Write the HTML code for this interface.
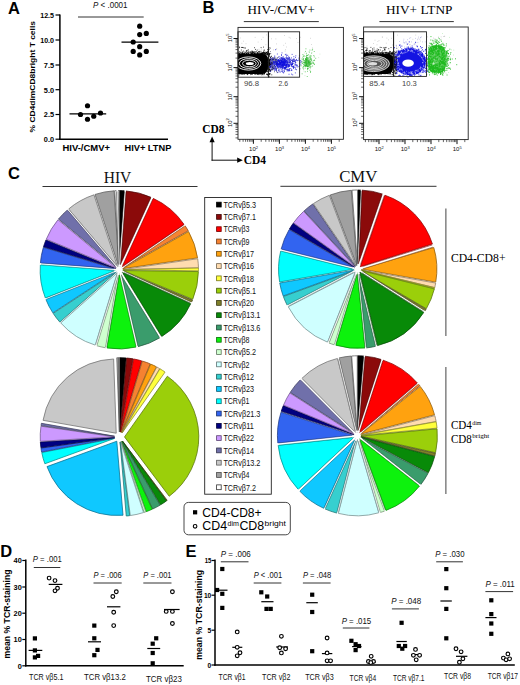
<!DOCTYPE html>
<html><head><meta charset="utf-8"><title>Figure</title>
<style>html,body{margin:0;padding:0;background:#fff}svg{display:block}</style></head>
<body>
<svg width="520" height="685" viewBox="0 0 520 685">
<rect width="520" height="685" fill="#fff"/>
<text x="8.1" y="13.5" font-family="'Liberation Sans', sans-serif" font-size="16.5" font-weight="bold" font-style="normal" text-anchor="start" fill="#000" >A</text>
<line x1="59.9" y1="14.4" x2="59.9" y2="139.9" stroke="#000" stroke-width="1.5" stroke-linecap="butt"/>
<line x1="59.2" y1="139.2" x2="168.0" y2="139.2" stroke="#000" stroke-width="1.5" stroke-linecap="butt"/>
<line x1="55.5" y1="15.0" x2="60.0" y2="15.0" stroke="#000" stroke-width="1.2" stroke-linecap="butt"/>
<text x="54.0" y="17.9" font-family="'Liberation Sans', sans-serif" font-size="8" font-weight="bold" font-style="normal" text-anchor="end" fill="#000" textLength="13.8" lengthAdjust="spacingAndGlyphs" >12.5</text>
<line x1="55.5" y1="40.0" x2="60.0" y2="40.0" stroke="#000" stroke-width="1.2" stroke-linecap="butt"/>
<text x="54.0" y="42.9" font-family="'Liberation Sans', sans-serif" font-size="8" font-weight="bold" font-style="normal" text-anchor="end" fill="#000" textLength="13.8" lengthAdjust="spacingAndGlyphs" >10.0</text>
<line x1="55.5" y1="65.0" x2="60.0" y2="65.0" stroke="#000" stroke-width="1.2" stroke-linecap="butt"/>
<text x="54.0" y="67.9" font-family="'Liberation Sans', sans-serif" font-size="8" font-weight="bold" font-style="normal" text-anchor="end" fill="#000" textLength="10.2" lengthAdjust="spacingAndGlyphs" >7.5</text>
<line x1="55.5" y1="89.7" x2="60.0" y2="89.7" stroke="#000" stroke-width="1.2" stroke-linecap="butt"/>
<text x="54.0" y="92.6" font-family="'Liberation Sans', sans-serif" font-size="8" font-weight="bold" font-style="normal" text-anchor="end" fill="#000" textLength="10.2" lengthAdjust="spacingAndGlyphs" >5.0</text>
<line x1="55.5" y1="114.5" x2="60.0" y2="114.5" stroke="#000" stroke-width="1.2" stroke-linecap="butt"/>
<text x="54.0" y="117.4" font-family="'Liberation Sans', sans-serif" font-size="8" font-weight="bold" font-style="normal" text-anchor="end" fill="#000" textLength="10.2" lengthAdjust="spacingAndGlyphs" >2.5</text>
<line x1="55.5" y1="139.2" x2="60.0" y2="139.2" stroke="#000" stroke-width="1.2" stroke-linecap="butt"/>
<text x="54.0" y="142.1" font-family="'Liberation Sans', sans-serif" font-size="8" font-weight="bold" font-style="normal" text-anchor="end" fill="#000" textLength="10.2" lengthAdjust="spacingAndGlyphs" >0.0</text>
<g transform="translate(35.3,132.5) rotate(-90)">
<text x="0.0" y="0.0" font-family="'Liberation Sans', sans-serif" font-size="8" font-weight="bold" font-style="normal" text-anchor="start" fill="#000" textLength="111.5" lengthAdjust="spacingAndGlyphs" >% CD4dimCD8bright T cells</text>
</g>
<text x="93.0" y="8.3" font-family="'Liberation Sans', sans-serif" font-size="8.4" font-weight="normal" font-style="normal" text-anchor="start" fill="#111" textLength="34.5" lengthAdjust="spacingAndGlyphs" ><tspan font-style="italic">P</tspan> &lt; .0001</text>
<line x1="78.0" y1="17.0" x2="143.7" y2="17.0" stroke="#333" stroke-width="1" stroke-linecap="butt"/>
<circle cx="87.5" cy="105.75" r="2.6" fill="#000"/>
<circle cx="80.5" cy="114.5" r="2.6" fill="#000"/>
<circle cx="100.5" cy="113" r="2.6" fill="#000"/>
<circle cx="87.5" cy="119.25" r="2.6" fill="#000"/>
<circle cx="93.75" cy="116.25" r="2.6" fill="#000"/>
<line x1="69.5" y1="113.8" x2="106.2" y2="113.8" stroke="#000" stroke-width="1.3" stroke-linecap="butt"/>
<circle cx="139.7" cy="26.2" r="2.6" fill="#000"/>
<circle cx="139.7" cy="34.6" r="2.6" fill="#000"/>
<circle cx="146.3" cy="33.4" r="2.6" fill="#000"/>
<circle cx="133.2" cy="42" r="2.6" fill="#000"/>
<circle cx="139.7" cy="46.7" r="2.6" fill="#000"/>
<circle cx="133.2" cy="51.4" r="2.6" fill="#000"/>
<circle cx="146.3" cy="51.4" r="2.6" fill="#000"/>
<circle cx="139.7" cy="54.9" r="2.6" fill="#000"/>
<line x1="121.5" y1="42.2" x2="158.4" y2="42.2" stroke="#000" stroke-width="1.3" stroke-linecap="butt"/>
<text x="62.5" y="151.4" font-family="'Liberation Sans', sans-serif" font-size="9" font-weight="bold" font-style="normal" text-anchor="start" fill="#000" textLength="47.5" lengthAdjust="spacingAndGlyphs" >HIV-/CMV+</text>
<text x="124.5" y="151.4" font-family="'Liberation Sans', sans-serif" font-size="9" font-weight="bold" font-style="normal" text-anchor="start" fill="#000" textLength="46.8" lengthAdjust="spacingAndGlyphs" >HIV+ LTNP</text>
<text x="202.5" y="13.3" font-family="'Liberation Sans', sans-serif" font-size="16.5" font-weight="bold" font-style="normal" text-anchor="start" fill="#000" >B</text>
<text x="247.6" y="14.4" font-family="'Liberation Serif', serif" font-size="13.5" font-weight="normal" font-style="normal" text-anchor="start" fill="#000" textLength="67.2" lengthAdjust="spacingAndGlyphs" >HIV-/CMV+</text>
<line x1="243.8" y1="21.6" x2="318.8" y2="21.6" stroke="#333" stroke-width="1" stroke-linecap="butt"/>
<text x="386.0" y="14.4" font-family="'Liberation Serif', serif" font-size="13.5" font-weight="normal" font-style="normal" text-anchor="start" fill="#000" textLength="66.4" lengthAdjust="spacingAndGlyphs" >HIV+ LTNP</text>
<line x1="379.4" y1="21.6" x2="453.8" y2="21.6" stroke="#333" stroke-width="1" stroke-linecap="butt"/>
<rect x="238" y="27.4" width="105.4" height="111.9" fill="#fff" stroke="#222" stroke-width="0.9"/>
<path d="M285.0 49.6h0.6M296.1 38.5h0.6M261.1 49.2h0.6M239.4 48.4h0.6M297.7 42.5h0.6M261.3 39.4h0.6M257.8 42.1h0.6M276.1 43.9h0.6M312.3 47.9h0.6M284.8 51.1h0.6M254.8 37.4h0.6M284.1 35.5h0.6M241.6 43.3h0.6M273.3 49.9h0.6M285.3 43.3h0.6M275.6 38.9h0.6M239.9 38.0h0.6M289.9 38.1h0.6M266.2 34.9h0.6M300.1 37.3h0.6M258.7 49.3h0.6M276.5 48.8h0.6M286.1 47.0h0.6M245.7 43.7h0.6M276.4 49.2h0.6M265.6 44.7h0.6M243.4 41.2h0.6M262.8 37.3h0.6M299.1 41.1h0.6M311.0 44.5h0.6M283.5 45.3h0.6M288.8 37.3h0.6M271.4 38.8h0.6M268.6 36.4h0.6M310.2 38.3h0.6" stroke="#999" stroke-width="0.6" fill="none" opacity="1"/>
<clipPath id="cp238"><rect x="238" y="27.4" width="105.39999999999998" height="111.9"/></clipPath>
<g clip-path="url(#cp238)">
<path d="M259.4 51.9h0.8M259.1 52.9h0.8M268.1 50.0h0.8M242.6 53.9h0.8M255.6 54.3h0.8M258.5 73.4h0.8M251.1 53.7h0.8M266.0 54.1h0.8M248.3 73.8h0.8M249.9 52.3h0.8M268.9 74.0h0.8M254.7 51.6h0.8M256.8 73.7h0.8M254.6 73.9h0.8M242.8 54.0h0.8M262.0 53.0h0.8M251.4 53.9h0.8M258.0 73.5h0.8M261.2 54.0h0.8M249.6 52.2h0.8M268.2 73.9h0.8M246.7 50.9h0.8M269.3 54.1h0.8M266.6 74.2h0.8M251.6 51.1h0.8M267.4 52.9h0.8M254.6 52.2h0.8M263.7 73.8h0.8M258.1 51.7h0.8M250.7 53.5h0.8M244.8 48.1h0.8M241.6 74.4h0.8M257.0 73.8h0.8M268.7 54.5h0.8M258.3 53.9h0.8M251.1 74.2h0.8M261.3 53.8h0.8M263.6 50.3h0.8M267.2 54.1h0.8M238.6 53.0h0.8M244.0 73.8h0.8M256.8 53.2h0.8M238.7 53.5h0.8M255.2 49.4h0.8M257.5 53.4h0.8M239.3 47.3h0.8M265.2 52.3h0.8M248.1 54.5h0.8M263.4 51.8h0.8M263.4 54.2h0.8M266.2 52.5h0.8M258.4 74.6h0.8M259.1 73.7h0.8M263.6 53.2h0.8M265.7 52.9h0.8M238.9 74.8h0.8M256.0 51.3h0.8M246.1 53.9h0.8M241.2 54.4h0.8M259.1 51.4h0.8M249.9 51.9h0.8M245.9 53.8h0.8M240.6 74.2h0.8M247.6 54.3h0.8M242.2 54.5h0.8M240.6 52.1h0.8M247.8 49.7h0.8M244.0 54.3h0.8M250.0 74.6h0.8M261.2 73.9h0.8M259.5 54.2h0.8M254.5 74.2h0.8M246.5 53.0h0.8M266.6 52.5h0.8M263.5 74.7h0.8M269.8 48.1h0.8M262.8 54.2h0.8M243.9 73.4h0.8M261.0 54.4h0.8M251.4 52.4h0.8M255.3 54.0h0.8M261.0 53.4h0.8M267.3 54.2h0.8M262.3 53.0h0.8M260.7 47.6h0.8M241.9 52.5h0.8M241.7 53.7h0.8M252.2 74.1h0.8M267.2 54.2h0.8M240.2 54.1h0.8M248.0 52.8h0.8M252.5 52.5h0.8M266.3 52.3h0.8M250.6 52.7h0.8M254.1 53.3h0.8M265.4 53.8h0.8M259.4 54.2h0.8M247.0 54.4h0.8M255.1 53.8h0.8M265.9 54.4h0.8M241.6 47.4h0.8M245.4 52.5h0.8M254.2 54.0h0.8M239.3 51.6h0.8M240.1 53.0h0.8M266.1 74.2h0.8M262.3 74.2h0.8M259.7 73.7h0.8M243.3 73.7h0.8M267.3 74.4h0.8M267.9 54.2h0.8M240.9 50.0h0.8M263.6 54.0h0.8M260.4 74.2h0.8M251.8 53.9h0.8M264.6 53.7h0.8M244.7 73.6h0.8M240.1 73.5h0.8M268.6 54.3h0.8M261.0 53.2h0.8M240.7 73.6h0.8M267.7 53.9h0.8M258.1 74.0h0.8M256.9 52.8h0.8M266.0 52.5h0.8M261.9 74.1h0.8M263.7 52.6h0.8M264.1 73.6h0.8M251.0 73.5h0.8M261.7 53.1h0.8M262.1 53.3h0.8M264.4 52.3h0.8M263.0 52.2h0.8M239.1 53.1h0.8M256.5 73.9h0.8M259.6 74.0h0.8M243.9 53.5h0.8M251.7 51.5h0.8M252.3 52.1h0.8M268.2 51.4h0.8M246.5 50.5h0.8M259.9 53.2h0.8M244.3 53.4h0.8M264.4 54.0h0.8M252.6 53.8h0.8M244.4 53.1h0.8M262.6 53.2h0.8M264.1 54.0h0.8M259.8 54.0h0.8M250.0 73.5h0.8M253.2 54.4h0.8M244.5 52.0h0.8M247.8 53.7h0.8M251.5 74.1h0.8M244.2 54.2h0.8M262.5 53.3h0.8M258.9 73.6h0.8M261.9 54.4h0.8M252.0 54.1h0.8M252.1 73.5h0.8M242.4 54.0h0.8M268.7 53.8h0.8M243.3 54.2h0.8M252.6 54.3h0.8M263.3 52.3h0.8M251.0 54.1h0.8M243.1 47.7h0.8M259.3 54.2h0.8M257.2 74.2h0.8M268.4 53.2h0.8M248.1 51.2h0.8M267.2 49.7h0.8M259.2 73.7h0.8M268.4 74.5h0.8M254.4 52.9h0.8M260.1 54.0h0.8M262.1 53.5h0.8M242.2 53.7h0.8M252.3 52.1h0.8M266.7 74.5h0.8M250.9 54.1h0.8M245.8 53.7h0.8M259.9 54.1h0.8M268.0 53.7h0.8M242.1 53.2h0.8M254.5 53.6h0.8M265.0 54.1h0.8M262.4 73.8h0.8M258.1 52.0h0.8M247.3 73.5h0.8M261.6 52.6h0.8M260.3 54.2h0.8M268.7 74.5h0.8M261.3 53.6h0.8M265.4 53.9h0.8M247.7 53.2h0.8M246.6 53.3h0.8M252.9 53.6h0.8M267.4 53.3h0.8M254.2 53.3h0.8M263.7 52.9h0.8M265.6 54.0h0.8M254.6 54.3h0.8M240.3 53.9h0.8M253.0 52.6h0.8M248.2 54.3h0.8M242.9 54.1h0.8M268.4 73.7h0.8M248.3 73.4h0.8M256.8 50.1h0.8M244.3 74.1h0.8M243.3 74.1h0.8M242.3 51.8h0.8M250.9 52.9h0.8M255.3 73.8h0.8M241.4 47.5h0.8M241.2 53.6h0.8M265.1 53.7h0.8M248.6 52.3h0.8M267.4 54.1h0.8M253.5 51.5h0.8M252.0 53.1h0.8M269.3 74.7h0.8M263.8 53.8h0.8M238.4 52.9h0.8M252.5 73.5h0.8M243.3 53.8h0.8M239.7 54.5h0.8M252.8 52.8h0.8M247.0 52.6h0.8M262.1 54.1h0.8M262.1 54.4h0.8M267.3 51.5h0.8M246.1 53.8h0.8M257.2 53.0h0.8M260.7 54.3h0.8M269.0 73.5h0.8M266.9 52.0h0.8M248.6 53.8h0.8M267.3 74.5h0.8M256.1 53.6h0.8M261.5 74.9h0.8M243.0 51.1h0.8M263.0 47.1h0.8M246.5 53.5h0.8M268.2 53.9h0.8M250.9 54.4h0.8M253.0 54.4h0.8M251.8 53.7h0.8M262.1 73.7h0.8M263.6 52.6h0.8M246.9 54.2h0.8M249.9 54.4h0.8M244.0 54.1h0.8M262.1 54.4h0.8M239.1 53.6h0.8M246.1 51.2h0.8M256.8 53.4h0.8M240.6 52.6h0.8M246.1 53.3h0.8M247.1 74.4h0.8M268.3 54.3h0.8M257.2 74.0h0.8M248.5 53.3h0.8M255.5 53.0h0.8M248.6 54.2h0.8M267.6 53.3h0.8M260.6 51.3h0.8M268.6 49.5h0.8M241.0 53.9h0.8M245.0 54.5h0.8M258.2 54.1h0.8M266.8 53.4h0.8M240.8 73.6h0.8M255.5 74.0h0.8M246.3 73.9h0.8M264.1 73.6h0.8M238.5 53.5h0.8M242.1 74.1h0.8M263.1 53.1h0.8M239.1 47.2h0.8M245.8 51.2h0.8M247.9 54.4h0.8M252.1 53.1h0.8M254.0 47.7h0.8M248.1 53.5h0.8M254.1 53.8h0.8M269.6 73.9h0.8M254.3 53.2h0.8M268.3 53.1h0.8M242.8 53.0h0.8M257.9 73.8h0.8M244.7 53.9h0.8M260.3 53.3h0.8M269.1 54.0h0.8M251.7 73.6h0.8M246.1 53.9h0.8M250.2 53.8h0.8M259.0 54.2h0.8M268.6 53.7h0.8M265.4 53.4h0.8M247.2 74.6h0.8M257.2 53.6h0.8M263.8 54.4h0.8M249.2 54.4h0.8M257.9 53.7h0.8M268.7 47.8h0.8M263.7 53.3h0.8M244.5 47.9h0.8M257.8 53.2h0.8M254.6 54.5h0.8M242.1 47.5h0.8M242.5 54.3h0.8M242.3 53.2h0.8M251.5 53.4h0.8M259.2 54.0h0.8M252.8 52.3h0.8M260.9 54.0h0.8M250.6 54.4h0.8M259.5 54.2h0.8M269.6 53.6h0.8M268.6 54.1h0.8M244.8 53.1h0.8M256.9 52.4h0.8M263.9 50.1h0.8M242.4 54.4h0.8M251.7 51.3h0.8M254.3 53.7h0.8M262.4 73.4h0.8M269.6 73.6h0.8" stroke="#000" stroke-width="0.8" fill="none" opacity="1"/>
<path d="M268.8 61.5h0.8M268.6 62.0h0.8M269.9 63.9h0.8M272.3 69.0h0.8M269.3 58.9h0.8M267.8 68.3h0.8M268.7 59.8h0.8M268.8 67.6h0.8M267.7 57.7h0.8M270.3 59.8h0.8M271.8 67.0h0.8M268.3 65.7h0.8M271.0 69.2h0.8M269.4 67.6h0.8M269.4 59.6h0.8M269.0 62.8h0.8M270.4 70.7h0.8M272.2 57.8h0.8M267.5 62.2h0.8M267.3 64.7h0.8M267.4 69.0h0.8M271.6 63.3h0.8M268.5 64.0h0.8M267.4 58.7h0.8M268.3 67.3h0.8M267.7 59.9h0.8M271.4 74.8h0.8M270.1 64.8h0.8M272.4 67.2h0.8M267.4 62.3h0.8M268.1 62.2h0.8M268.1 67.0h0.8M267.8 61.1h0.8M269.5 63.1h0.8M268.9 62.4h0.8M269.2 65.1h0.8M268.0 65.1h0.8M267.0 62.7h0.8M267.6 67.1h0.8M269.3 70.0h0.8M267.0 59.6h0.8M268.0 59.9h0.8M267.3 59.7h0.8M269.4 59.4h0.8M271.9 59.6h0.8M271.3 63.1h0.8M269.2 66.5h0.8M269.8 59.5h0.8M270.8 64.9h0.8M266.9 68.6h0.8M272.3 69.8h0.8M267.2 65.1h0.8M268.3 60.2h0.8M269.2 63.6h0.8M269.0 63.0h0.8M267.1 75.0h0.8M268.8 62.7h0.8M267.3 65.5h0.8M269.2 60.8h0.8M268.7 55.1h0.8M268.9 66.0h0.8M267.0 58.2h0.8M267.7 63.5h0.8M268.0 60.3h0.8M267.5 54.2h0.8M269.4 71.4h0.8M271.7 61.6h0.8M267.4 61.4h0.8M268.7 63.0h0.8M266.9 62.9h0.8M271.0 62.6h0.8M268.8 60.6h0.8M267.4 66.5h0.8M268.9 60.8h0.8M268.9 69.2h0.8M269.4 70.2h0.8M267.2 62.4h0.8M268.7 56.5h0.8M267.4 60.6h0.8M267.7 54.6h0.8M268.9 63.2h0.8M268.9 68.3h0.8M267.1 62.4h0.8M268.7 65.3h0.8M267.4 66.3h0.8M270.8 63.1h0.8M270.2 59.0h0.8M270.1 57.3h0.8M269.8 64.4h0.8M270.2 66.6h0.8M269.7 61.5h0.8M268.4 61.6h0.8M267.5 66.5h0.8M269.5 69.4h0.8M269.5 70.1h0.8M268.4 55.6h0.8M267.2 64.9h0.8M267.7 67.9h0.8M267.7 58.7h0.8M270.1 66.6h0.8M267.4 67.9h0.8M269.2 65.0h0.8M272.3 59.9h0.8M267.9 58.4h0.8M267.3 69.3h0.8M268.0 57.6h0.8M271.4 61.0h0.8M269.6 64.5h0.8M267.8 59.8h0.8M268.6 60.9h0.8M268.9 64.2h0.8M268.6 60.1h0.8M267.6 62.8h0.8M273.1 59.8h0.8M269.9 63.0h0.8M267.2 66.9h0.8M268.9 69.6h0.8M267.6 60.3h0.8M268.1 65.8h0.8M268.2 70.3h0.8M267.8 68.6h0.8M270.2 64.1h0.8M270.2 57.4h0.8M270.1 71.3h0.8M268.8 69.5h0.8M268.2 71.9h0.8M269.1 62.8h0.8M267.3 63.7h0.8M267.3 60.6h0.8M267.0 71.3h0.8M270.6 64.6h0.8M268.9 64.2h0.8M268.7 63.0h0.8M268.6 55.4h0.8M269.3 60.3h0.8M268.3 64.2h0.8M272.6 59.5h0.8M267.4 71.1h0.8M267.5 64.6h0.8M270.0 70.5h0.8M270.9 63.4h0.8M267.4 55.2h0.8M268.8 76.7h0.8M268.5 69.6h0.8M268.1 58.4h0.8M269.8 57.1h0.8M267.4 64.7h0.8M268.8 65.4h0.8M267.8 59.5h0.8M269.7 63.6h0.8M268.5 56.8h0.8M269.7 60.8h0.8M271.0 56.6h0.8M270.5 64.2h0.8M267.8 73.3h0.8M270.2 59.9h0.8M268.9 62.2h0.8M267.6 71.8h0.8M267.6 57.5h0.8M269.8 65.0h0.8" stroke="#000" stroke-width="0.8" fill="none" opacity="1"/>
<path d="M238 54.0H262.4Q267.9 54.0 267.9 59.3V67.3Q267.9 73.9 262.4 73.9H238Z" fill="#000"/>
<ellipse cx="248.5" cy="63.5" rx="12.3" ry="6.6" fill="none" stroke="#fff" stroke-width="0.9"/>
<ellipse cx="248.9" cy="63.5" rx="9.6" ry="4.9" fill="none" stroke="#fff" stroke-width="0.9"/>
<ellipse cx="249.3" cy="63.5" rx="6.8" ry="3.3" fill="none" stroke="#fff" stroke-width="0.9"/>
<ellipse cx="249.8" cy="63.5" rx="4" ry="1.5" fill="#fff"/>
</g>
<path d="M285.1 58.0h0.85M274.1 65.6h0.85M287.4 60.9h0.85M287.8 65.8h0.85M286.0 61.2h0.85M288.9 69.8h0.85M272.9 67.3h0.85M293.0 67.4h0.85M283.8 58.9h0.85M287.8 60.6h0.85M288.5 70.8h0.85M274.8 69.4h0.85M296.0 69.7h0.85M282.3 58.7h0.85M281.0 54.7h0.85M274.1 62.8h0.85M281.6 71.2h0.85M293.5 63.3h0.85M292.8 60.4h0.85M279.6 67.1h0.85M271.9 62.4h0.85M271.3 64.0h0.85M296.4 60.5h0.85M284.4 59.9h0.85M272.7 58.6h0.85M294.9 72.9h0.85M286.6 60.6h0.85M288.5 62.2h0.85M289.3 64.7h0.85M284.9 65.9h0.85M277.6 61.9h0.85M270.4 62.9h0.85M274.4 63.9h0.85M286.4 57.8h0.85M275.6 59.7h0.85M288.8 70.3h0.85M289.7 62.1h0.85M295.0 57.4h0.85M295.2 60.9h0.85M295.9 59.4h0.85M283.9 62.6h0.85M283.4 57.6h0.85M276.7 65.4h0.85M284.4 68.3h0.85M283.2 72.9h0.85M276.4 64.5h0.85M293.8 59.7h0.85M287.0 63.3h0.85M273.6 62.1h0.85M278.1 61.6h0.85M288.9 66.1h0.85M277.6 59.9h0.85M284.9 63.1h0.85M291.2 74.1h0.85M289.7 63.4h0.85M281.0 60.1h0.85M274.8 59.5h0.85M279.1 61.8h0.85M288.8 61.9h0.85M280.8 58.6h0.85M296.5 65.5h0.85M297.7 66.7h0.85M295.2 62.5h0.85M288.6 74.3h0.85M272.1 68.2h0.85M296.9 65.2h0.85M289.0 68.6h0.85M276.8 65.2h0.85M275.0 60.7h0.85M277.1 62.9h0.85M283.8 65.4h0.85M270.2 71.6h0.85M292.6 66.5h0.85M279.4 63.1h0.85M287.3 65.2h0.85M291.2 65.0h0.85M281.5 69.1h0.85M272.2 64.2h0.85M295.3 62.7h0.85M278.9 64.0h0.85M278.6 69.9h0.85M274.6 67.1h0.85M271.6 66.3h0.85M281.6 52.9h0.85M282.4 59.1h0.85M278.6 69.8h0.85M272.7 59.1h0.85M295.1 64.0h0.85M296.0 64.8h0.85M274.8 63.2h0.85M293.2 67.4h0.85M282.5 63.7h0.85M281.5 61.1h0.85M299.4 63.5h0.85M272.6 61.5h0.85M288.8 66.1h0.85M281.3 60.8h0.85M282.7 56.6h0.85M271.1 66.8h0.85M278.3 65.0h0.85M293.1 66.2h0.85M282.7 72.3h0.85M288.3 62.0h0.85M288.9 65.2h0.85M275.0 63.8h0.85M281.1 55.4h0.85M281.0 62.3h0.85M278.7 56.7h0.85M279.4 63.3h0.85M283.4 58.8h0.85M288.0 58.5h0.85M280.5 68.9h0.85M276.5 61.4h0.85M291.9 61.9h0.85M279.9 64.4h0.85M291.7 54.4h0.85M275.3 59.4h0.85M273.0 60.0h0.85M275.2 64.7h0.85M274.7 64.0h0.85M286.0 60.5h0.85M283.6 70.2h0.85M285.3 60.9h0.85M281.9 59.7h0.85M284.9 67.0h0.85M275.4 62.6h0.85M292.2 61.5h0.85M284.1 59.3h0.85M275.4 61.4h0.85M301.0 61.9h0.85M278.0 61.2h0.85M281.1 66.1h0.85M284.1 71.7h0.85M284.3 69.3h0.85M284.9 65.9h0.85M270.2 63.0h0.85M281.9 62.5h0.85M279.2 61.7h0.85M280.3 62.6h0.85M286.0 58.4h0.85M274.6 64.7h0.85M283.7 62.0h0.85M277.6 60.2h0.85M282.0 68.2h0.85M273.5 69.6h0.85M289.7 61.7h0.85M289.2 57.6h0.85M279.0 62.2h0.85M278.1 63.9h0.85M270.4 60.9h0.85M279.0 58.9h0.85M270.8 59.5h0.85M282.4 65.9h0.85M287.3 59.5h0.85M275.8 59.8h0.85M286.3 55.4h0.85M293.0 61.6h0.85M275.8 64.9h0.85M291.3 64.9h0.85M291.4 64.0h0.85M293.0 68.5h0.85M281.7 69.3h0.85M283.9 63.8h0.85M274.7 62.3h0.85M289.1 58.2h0.85M288.0 64.9h0.85M284.9 54.7h0.85M281.6 66.1h0.85M276.0 63.9h0.85M276.9 67.0h0.85M280.5 66.7h0.85M274.6 61.0h0.85M276.5 62.4h0.85M273.8 68.3h0.85M297.2 60.7h0.85M291.9 66.8h0.85M292.3 60.0h0.85M281.1 58.0h0.85M270.4 67.4h0.85M276.8 72.6h0.85M283.1 60.9h0.85M289.3 70.7h0.85M286.6 58.6h0.85M285.7 69.0h0.85M278.3 60.4h0.85M291.1 64.1h0.85M273.1 62.0h0.85M276.1 64.7h0.85M283.4 68.1h0.85M288.5 57.2h0.85M286.0 67.1h0.85M286.4 67.6h0.85M277.8 59.7h0.85M290.4 59.2h0.85M276.3 62.3h0.85M270.6 58.2h0.85M272.7 62.1h0.85M285.6 54.3h0.85M288.9 58.8h0.85M273.4 66.2h0.85M281.9 57.4h0.85M298.2 60.1h0.85M284.6 64.3h0.85M294.5 61.7h0.85M291.1 60.5h0.85M292.0 60.4h0.85M279.4 71.1h0.85M285.2 63.9h0.85M275.6 66.4h0.85M272.5 68.0h0.85M292.8 61.2h0.85M277.2 64.2h0.85M282.6 59.6h0.85M287.3 55.3h0.85M278.8 61.9h0.85M280.2 64.7h0.85M272.1 65.9h0.85M281.0 60.9h0.85M270.9 58.8h0.85M285.6 59.6h0.85M283.0 67.7h0.85M291.3 69.7h0.85M280.0 59.2h0.85M291.2 64.7h0.85M292.1 63.5h0.85M292.7 66.9h0.85M288.6 65.5h0.85M285.9 64.4h0.85M284.4 67.5h0.85M278.1 70.4h0.85M281.6 67.4h0.85M281.7 62.5h0.85M299.8 62.3h0.85M271.6 60.6h0.85M279.8 72.1h0.85M284.3 67.2h0.85M274.0 64.9h0.85M288.2 70.7h0.85M276.6 65.9h0.85M285.1 59.4h0.85M282.3 62.4h0.85M287.1 61.7h0.85M271.1 69.4h0.85M284.8 67.6h0.85M294.5 61.4h0.85M289.4 62.5h0.85M282.0 63.2h0.85M282.5 68.0h0.85M283.6 62.9h0.85M280.1 64.9h0.85M274.9 61.5h0.85M282.1 61.2h0.85M281.5 61.1h0.85M299.5 68.8h0.85M286.3 63.3h0.85M281.8 64.7h0.85M285.1 69.1h0.85M282.3 71.9h0.85M275.0 66.3h0.85M274.0 70.8h0.85M279.7 63.3h0.85M290.4 68.5h0.85M273.0 62.1h0.85M270.6 64.0h0.85M281.6 62.1h0.85M276.7 62.0h0.85M276.2 65.6h0.85M295.4 55.8h0.85M281.5 61.8h0.85M286.7 59.7h0.85M281.3 59.3h0.85M288.4 63.9h0.85M281.1 65.0h0.85M280.4 57.3h0.85M287.6 64.7h0.85M281.2 67.4h0.85M292.9 59.1h0.85M275.9 69.7h0.85M294.6 60.5h0.85M272.5 60.9h0.85M278.3 57.2h0.85M282.8 58.4h0.85M272.2 67.2h0.85M276.7 63.2h0.85M287.8 66.8h0.85M279.6 63.7h0.85M275.5 70.5h0.85M288.0 59.1h0.85M282.5 66.4h0.85M286.6 70.8h0.85M294.2 61.3h0.85M281.7 58.4h0.85M284.6 64.1h0.85M283.5 58.5h0.85M275.1 62.0h0.85M285.4 62.8h0.85M274.9 66.7h0.85M277.9 61.5h0.85M270.8 60.4h0.85M288.0 57.0h0.85M281.9 66.4h0.85M279.3 64.5h0.85M273.0 68.7h0.85M291.9 64.4h0.85M290.8 70.4h0.85M285.0 68.5h0.85M277.3 62.7h0.85M282.5 65.2h0.85M269.5 67.3h0.85M293.7 58.9h0.85M271.0 64.9h0.85M276.9 54.0h0.85M289.4 64.1h0.85M278.4 72.0h0.85M283.7 60.5h0.85M283.4 59.3h0.85M276.0 65.0h0.85M277.8 61.7h0.85M296.7 66.9h0.85M289.3 65.6h0.85M286.6 69.3h0.85M282.3 70.9h0.85M274.4 62.5h0.85M270.8 62.1h0.85M286.9 69.3h0.85M276.9 63.5h0.85M279.4 60.5h0.85M272.4 63.7h0.85M282.7 60.9h0.85M273.9 58.0h0.85M298.4 58.1h0.85M295.7 65.9h0.85M279.4 58.9h0.85M291.4 70.4h0.85M274.6 62.3h0.85M291.4 64.8h0.85M299.5 61.2h0.85M287.1 58.5h0.85M300.3 60.6h0.85M281.3 71.2h0.85M279.6 63.4h0.85M287.5 69.8h0.85M282.0 67.7h0.85M286.9 62.3h0.85M283.2 63.6h0.85M274.7 68.4h0.85M270.7 68.2h0.85M290.6 63.1h0.85M276.0 62.6h0.85M286.5 66.5h0.85M284.9 67.5h0.85M277.8 64.4h0.85M269.2 66.6h0.85M283.8 61.8h0.85M292.4 66.3h0.85M270.1 67.8h0.85M283.1 62.5h0.85M285.5 66.1h0.85M293.4 59.6h0.85M295.9 59.8h0.85M284.9 68.1h0.85M288.6 59.7h0.85M276.5 61.7h0.85M282.1 68.1h0.85M271.5 65.4h0.85M287.7 65.7h0.85M286.5 69.6h0.85M286.6 66.9h0.85M287.3 70.7h0.85M280.3 62.4h0.85M274.3 56.0h0.85M279.3 60.8h0.85M286.7 57.6h0.85M294.7 64.6h0.85M280.4 60.7h0.85M275.8 59.0h0.85M277.9 63.5h0.85M281.0 57.8h0.85M280.2 59.9h0.85M283.9 71.0h0.85M287.8 62.2h0.85M276.0 63.8h0.85M277.2 63.9h0.85M294.4 60.8h0.85M279.6 60.3h0.85M289.9 59.4h0.85M272.9 57.9h0.85M270.5 65.4h0.85M290.6 64.5h0.85M273.1 62.4h0.85M280.5 60.7h0.85M298.9 55.9h0.85M285.7 64.8h0.85M277.6 64.1h0.85M290.0 64.1h0.85M286.0 66.3h0.85M291.1 57.9h0.85M281.5 60.3h0.85M277.5 67.4h0.85M275.7 63.0h0.85M283.3 60.7h0.85M276.4 71.0h0.85M272.2 59.3h0.85M275.6 68.3h0.85M300.4 64.8h0.85M276.4 61.8h0.85M291.6 59.9h0.85M294.9 69.2h0.85M283.1 66.1h0.85M288.9 69.7h0.85M273.6 68.2h0.85M279.3 60.4h0.85M283.4 62.6h0.85M274.1 57.1h0.85M274.5 69.3h0.85M299.2 66.1h0.85M292.6 61.4h0.85M281.8 64.6h0.85M273.3 59.5h0.85M283.3 62.2h0.85M273.5 65.0h0.85M280.3 67.6h0.85M282.5 62.3h0.85M283.6 62.8h0.85M276.8 61.9h0.85M288.9 66.1h0.85M293.4 56.7h0.85M279.2 61.8h0.85M284.0 61.7h0.85M278.1 66.6h0.85M284.0 58.8h0.85M293.8 67.5h0.85M277.6 66.8h0.85M276.3 68.0h0.85M280.6 60.3h0.85M279.3 60.4h0.85M284.1 64.2h0.85M282.8 61.3h0.85M292.1 64.6h0.85M279.2 62.8h0.85M281.4 61.3h0.85M277.5 59.8h0.85M292.6 63.4h0.85M290.6 62.5h0.85M283.1 62.8h0.85M286.4 66.8h0.85M284.5 60.8h0.85M275.9 70.1h0.85M280.1 62.3h0.85M295.0 67.9h0.85M287.0 61.9h0.85M287.1 62.8h0.85M270.5 58.2h0.85M286.0 65.1h0.85M280.5 58.8h0.85M270.2 62.2h0.85M270.1 67.1h0.85M292.3 74.8h0.85M290.0 61.1h0.85M275.1 49.7h0.85M277.4 62.8h0.85M290.7 65.9h0.85M287.5 64.4h0.85M288.1 69.3h0.85M273.4 61.7h0.85M270.7 70.0h0.85M293.5 66.5h0.85M272.3 64.2h0.85M280.5 63.8h0.85M280.9 65.6h0.85M279.1 66.9h0.85M284.6 62.3h0.85M281.5 61.7h0.85M289.4 62.4h0.85M285.0 61.9h0.85M269.9 67.1h0.85M273.5 66.2h0.85M286.1 56.9h0.85M274.5 61.4h0.85M275.5 58.8h0.85M288.8 62.5h0.85M285.8 61.8h0.85" stroke="#2020d0" stroke-width="0.85" fill="none" opacity="1"/>
<path d="M283.2 61.8h0.9M281.9 64.8h0.9M282.2 62.5h0.9M277.7 63.9h0.9M283.4 62.9h0.9M278.9 64.7h0.9M291.9 62.8h0.9M283.3 64.3h0.9M271.7 63.8h0.9M279.2 66.5h0.9M281.0 61.8h0.9M281.1 63.9h0.9M279.8 63.4h0.9M276.6 63.0h0.9M285.1 67.8h0.9M284.8 64.1h0.9M286.7 65.7h0.9M288.7 65.9h0.9M281.5 64.1h0.9M282.7 64.2h0.9M282.8 61.8h0.9M273.6 62.0h0.9M273.9 63.6h0.9M282.0 59.8h0.9M284.8 65.4h0.9M282.4 67.2h0.9M289.5 60.8h0.9M286.1 64.5h0.9M283.7 65.6h0.9M279.1 62.2h0.9M278.7 61.8h0.9M281.6 60.3h0.9M277.8 64.8h0.9M281.7 64.3h0.9M274.4 61.8h0.9M279.8 63.6h0.9M279.7 65.6h0.9M281.8 63.5h0.9M282.1 65.1h0.9M280.1 66.0h0.9M283.8 63.8h0.9M282.2 64.6h0.9M286.1 65.6h0.9M283.5 65.4h0.9M282.5 66.3h0.9M281.9 58.9h0.9M287.4 63.7h0.9M277.3 63.1h0.9M278.5 68.1h0.9M284.0 60.0h0.9M284.2 62.6h0.9M289.7 61.2h0.9M273.0 63.6h0.9M280.6 62.6h0.9M273.4 64.4h0.9M288.7 59.3h0.9M286.7 62.2h0.9M291.4 64.5h0.9M281.2 65.9h0.9M284.1 62.2h0.9M284.8 62.4h0.9M274.8 68.0h0.9M280.6 62.2h0.9M283.4 60.1h0.9M276.6 62.4h0.9M279.9 63.7h0.9M286.5 62.5h0.9M284.0 64.8h0.9M277.7 64.0h0.9M278.2 65.8h0.9M283.8 63.5h0.9M276.6 63.8h0.9M278.9 65.1h0.9M281.5 61.7h0.9M285.7 65.1h0.9M279.6 66.1h0.9M280.8 62.8h0.9M282.5 61.8h0.9M280.2 63.1h0.9M288.1 66.8h0.9M281.0 67.0h0.9M281.8 64.3h0.9M285.5 64.1h0.9M291.7 64.0h0.9M277.2 66.4h0.9M280.4 62.8h0.9M270.0 65.7h0.9M285.3 65.3h0.9M285.9 67.2h0.9M281.8 65.6h0.9M279.0 62.7h0.9M286.2 64.4h0.9M276.7 64.3h0.9M281.3 61.7h0.9M283.7 62.6h0.9M275.7 61.1h0.9M289.1 60.2h0.9M282.9 64.8h0.9M284.6 60.8h0.9M280.7 63.8h0.9M285.2 62.1h0.9M277.3 65.7h0.9M286.4 64.3h0.9M279.6 64.4h0.9M282.4 65.3h0.9M277.0 63.8h0.9M281.4 61.1h0.9M282.9 63.6h0.9M280.4 64.4h0.9M276.3 63.4h0.9M283.7 64.1h0.9M286.3 60.9h0.9M276.0 64.0h0.9M283.8 68.2h0.9M284.5 61.6h0.9M285.2 61.6h0.9M276.1 69.2h0.9M283.3 65.1h0.9M284.3 67.5h0.9M283.1 66.2h0.9M277.9 60.4h0.9M287.7 66.7h0.9M284.0 64.0h0.9M282.7 62.0h0.9M288.2 64.9h0.9M284.0 64.3h0.9M286.2 64.6h0.9M285.0 60.9h0.9M284.0 68.3h0.9M279.9 63.2h0.9M285.6 65.6h0.9M284.5 59.9h0.9M284.0 60.9h0.9M278.7 64.7h0.9M280.8 65.3h0.9M294.6 65.2h0.9M284.9 61.5h0.9M279.4 61.2h0.9M279.9 61.1h0.9M279.4 63.0h0.9M278.0 60.4h0.9M276.6 64.5h0.9M282.2 65.8h0.9M286.2 62.8h0.9M284.7 60.3h0.9M291.1 66.1h0.9M281.1 60.9h0.9M283.5 59.4h0.9M278.9 65.1h0.9M282.3 62.4h0.9M285.8 61.2h0.9M283.1 62.4h0.9M278.6 64.5h0.9M278.0 67.7h0.9M279.7 67.9h0.9M277.6 64.8h0.9M277.2 60.5h0.9M282.6 65.0h0.9M276.9 66.1h0.9M278.8 63.8h0.9M283.5 64.8h0.9M274.8 67.1h0.9M284.2 62.6h0.9M277.9 59.8h0.9M276.6 64.7h0.9M280.6 61.0h0.9M279.9 66.9h0.9M280.7 62.2h0.9M287.4 64.5h0.9M282.2 62.2h0.9" stroke="#1010e0" stroke-width="0.9" fill="none" opacity="1"/>
<path d="M273.7 58.0h0.7M269.1 62.3h0.7M272.0 65.8h0.7M270.8 64.3h0.7M270.5 53.6h0.7M273.4 59.0h0.7M274.8 62.1h0.7M277.0 58.3h0.7M276.3 63.8h0.7M274.3 65.5h0.7M272.0 58.7h0.7M274.1 71.8h0.7M273.2 68.5h0.7M270.4 70.0h0.7M277.1 72.4h0.7M270.7 62.2h0.7M273.1 66.0h0.7M271.8 62.5h0.7M274.8 60.0h0.7M274.0 66.9h0.7M274.5 68.2h0.7M276.9 68.2h0.7M276.1 71.2h0.7M272.5 64.3h0.7M271.0 56.1h0.7M268.9 68.4h0.7M272.0 60.0h0.7M272.2 67.7h0.7M276.2 59.7h0.7M271.8 67.9h0.7M273.4 59.9h0.7M270.4 70.3h0.7M270.2 51.6h0.7M274.0 58.7h0.7M270.8 66.1h0.7M274.1 60.1h0.7M270.9 59.0h0.7M276.3 60.4h0.7M271.5 67.0h0.7M274.7 58.8h0.7M268.9 55.9h0.7M274.7 60.0h0.7M276.6 61.4h0.7M275.5 57.3h0.7M272.5 63.0h0.7M276.5 68.4h0.7M273.3 68.1h0.7M272.3 63.3h0.7M277.4 57.5h0.7M272.0 69.6h0.7" stroke="#223" stroke-width="0.7" fill="none" opacity="1"/>
<path d="M307.8 65.3h0.85M305.8 60.1h0.85M304.9 66.3h0.85M308.2 60.7h0.85M306.0 64.4h0.85M308.2 58.0h0.85M312.8 63.0h0.85M307.1 68.6h0.85M310.5 61.4h0.85M308.9 56.9h0.85M305.0 51.4h0.85M311.1 53.1h0.85M309.3 58.0h0.85M303.9 60.9h0.85M308.0 64.6h0.85M312.9 63.4h0.85M310.0 59.0h0.85M309.5 62.5h0.85M305.6 61.4h0.85M306.9 62.7h0.85M308.4 59.5h0.85M304.7 65.2h0.85M301.5 59.0h0.85M312.2 49.3h0.85M304.8 65.0h0.85M301.7 73.8h0.85M312.2 66.0h0.85M306.4 63.4h0.85M304.1 65.5h0.85M303.4 60.5h0.85M310.4 56.7h0.85M305.9 62.6h0.85M302.7 67.2h0.85M308.2 54.8h0.85M306.9 58.2h0.85M304.9 62.2h0.85M304.8 66.2h0.85M304.8 66.3h0.85M307.0 65.7h0.85M305.3 59.5h0.85M303.3 64.5h0.85M310.2 71.5h0.85M311.4 62.9h0.85M306.4 63.6h0.85M307.0 68.5h0.85M310.2 58.0h0.85M304.8 68.1h0.85M308.1 60.7h0.85M311.0 60.0h0.85M306.2 59.7h0.85M300.6 65.8h0.85M303.1 59.2h0.85M304.6 65.1h0.85M306.9 61.9h0.85M301.6 61.4h0.85M302.2 63.2h0.85M308.3 61.7h0.85M313.8 64.2h0.85M309.1 62.5h0.85M306.5 66.2h0.85M310.7 55.8h0.85M310.6 64.2h0.85M310.3 63.9h0.85M303.0 56.4h0.85M313.1 63.0h0.85M302.4 63.4h0.85M305.9 53.3h0.85M308.0 61.6h0.85M306.3 63.1h0.85M309.1 52.1h0.85M306.1 58.0h0.85M303.0 59.3h0.85M306.7 60.6h0.85M302.3 59.6h0.85M313.8 56.9h0.85M301.5 63.1h0.85M309.1 63.9h0.85M303.4 66.4h0.85M304.5 56.6h0.85M305.1 61.3h0.85M309.5 64.7h0.85M307.0 66.1h0.85M307.4 65.9h0.85M302.5 54.6h0.85M309.7 55.4h0.85M306.1 61.3h0.85M305.5 59.7h0.85M311.7 50.2h0.85M310.0 72.4h0.85M307.2 61.7h0.85M309.5 70.2h0.85M303.2 62.2h0.85M306.5 64.4h0.85M307.6 64.8h0.85M305.7 62.0h0.85M304.9 58.7h0.85M306.6 61.1h0.85M303.2 69.0h0.85M306.7 55.4h0.85M310.7 58.4h0.85M308.8 61.7h0.85M307.9 62.6h0.85M305.2 62.0h0.85M313.8 51.5h0.85M307.3 63.8h0.85M303.6 55.5h0.85M314.2 60.1h0.85M314.0 64.3h0.85M307.4 64.0h0.85M309.2 67.2h0.85M308.5 62.5h0.85M307.7 68.0h0.85M309.8 57.2h0.85M305.0 63.3h0.85M305.0 60.1h0.85M303.9 60.6h0.85M308.5 66.4h0.85M307.1 71.3h0.85M306.8 76.5h0.85M310.4 64.1h0.85M305.5 48.8h0.85M306.6 62.6h0.85M313.4 55.5h0.85M313.4 60.6h0.85M309.5 50.1h0.85M307.6 60.2h0.85M309.4 62.2h0.85M303.3 66.2h0.85M309.4 64.5h0.85M310.4 66.9h0.85M307.0 55.6h0.85M302.5 68.0h0.85M309.4 62.3h0.85M305.7 61.9h0.85M307.2 60.3h0.85M304.8 71.8h0.85M307.9 59.0h0.85M302.8 58.5h0.85M309.5 65.3h0.85M306.4 62.0h0.85M306.1 56.7h0.85M311.4 63.5h0.85M315.3 58.3h0.85M306.6 65.9h0.85M306.3 55.4h0.85M304.0 62.3h0.85M308.2 61.4h0.85M310.4 66.4h0.85M308.2 61.9h0.85M306.3 64.3h0.85M310.1 62.1h0.85M308.6 60.3h0.85M302.4 57.2h0.85M309.6 63.9h0.85M312.3 62.1h0.85M310.0 67.9h0.85M310.4 59.0h0.85M306.5 62.4h0.85M303.8 64.0h0.85M310.5 59.6h0.85M313.6 60.5h0.85M306.4 60.7h0.85M304.8 63.7h0.85M307.2 69.4h0.85M309.1 64.3h0.85M306.4 55.3h0.85M306.8 57.9h0.85M310.2 61.7h0.85" stroke="#48c048" stroke-width="0.85" fill="none" opacity="1"/>
<path d="M309.5 64.1h0.9M308.1 62.9h0.9M307.1 63.9h0.9M308.3 60.6h0.9M307.6 68.6h0.9M306.7 61.7h0.9M305.7 58.8h0.9M308.7 62.4h0.9M307.3 66.7h0.9M310.8 60.2h0.9M308.5 63.8h0.9M307.4 63.5h0.9M306.8 66.1h0.9M307.8 63.1h0.9M308.8 64.5h0.9M307.5 63.1h0.9M309.6 63.5h0.9M306.7 60.2h0.9M306.3 59.8h0.9M307.0 62.9h0.9M303.5 62.4h0.9M307.8 62.7h0.9M305.3 65.4h0.9M305.7 59.4h0.9M305.1 62.3h0.9M308.4 65.1h0.9M307.1 59.4h0.9M305.8 60.2h0.9M306.5 58.0h0.9M307.0 63.9h0.9M306.6 63.4h0.9M305.3 58.8h0.9M305.8 65.1h0.9M308.4 61.2h0.9M308.7 61.5h0.9M309.2 63.5h0.9M306.1 64.2h0.9M305.6 60.1h0.9M304.5 62.9h0.9M306.7 62.1h0.9M306.1 65.8h0.9M306.1 60.6h0.9M308.8 65.7h0.9M307.3 58.1h0.9M305.8 63.8h0.9M306.8 66.0h0.9M304.6 63.9h0.9M305.8 65.5h0.9M306.7 64.8h0.9M305.8 58.9h0.9M305.0 60.8h0.9M305.2 65.2h0.9M308.9 63.0h0.9M305.1 62.0h0.9M305.7 65.8h0.9M307.3 63.5h0.9M306.2 57.5h0.9M305.6 59.6h0.9M307.4 62.5h0.9M305.5 61.4h0.9M309.3 60.0h0.9M305.3 61.8h0.9M305.7 61.3h0.9M307.7 66.5h0.9M304.0 62.3h0.9M306.9 62.1h0.9M306.5 61.5h0.9M308.4 61.2h0.9M306.6 62.3h0.9M307.0 61.9h0.9" stroke="#2db52d" stroke-width="0.9" fill="none" opacity="1"/>
<path d="M312.6 60.2h0.7M308.5 59.9h0.7M302.6 54.5h0.7M302.3 61.6h0.7M304.0 52.9h0.7M308.8 64.0h0.7M298.8 72.1h0.7M307.8 59.6h0.7M312.9 60.8h0.7M304.6 75.7h0.7M302.2 59.6h0.7M311.8 52.8h0.7M307.1 63.0h0.7M319.6 54.1h0.7M307.4 64.9h0.7M308.0 51.9h0.7M309.6 61.1h0.7M309.8 68.2h0.7M312.7 63.2h0.7M309.2 52.6h0.7M306.9 61.8h0.7M305.6 61.0h0.7M303.5 71.0h0.7M318.4 57.6h0.7M309.6 58.7h0.7" stroke="#b5dcb5" stroke-width="0.7" fill="none" opacity="1"/>
<rect x="238" y="31.8" width="30.4" height="45.4" fill="none" stroke="#222" stroke-width="0.9"/>
<rect x="268.4" y="31.8" width="31.2" height="45.4" fill="none" stroke="#222" stroke-width="0.9"/>
<text x="251.5" y="86.0" font-family="'Liberation Sans', sans-serif" font-size="7.8" font-weight="normal" font-style="normal" text-anchor="middle" fill="#444" textLength="15.2" lengthAdjust="spacingAndGlyphs" >96.8</text>
<text x="283.3" y="86.0" font-family="'Liberation Sans', sans-serif" font-size="7.8" font-weight="normal" font-style="normal" text-anchor="middle" fill="#444" textLength="9.6" lengthAdjust="spacingAndGlyphs" >2.6</text>
<line x1="233.5" y1="38.5" x2="238.0" y2="38.5" stroke="#111" stroke-width="1.0" stroke-linecap="butt"/>
<line x1="235.5" y1="58.1" x2="238.0" y2="58.1" stroke="#222" stroke-width="0.7" stroke-linecap="butt"/>
<line x1="235.5" y1="53.1" x2="238.0" y2="53.1" stroke="#222" stroke-width="0.7" stroke-linecap="butt"/>
<line x1="235.5" y1="49.6" x2="238.0" y2="49.6" stroke="#222" stroke-width="0.7" stroke-linecap="butt"/>
<line x1="235.5" y1="46.9" x2="238.0" y2="46.9" stroke="#222" stroke-width="0.7" stroke-linecap="butt"/>
<line x1="235.5" y1="44.7" x2="238.0" y2="44.7" stroke="#222" stroke-width="0.7" stroke-linecap="butt"/>
<line x1="235.5" y1="42.8" x2="238.0" y2="42.8" stroke="#222" stroke-width="0.7" stroke-linecap="butt"/>
<line x1="235.5" y1="41.2" x2="238.0" y2="41.2" stroke="#222" stroke-width="0.7" stroke-linecap="butt"/>
<line x1="235.5" y1="39.8" x2="238.0" y2="39.8" stroke="#222" stroke-width="0.7" stroke-linecap="butt"/>
<g transform="translate(231.8,42.3) rotate(-90)">
<text x="0.0" y="0.0" font-family="'Liberation Sans', sans-serif" font-size="6" font-weight="normal" font-style="normal" text-anchor="start" fill="#111" >10</text>
<text x="6.6" y="-2.6" font-family="'Liberation Sans', sans-serif" font-size="4" font-weight="normal" font-style="normal" text-anchor="start" fill="#111" >5</text>
</g>
<line x1="233.5" y1="67.6" x2="238.0" y2="67.6" stroke="#111" stroke-width="1.0" stroke-linecap="butt"/>
<line x1="235.5" y1="87.2" x2="238.0" y2="87.2" stroke="#222" stroke-width="0.7" stroke-linecap="butt"/>
<line x1="235.5" y1="82.2" x2="238.0" y2="82.2" stroke="#222" stroke-width="0.7" stroke-linecap="butt"/>
<line x1="235.5" y1="78.7" x2="238.0" y2="78.7" stroke="#222" stroke-width="0.7" stroke-linecap="butt"/>
<line x1="235.5" y1="76.0" x2="238.0" y2="76.0" stroke="#222" stroke-width="0.7" stroke-linecap="butt"/>
<line x1="235.5" y1="73.8" x2="238.0" y2="73.8" stroke="#222" stroke-width="0.7" stroke-linecap="butt"/>
<line x1="235.5" y1="71.9" x2="238.0" y2="71.9" stroke="#222" stroke-width="0.7" stroke-linecap="butt"/>
<line x1="235.5" y1="70.3" x2="238.0" y2="70.3" stroke="#222" stroke-width="0.7" stroke-linecap="butt"/>
<line x1="235.5" y1="68.9" x2="238.0" y2="68.9" stroke="#222" stroke-width="0.7" stroke-linecap="butt"/>
<g transform="translate(231.8,71.4) rotate(-90)">
<text x="0.0" y="0.0" font-family="'Liberation Sans', sans-serif" font-size="6" font-weight="normal" font-style="normal" text-anchor="start" fill="#111" >10</text>
<text x="6.6" y="-2.6" font-family="'Liberation Sans', sans-serif" font-size="4" font-weight="normal" font-style="normal" text-anchor="start" fill="#111" >4</text>
</g>
<line x1="233.5" y1="96.7" x2="238.0" y2="96.7" stroke="#111" stroke-width="1.0" stroke-linecap="butt"/>
<line x1="235.5" y1="116.3" x2="238.0" y2="116.3" stroke="#222" stroke-width="0.7" stroke-linecap="butt"/>
<line x1="235.5" y1="111.3" x2="238.0" y2="111.3" stroke="#222" stroke-width="0.7" stroke-linecap="butt"/>
<line x1="235.5" y1="107.8" x2="238.0" y2="107.8" stroke="#222" stroke-width="0.7" stroke-linecap="butt"/>
<line x1="235.5" y1="105.1" x2="238.0" y2="105.1" stroke="#222" stroke-width="0.7" stroke-linecap="butt"/>
<line x1="235.5" y1="102.9" x2="238.0" y2="102.9" stroke="#222" stroke-width="0.7" stroke-linecap="butt"/>
<line x1="235.5" y1="101.0" x2="238.0" y2="101.0" stroke="#222" stroke-width="0.7" stroke-linecap="butt"/>
<line x1="235.5" y1="99.4" x2="238.0" y2="99.4" stroke="#222" stroke-width="0.7" stroke-linecap="butt"/>
<line x1="235.5" y1="98.0" x2="238.0" y2="98.0" stroke="#222" stroke-width="0.7" stroke-linecap="butt"/>
<g transform="translate(231.8,100.5) rotate(-90)">
<text x="0.0" y="0.0" font-family="'Liberation Sans', sans-serif" font-size="6" font-weight="normal" font-style="normal" text-anchor="start" fill="#111" >10</text>
<text x="6.6" y="-2.6" font-family="'Liberation Sans', sans-serif" font-size="4" font-weight="normal" font-style="normal" text-anchor="start" fill="#111" >3</text>
</g>
<line x1="233.5" y1="123.3" x2="238.0" y2="123.3" stroke="#111" stroke-width="1.0" stroke-linecap="butt"/>
<line x1="235.5" y1="137.9" x2="238.0" y2="137.9" stroke="#222" stroke-width="0.7" stroke-linecap="butt"/>
<line x1="235.5" y1="134.4" x2="238.0" y2="134.4" stroke="#222" stroke-width="0.7" stroke-linecap="butt"/>
<line x1="235.5" y1="131.7" x2="238.0" y2="131.7" stroke="#222" stroke-width="0.7" stroke-linecap="butt"/>
<line x1="235.5" y1="129.5" x2="238.0" y2="129.5" stroke="#222" stroke-width="0.7" stroke-linecap="butt"/>
<line x1="235.5" y1="127.6" x2="238.0" y2="127.6" stroke="#222" stroke-width="0.7" stroke-linecap="butt"/>
<line x1="235.5" y1="126.0" x2="238.0" y2="126.0" stroke="#222" stroke-width="0.7" stroke-linecap="butt"/>
<line x1="235.5" y1="124.6" x2="238.0" y2="124.6" stroke="#222" stroke-width="0.7" stroke-linecap="butt"/>
<g transform="translate(231.8,127.1) rotate(-90)">
<text x="0.0" y="0.0" font-family="'Liberation Sans', sans-serif" font-size="6" font-weight="normal" font-style="normal" text-anchor="start" fill="#111" >10</text>
<text x="6.6" y="-2.6" font-family="'Liberation Sans', sans-serif" font-size="4" font-weight="normal" font-style="normal" text-anchor="start" fill="#111" >2</text>
</g>
<line x1="253.4" y1="139.3" x2="253.4" y2="143.8" stroke="#111" stroke-width="1.0" stroke-linecap="butt"/>
<line x1="239.8" y1="139.3" x2="239.8" y2="141.8" stroke="#222" stroke-width="0.7" stroke-linecap="butt"/>
<line x1="243.1" y1="139.3" x2="243.1" y2="141.8" stroke="#222" stroke-width="0.7" stroke-linecap="butt"/>
<line x1="245.6" y1="139.3" x2="245.6" y2="141.8" stroke="#222" stroke-width="0.7" stroke-linecap="butt"/>
<line x1="247.6" y1="139.3" x2="247.6" y2="141.8" stroke="#222" stroke-width="0.7" stroke-linecap="butt"/>
<line x1="249.4" y1="139.3" x2="249.4" y2="141.8" stroke="#222" stroke-width="0.7" stroke-linecap="butt"/>
<line x1="250.9" y1="139.3" x2="250.9" y2="141.8" stroke="#222" stroke-width="0.7" stroke-linecap="butt"/>
<line x1="252.2" y1="139.3" x2="252.2" y2="141.8" stroke="#222" stroke-width="0.7" stroke-linecap="butt"/>
<text x="249.1" y="151.1" font-family="'Liberation Sans', sans-serif" font-size="6" font-weight="normal" font-style="normal" text-anchor="start" fill="#111" >10</text>
<text x="255.8" y="148.5" font-family="'Liberation Sans', sans-serif" font-size="4" font-weight="normal" font-style="normal" text-anchor="start" fill="#111" >2</text>
<line x1="279.4" y1="139.3" x2="279.4" y2="143.8" stroke="#111" stroke-width="1.0" stroke-linecap="butt"/>
<line x1="261.2" y1="139.3" x2="261.2" y2="141.8" stroke="#222" stroke-width="0.7" stroke-linecap="butt"/>
<line x1="265.8" y1="139.3" x2="265.8" y2="141.8" stroke="#222" stroke-width="0.7" stroke-linecap="butt"/>
<line x1="269.1" y1="139.3" x2="269.1" y2="141.8" stroke="#222" stroke-width="0.7" stroke-linecap="butt"/>
<line x1="271.6" y1="139.3" x2="271.6" y2="141.8" stroke="#222" stroke-width="0.7" stroke-linecap="butt"/>
<line x1="273.6" y1="139.3" x2="273.6" y2="141.8" stroke="#222" stroke-width="0.7" stroke-linecap="butt"/>
<line x1="275.4" y1="139.3" x2="275.4" y2="141.8" stroke="#222" stroke-width="0.7" stroke-linecap="butt"/>
<line x1="276.9" y1="139.3" x2="276.9" y2="141.8" stroke="#222" stroke-width="0.7" stroke-linecap="butt"/>
<line x1="278.2" y1="139.3" x2="278.2" y2="141.8" stroke="#222" stroke-width="0.7" stroke-linecap="butt"/>
<text x="275.1" y="151.1" font-family="'Liberation Sans', sans-serif" font-size="6" font-weight="normal" font-style="normal" text-anchor="start" fill="#111" >10</text>
<text x="281.8" y="148.5" font-family="'Liberation Sans', sans-serif" font-size="4" font-weight="normal" font-style="normal" text-anchor="start" fill="#111" >3</text>
<line x1="305.4" y1="139.3" x2="305.4" y2="143.8" stroke="#111" stroke-width="1.0" stroke-linecap="butt"/>
<line x1="287.2" y1="139.3" x2="287.2" y2="141.8" stroke="#222" stroke-width="0.7" stroke-linecap="butt"/>
<line x1="291.8" y1="139.3" x2="291.8" y2="141.8" stroke="#222" stroke-width="0.7" stroke-linecap="butt"/>
<line x1="295.1" y1="139.3" x2="295.1" y2="141.8" stroke="#222" stroke-width="0.7" stroke-linecap="butt"/>
<line x1="297.6" y1="139.3" x2="297.6" y2="141.8" stroke="#222" stroke-width="0.7" stroke-linecap="butt"/>
<line x1="299.6" y1="139.3" x2="299.6" y2="141.8" stroke="#222" stroke-width="0.7" stroke-linecap="butt"/>
<line x1="301.4" y1="139.3" x2="301.4" y2="141.8" stroke="#222" stroke-width="0.7" stroke-linecap="butt"/>
<line x1="302.9" y1="139.3" x2="302.9" y2="141.8" stroke="#222" stroke-width="0.7" stroke-linecap="butt"/>
<line x1="304.2" y1="139.3" x2="304.2" y2="141.8" stroke="#222" stroke-width="0.7" stroke-linecap="butt"/>
<text x="301.1" y="151.1" font-family="'Liberation Sans', sans-serif" font-size="6" font-weight="normal" font-style="normal" text-anchor="start" fill="#111" >10</text>
<text x="307.8" y="148.5" font-family="'Liberation Sans', sans-serif" font-size="4" font-weight="normal" font-style="normal" text-anchor="start" fill="#111" >4</text>
<line x1="331.4" y1="139.3" x2="331.4" y2="143.8" stroke="#111" stroke-width="1.0" stroke-linecap="butt"/>
<line x1="313.2" y1="139.3" x2="313.2" y2="141.8" stroke="#222" stroke-width="0.7" stroke-linecap="butt"/>
<line x1="317.8" y1="139.3" x2="317.8" y2="141.8" stroke="#222" stroke-width="0.7" stroke-linecap="butt"/>
<line x1="321.1" y1="139.3" x2="321.1" y2="141.8" stroke="#222" stroke-width="0.7" stroke-linecap="butt"/>
<line x1="323.6" y1="139.3" x2="323.6" y2="141.8" stroke="#222" stroke-width="0.7" stroke-linecap="butt"/>
<line x1="325.6" y1="139.3" x2="325.6" y2="141.8" stroke="#222" stroke-width="0.7" stroke-linecap="butt"/>
<line x1="327.4" y1="139.3" x2="327.4" y2="141.8" stroke="#222" stroke-width="0.7" stroke-linecap="butt"/>
<line x1="328.9" y1="139.3" x2="328.9" y2="141.8" stroke="#222" stroke-width="0.7" stroke-linecap="butt"/>
<line x1="330.2" y1="139.3" x2="330.2" y2="141.8" stroke="#222" stroke-width="0.7" stroke-linecap="butt"/>
<text x="327.1" y="151.1" font-family="'Liberation Sans', sans-serif" font-size="6" font-weight="normal" font-style="normal" text-anchor="start" fill="#111" >10</text>
<text x="333.8" y="148.5" font-family="'Liberation Sans', sans-serif" font-size="4" font-weight="normal" font-style="normal" text-anchor="start" fill="#111" >5</text>
<line x1="339.2" y1="139.3" x2="339.2" y2="141.8" stroke="#222" stroke-width="0.7" stroke-linecap="butt"/>
<rect x="363.6" y="27.0" width="104.6" height="112.6" fill="#fff" stroke="#222" stroke-width="0.9"/>
<path d="M440.9 39.3h0.6M415.5 35.1h0.6M396.4 46.4h0.6M393.8 48.1h0.6M438.4 37.1h0.6M420.3 41.0h0.6M378.7 40.6h0.6M403.6 49.6h0.6M426.5 34.9h0.6M369.2 51.2h0.6M409.6 44.9h0.6M393.1 48.5h0.6M409.7 44.6h0.6M384.8 47.6h0.6M381.9 37.1h0.6M412.9 48.5h0.6M388.3 39.8h0.6M376.7 44.8h0.6M427.0 36.9h0.6M407.9 43.7h0.6M373.2 43.5h0.6M386.6 38.1h0.6M444.3 36.3h0.6M392.4 45.0h0.6M397.4 35.1h0.6M434.7 38.7h0.6M397.9 49.8h0.6M443.0 49.9h0.6M397.9 47.1h0.6M433.2 38.1h0.6M443.0 36.5h0.6M417.8 38.7h0.6M382.0 37.1h0.6M440.8 36.9h0.6M438.4 37.5h0.6M391.2 38.3h0.6M444.5 36.3h0.6M434.3 39.8h0.6M441.6 47.2h0.6M385.9 43.2h0.6M377.6 41.5h0.6M366.7 46.0h0.6M412.6 39.3h0.6M365.7 50.3h0.6M374.7 40.2h0.6" stroke="#999" stroke-width="0.6" fill="none" opacity="1"/>
<clipPath id="cp363"><rect x="363.6" y="27.0" width="104.59999999999997" height="112.6"/></clipPath>
<g clip-path="url(#cp363)">
<path d="M364.4 53.8h0.8M380.4 53.8h0.8M374.1 54.4h0.8M366.2 53.8h0.8M371.7 51.5h0.8M376.9 53.5h0.8M370.5 47.4h0.8M372.0 53.5h0.8M373.5 53.3h0.8M382.9 47.8h0.8M382.1 53.7h0.8M384.4 49.2h0.8M385.5 73.4h0.8M371.6 53.3h0.8M394.9 73.6h0.8M367.5 54.3h0.8M369.8 54.1h0.8M388.6 54.0h0.8M373.1 52.5h0.8M376.5 51.3h0.8M373.2 74.2h0.8M391.2 53.2h0.8M378.2 49.7h0.8M383.2 52.4h0.8M369.4 73.9h0.8M389.1 51.3h0.8M372.1 50.1h0.8M372.5 53.1h0.8M390.3 73.5h0.8M384.4 50.0h0.8M388.4 48.7h0.8M378.9 54.3h0.8M389.8 52.9h0.8M367.2 74.4h0.8M366.0 73.6h0.8M395.1 52.6h0.8M388.3 53.6h0.8M367.7 54.2h0.8M371.7 73.7h0.8M384.6 50.0h0.8M364.5 52.6h0.8M374.5 51.4h0.8M374.4 54.5h0.8M378.0 53.7h0.8M375.7 50.4h0.8M379.7 53.9h0.8M389.2 73.9h0.8M393.1 53.8h0.8M376.9 52.6h0.8M384.2 47.9h0.8M367.3 54.3h0.8M366.2 53.4h0.8M371.1 54.1h0.8M374.4 53.4h0.8M389.9 53.4h0.8M367.0 53.0h0.8M374.5 51.7h0.8M383.7 73.6h0.8M365.8 54.5h0.8M372.9 53.8h0.8M378.0 53.0h0.8M378.9 73.8h0.8M395.0 54.1h0.8M363.8 52.7h0.8M392.4 52.7h0.8M385.5 52.6h0.8M374.0 54.4h0.8M366.2 50.7h0.8M375.1 73.6h0.8M386.0 52.4h0.8M369.6 51.8h0.8M381.8 54.2h0.8M392.3 53.4h0.8M364.0 73.5h0.8M371.5 53.5h0.8M377.4 74.3h0.8M368.9 52.6h0.8M376.5 54.4h0.8M385.6 47.4h0.8M389.4 54.4h0.8M386.0 53.0h0.8M371.4 74.2h0.8M392.2 74.6h0.8M365.5 53.3h0.8M381.7 52.5h0.8M370.0 73.6h0.8M387.6 54.5h0.8M387.5 53.2h0.8M370.3 52.7h0.8M375.0 53.4h0.8M367.1 50.1h0.8M366.6 54.4h0.8M368.5 54.1h0.8M368.4 73.8h0.8M384.8 54.5h0.8M377.0 52.5h0.8M389.6 51.9h0.8M374.4 73.7h0.8M381.4 54.0h0.8M389.6 54.2h0.8M386.0 54.2h0.8M382.7 53.1h0.8M380.8 53.0h0.8M365.9 53.0h0.8M365.1 73.7h0.8M381.0 54.3h0.8M375.0 73.4h0.8M366.0 54.2h0.8M368.8 53.9h0.8M377.4 50.5h0.8M380.6 74.6h0.8M382.0 54.0h0.8M364.6 74.1h0.8M380.6 52.8h0.8M366.6 74.4h0.8M372.3 74.5h0.8M371.8 54.4h0.8M384.8 52.4h0.8M366.3 50.3h0.8M378.3 73.6h0.8M383.3 53.8h0.8M379.9 50.0h0.8M378.6 53.6h0.8M365.6 73.6h0.8M365.2 54.3h0.8M381.8 53.4h0.8M384.5 52.3h0.8M371.6 74.9h0.8M374.4 54.4h0.8M377.1 53.7h0.8M368.7 53.2h0.8M394.6 52.3h0.8M383.0 54.2h0.8M391.4 52.9h0.8M384.3 73.7h0.8M379.4 52.6h0.8M370.0 73.8h0.8M366.3 53.2h0.8M366.1 74.3h0.8M372.3 73.6h0.8M372.1 48.8h0.8M383.9 53.9h0.8M366.8 48.3h0.8M366.3 53.6h0.8M387.7 74.0h0.8M386.5 52.4h0.8M381.8 51.4h0.8M369.5 52.4h0.8M368.5 51.2h0.8M379.7 47.3h0.8M368.6 74.1h0.8M368.4 53.6h0.8M375.1 53.2h0.8M371.0 53.0h0.8M374.0 51.7h0.8M373.9 74.4h0.8M386.4 54.2h0.8M386.8 53.0h0.8M371.0 52.8h0.8M375.0 51.8h0.8M387.8 53.6h0.8M389.9 73.4h0.8M394.4 54.5h0.8M381.0 54.5h0.8M373.9 54.0h0.8M381.2 54.4h0.8M382.4 54.2h0.8M378.4 49.9h0.8M378.1 74.2h0.8M383.2 53.9h0.8M364.0 54.0h0.8M371.7 74.5h0.8M367.2 52.7h0.8M372.8 53.6h0.8M373.7 73.6h0.8M380.8 47.5h0.8M381.6 52.4h0.8M373.0 54.3h0.8M389.4 53.8h0.8M385.6 54.4h0.8M370.3 54.3h0.8M373.1 73.5h0.8M365.1 74.1h0.8M367.0 53.2h0.8M364.1 53.7h0.8M391.2 54.2h0.8M386.7 54.5h0.8M371.4 53.4h0.8M392.1 54.3h0.8M386.4 54.1h0.8M372.9 53.3h0.8M367.5 54.5h0.8M373.0 52.8h0.8M380.2 54.5h0.8M388.0 54.2h0.8M388.5 53.8h0.8M377.5 54.0h0.8M383.3 73.6h0.8M384.3 49.3h0.8M372.1 53.0h0.8M372.0 53.3h0.8M385.3 73.5h0.8M378.2 54.0h0.8M364.1 54.1h0.8M369.3 50.6h0.8M375.3 54.1h0.8M382.2 53.2h0.8M381.9 53.3h0.8M385.4 73.6h0.8M389.1 53.7h0.8M371.8 52.5h0.8M367.1 53.7h0.8M384.8 53.0h0.8M376.9 53.5h0.8M370.6 73.7h0.8M378.8 51.9h0.8M380.2 53.6h0.8M364.3 51.6h0.8M385.2 53.7h0.8M369.7 54.0h0.8M388.6 52.5h0.8M378.6 73.5h0.8M380.7 74.0h0.8M370.7 53.2h0.8M375.8 52.2h0.8M364.0 53.8h0.8M366.1 54.1h0.8M390.6 47.5h0.8M375.9 54.5h0.8M391.9 52.1h0.8M363.7 74.2h0.8M392.2 53.7h0.8M379.3 54.0h0.8M365.7 54.0h0.8M363.7 54.1h0.8M365.5 50.6h0.8M370.2 50.7h0.8M377.4 54.4h0.8M367.7 53.9h0.8M365.6 50.6h0.8M382.6 50.5h0.8M372.3 54.5h0.8M373.0 53.3h0.8M386.8 53.1h0.8M371.0 52.6h0.8M375.9 53.6h0.8M391.8 53.1h0.8M373.3 54.4h0.8M391.7 53.3h0.8M364.4 73.7h0.8M377.8 74.2h0.8M380.2 52.9h0.8M378.3 54.0h0.8M379.0 54.3h0.8M390.6 74.6h0.8M378.9 74.1h0.8M385.1 54.3h0.8M391.0 54.0h0.8M391.5 54.0h0.8M370.8 54.3h0.8M388.7 53.0h0.8M376.1 53.2h0.8M372.5 52.1h0.8M378.4 74.7h0.8M386.7 53.4h0.8M373.6 48.0h0.8M391.1 53.4h0.8M366.3 53.3h0.8M371.7 53.4h0.8M366.3 53.8h0.8M363.7 47.7h0.8M394.7 73.4h0.8M367.3 53.4h0.8M365.5 47.6h0.8M387.8 52.9h0.8M389.4 54.5h0.8M367.9 54.2h0.8M366.0 52.2h0.8M391.7 53.9h0.8M373.8 74.1h0.8M389.6 52.0h0.8M372.3 54.4h0.8M367.4 73.8h0.8M369.6 73.6h0.8M394.3 53.9h0.8M389.1 54.1h0.8M364.2 54.1h0.8M385.1 73.7h0.8M382.4 54.3h0.8M374.6 53.1h0.8M376.5 53.6h0.8M393.3 52.3h0.8M371.1 54.2h0.8M366.1 54.5h0.8M384.1 54.4h0.8M388.9 52.7h0.8M393.6 53.2h0.8M378.3 53.8h0.8M366.3 73.6h0.8M376.9 51.6h0.8M373.6 49.9h0.8M381.6 54.2h0.8M375.5 54.4h0.8M366.2 49.2h0.8M393.8 54.1h0.8M367.9 53.0h0.8M369.4 53.3h0.8M390.6 53.3h0.8M365.2 53.4h0.8M365.2 54.3h0.8M372.7 53.5h0.8M382.8 53.8h0.8M377.9 53.5h0.8M370.9 73.5h0.8M390.2 51.7h0.8M388.0 53.6h0.8M370.3 53.6h0.8M378.0 53.4h0.8M383.5 73.4h0.8M376.8 49.0h0.8M377.2 54.2h0.8M373.5 53.9h0.8M392.7 54.0h0.8M365.7 73.5h0.8M366.1 52.9h0.8M371.9 74.0h0.8M391.2 53.2h0.8M385.4 47.8h0.8M372.7 54.0h0.8M384.9 52.7h0.8" stroke="#000" stroke-width="0.8" fill="none" opacity="1"/>
<path d="M392.4 58.1h0.8M396.5 60.2h0.8M394.6 72.6h0.8M394.3 64.5h0.8M393.0 65.6h0.8M392.7 72.7h0.8M393.3 63.0h0.8M394.4 61.6h0.8M393.0 74.2h0.8M394.0 60.6h0.8M392.1 57.7h0.8M396.9 68.3h0.8M394.0 60.3h0.8M393.0 58.1h0.8M394.6 63.8h0.8M397.2 66.7h0.8M393.6 55.5h0.8M392.3 57.1h0.8M393.7 61.9h0.8M392.1 62.6h0.8M393.5 55.4h0.8M393.2 56.1h0.8M394.8 61.5h0.8M393.8 64.3h0.8M394.2 64.2h0.8M392.4 63.1h0.8M393.9 53.8h0.8M392.8 58.3h0.8M394.9 63.0h0.8M393.1 65.9h0.8M394.4 51.4h0.8M392.4 72.8h0.8M393.9 70.2h0.8M392.2 55.8h0.8M394.7 66.6h0.8M394.1 59.3h0.8M392.8 64.3h0.8M396.1 61.3h0.8M395.5 73.9h0.8M392.5 72.2h0.8M393.4 59.0h0.8M397.2 67.8h0.8M393.1 74.7h0.8M392.7 63.9h0.8M396.2 70.5h0.8M393.0 62.2h0.8M397.1 67.6h0.8M394.1 60.0h0.8M392.2 65.0h0.8M394.1 63.5h0.8M395.8 61.8h0.8M393.6 60.7h0.8M397.8 59.0h0.8M394.2 64.3h0.8M394.0 64.8h0.8M396.7 61.6h0.8M393.1 66.5h0.8M393.9 67.6h0.8M396.1 60.9h0.8M393.6 55.2h0.8M396.5 66.1h0.8M392.1 64.0h0.8M393.5 61.6h0.8M393.8 71.6h0.8M392.7 54.8h0.8M394.8 66.1h0.8M393.5 64.0h0.8M397.1 63.4h0.8M393.1 53.8h0.8M393.5 59.6h0.8M392.3 64.8h0.8M393.9 71.7h0.8M394.6 60.8h0.8M392.5 56.8h0.8M393.2 66.2h0.8M392.9 72.6h0.8M392.2 64.5h0.8M394.3 54.7h0.8M393.6 61.4h0.8M393.2 66.9h0.8M397.5 57.4h0.8M396.2 69.8h0.8M393.5 60.5h0.8M394.6 67.5h0.8M393.1 64.2h0.8M396.7 68.9h0.8M392.9 65.8h0.8M394.7 62.1h0.8M392.6 66.6h0.8M392.9 61.8h0.8M392.1 60.5h0.8M393.6 67.7h0.8M392.2 72.5h0.8M395.6 61.9h0.8M395.8 60.9h0.8M395.7 70.0h0.8M393.2 57.1h0.8M393.7 57.9h0.8M395.2 62.3h0.8M393.3 57.6h0.8M393.0 58.0h0.8M392.1 62.9h0.8M393.6 60.8h0.8M395.1 56.4h0.8M392.7 70.8h0.8M393.9 59.8h0.8M394.1 57.2h0.8M394.2 61.1h0.8M393.7 66.2h0.8M392.8 64.7h0.8M394.6 62.7h0.8M394.4 75.9h0.8M393.5 63.5h0.8M394.4 68.4h0.8M395.9 59.0h0.8M392.8 57.0h0.8M395.4 68.5h0.8M393.5 60.3h0.8M395.1 56.0h0.8M393.0 66.2h0.8M392.8 64.4h0.8M393.4 64.9h0.8M395.5 63.1h0.8M395.3 69.7h0.8M393.2 61.4h0.8M395.0 72.0h0.8M395.5 60.9h0.8M392.5 69.2h0.8M394.1 66.3h0.8M392.9 75.0h0.8M392.9 62.4h0.8M392.9 68.4h0.8M393.5 57.6h0.8M392.5 56.4h0.8M393.9 56.6h0.8M395.1 59.6h0.8M394.4 65.7h0.8M393.8 61.9h0.8M394.7 67.1h0.8M396.7 53.4h0.8M393.6 66.4h0.8M394.2 62.0h0.8M395.0 60.5h0.8M393.3 59.2h0.8M393.7 56.1h0.8M394.8 67.3h0.8M393.0 57.2h0.8M394.6 60.3h0.8M393.2 57.2h0.8M392.6 52.3h0.8M395.0 65.2h0.8M394.0 57.3h0.8M393.9 67.1h0.8M393.1 60.4h0.8M393.1 64.1h0.8M394.5 67.1h0.8M393.5 62.5h0.8M392.3 56.3h0.8M394.3 68.0h0.8M395.7 68.1h0.8" stroke="#000" stroke-width="0.8" fill="none" opacity="1"/>
<path d="M363.6 54.0H387.6Q393.1 54.0 393.1 59.3V67.3Q393.1 73.9 387.6 73.9H363.6Z" fill="#000"/>
<ellipse cx="374.1" cy="63.699999999999996" rx="15.8" ry="7.9" fill="#555"/>
<ellipse cx="373.6" cy="63.699999999999996" rx="15.8" ry="7.9" fill="none" stroke="#e8e8e8" stroke-width="0.8"/>
<ellipse cx="373.90000000000003" cy="63.699999999999996" rx="13" ry="6.3" fill="none" stroke="#e8e8e8" stroke-width="0.8"/>
<ellipse cx="374.20000000000005" cy="63.699999999999996" rx="10.2" ry="4.8" fill="none" stroke="#e8e8e8" stroke-width="0.8"/>
<ellipse cx="374.5" cy="63.699999999999996" rx="7.4" ry="3.4" fill="none" stroke="#e8e8e8" stroke-width="0.8"/>
<ellipse cx="372.6" cy="63.699999999999996" rx="4.6" ry="1.7" fill="#ddd"/>
</g>
<path d="M411.4 60.9h0.9M413.3 64.6h0.9M418.3 59.3h0.9M407.5 60.3h0.9M423.4 67.4h0.9M402.3 59.7h0.9M403.9 61.8h0.9M410.8 75.6h0.9M395.5 67.9h0.9M412.5 57.5h0.9M408.1 58.8h0.9M409.6 67.8h0.9M397.8 69.7h0.9M406.4 70.8h0.9M412.4 69.2h0.9M413.5 68.3h0.9M409.7 56.8h0.9M414.3 66.1h0.9M425.1 49.7h0.9M407.8 68.2h0.9M399.9 60.4h0.9M425.2 70.3h0.9M402.7 70.4h0.9M418.2 66.5h0.9M412.2 63.2h0.9M402.8 58.7h0.9M414.8 62.7h0.9M423.2 59.8h0.9M411.4 64.1h0.9M409.8 56.9h0.9M420.6 57.8h0.9M414.7 60.1h0.9M400.3 70.3h0.9M412.6 59.7h0.9M415.0 61.2h0.9M406.0 74.8h0.9M407.7 60.9h0.9M401.2 57.4h0.9M414.3 65.2h0.9M409.4 57.7h0.9M414.5 51.6h0.9M406.8 60.4h0.9M403.1 62.8h0.9M404.4 57.1h0.9M422.9 66.3h0.9M418.4 62.2h0.9M416.7 66.6h0.9M418.5 76.1h0.9M407.8 63.5h0.9M399.0 62.1h0.9M414.2 58.5h0.9M418.0 69.7h0.9M406.4 70.5h0.9M422.6 64.8h0.9M402.2 70.8h0.9M408.3 59.7h0.9M410.4 58.8h0.9M417.6 66.7h0.9M418.7 65.5h0.9M403.6 61.0h0.9M416.1 59.6h0.9M405.2 68.9h0.9M415.2 61.8h0.9M407.8 64.6h0.9M415.8 66.6h0.9M407.3 64.6h0.9M415.9 66.6h0.9M403.7 60.6h0.9M410.9 67.5h0.9M414.2 61.2h0.9M409.7 72.6h0.9M405.0 63.8h0.9M421.3 64.1h0.9M394.2 64.2h0.9M406.6 61.3h0.9M417.4 64.8h0.9M407.6 67.4h0.9M412.8 62.6h0.9M411.8 63.5h0.9M407.0 59.2h0.9M409.7 56.3h0.9M400.1 69.8h0.9M407.8 61.9h0.9M408.5 62.1h0.9M409.7 62.4h0.9M403.5 67.6h0.9M404.4 68.2h0.9M395.2 55.6h0.9M417.0 61.1h0.9M404.5 64.3h0.9M401.7 62.5h0.9M404.7 65.2h0.9M416.1 56.9h0.9M421.6 58.4h0.9M394.1 47.7h0.9M421.1 61.5h0.9M404.7 57.5h0.9M401.4 70.1h0.9M408.9 72.7h0.9M408.1 47.9h0.9M415.9 59.8h0.9M407.8 71.4h0.9M407.6 69.0h0.9M409.5 57.5h0.9M413.4 58.4h0.9M418.8 67.8h0.9M410.0 65.7h0.9M413.8 60.3h0.9M416.3 60.6h0.9M414.2 56.3h0.9M410.3 64.5h0.9M403.6 59.5h0.9M405.6 66.4h0.9M404.2 64.7h0.9M421.0 64.2h0.9M397.5 62.8h0.9M417.4 60.3h0.9M417.9 65.7h0.9M412.8 60.5h0.9M405.8 60.5h0.9M410.1 65.2h0.9M412.8 60.3h0.9M410.1 64.4h0.9M397.4 57.5h0.9M403.6 60.8h0.9M407.6 60.5h0.9M403.1 66.1h0.9M411.7 52.2h0.9M409.8 55.3h0.9M422.4 59.4h0.9M406.7 62.6h0.9M408.2 61.7h0.9M421.3 63.5h0.9M415.9 68.9h0.9M402.4 72.2h0.9M414.8 67.8h0.9M403.2 67.0h0.9M412.8 58.9h0.9M426.8 65.5h0.9M407.9 63.3h0.9M416.5 68.9h0.9M414.1 69.4h0.9M420.7 54.7h0.9M406.1 56.5h0.9M410.4 70.8h0.9M414.6 55.8h0.9M407.5 68.3h0.9M405.7 61.5h0.9M412.0 51.2h0.9M415.5 64.2h0.9M414.0 56.2h0.9M403.9 58.5h0.9M411.6 62.5h0.9M410.7 72.9h0.9M419.5 57.8h0.9M404.8 72.4h0.9M407.3 70.4h0.9M421.7 58.9h0.9M407.7 62.6h0.9M403.2 56.3h0.9M406.7 67.2h0.9M406.3 60.9h0.9M406.2 53.9h0.9M420.8 48.1h0.9M404.8 65.5h0.9M399.2 65.7h0.9M419.1 57.0h0.9M411.3 55.5h0.9M413.5 62.6h0.9M411.3 70.3h0.9M413.2 70.2h0.9M414.5 54.9h0.9M411.7 65.1h0.9M398.9 70.1h0.9M410.2 64.3h0.9M403.0 62.6h0.9M411.9 60.2h0.9M410.3 49.4h0.9M419.9 55.4h0.9M403.4 65.4h0.9M402.8 63.8h0.9M402.5 75.4h0.9M413.8 73.8h0.9M402.1 66.1h0.9M402.5 65.6h0.9M414.8 52.5h0.9M401.2 55.1h0.9M398.4 57.7h0.9M402.5 53.4h0.9M410.4 65.4h0.9M399.8 58.7h0.9M409.7 60.7h0.9M404.4 66.9h0.9M416.0 66.2h0.9M408.1 74.0h0.9M422.7 59.7h0.9M408.7 69.2h0.9M403.6 64.5h0.9M410.0 57.8h0.9M407.9 52.6h0.9M405.6 50.1h0.9M426.7 71.1h0.9M418.8 63.9h0.9M417.1 69.7h0.9M417.2 67.6h0.9M402.8 64.6h0.9M405.6 55.0h0.9M401.0 64.6h0.9M417.5 53.8h0.9M422.7 70.8h0.9M406.7 59.2h0.9M409.0 67.9h0.9M406.7 55.4h0.9M412.1 49.6h0.9M410.6 69.0h0.9M411.9 66.7h0.9M413.3 66.4h0.9M410.6 57.0h0.9M407.9 61.6h0.9M419.0 71.8h0.9M412.7 57.5h0.9M404.1 60.9h0.9M420.0 64.0h0.9M409.1 57.4h0.9M416.2 63.7h0.9M409.2 62.6h0.9M422.2 61.0h0.9M422.2 69.5h0.9M409.9 67.3h0.9M408.6 57.0h0.9M407.5 56.6h0.9M413.4 62.1h0.9M413.8 67.0h0.9M396.0 63.0h0.9M403.0 62.6h0.9M419.8 51.8h0.9M411.0 61.5h0.9M395.4 65.9h0.9M409.8 58.9h0.9M406.6 51.2h0.9M402.6 59.8h0.9M406.7 61.5h0.9M401.7 65.2h0.9M405.9 53.8h0.9M403.4 59.7h0.9M415.9 64.9h0.9M407.0 62.1h0.9M411.2 74.2h0.9M404.9 64.8h0.9M415.0 56.3h0.9M411.0 63.0h0.9M406.0 65.4h0.9M417.3 68.8h0.9M408.1 63.1h0.9M427.2 55.4h0.9M411.2 67.3h0.9M410.7 65.9h0.9M410.8 66.5h0.9M419.2 60.7h0.9M411.0 61.7h0.9M406.5 61.9h0.9M401.1 66.5h0.9M422.3 72.2h0.9M419.1 56.2h0.9M420.9 57.7h0.9M409.2 73.1h0.9M401.5 67.0h0.9M411.7 61.1h0.9M403.0 64.5h0.9M406.1 68.3h0.9M418.7 53.7h0.9M405.8 60.1h0.9M400.7 55.3h0.9M410.2 60.8h0.9M397.2 58.8h0.9M413.4 54.8h0.9M402.6 71.5h0.9M419.4 52.3h0.9M399.4 64.3h0.9M400.6 60.5h0.9M406.2 65.4h0.9M400.4 68.1h0.9M408.4 51.8h0.9M413.2 66.2h0.9M407.7 60.0h0.9M412.8 69.3h0.9M410.7 65.2h0.9M409.2 59.7h0.9M402.7 63.5h0.9M407.3 60.5h0.9M416.5 64.9h0.9M416.1 52.5h0.9M413.7 58.5h0.9M403.5 56.9h0.9M418.6 67.0h0.9M404.2 55.2h0.9M409.7 59.2h0.9M422.0 53.2h0.9M395.8 60.5h0.9M409.6 62.8h0.9M415.2 74.4h0.9M407.0 58.7h0.9M396.4 63.5h0.9M416.0 60.4h0.9M418.4 62.2h0.9M420.9 64.0h0.9M401.6 58.2h0.9M398.0 51.6h0.9M411.6 67.2h0.9M424.2 61.7h0.9M407.8 55.3h0.9M417.0 64.3h0.9M405.1 66.1h0.9M413.8 50.8h0.9M415.1 62.8h0.9M406.6 59.5h0.9M422.7 71.2h0.9M423.2 55.1h0.9M404.6 67.4h0.9M400.5 57.7h0.9M396.0 73.1h0.9M417.5 64.8h0.9M411.2 59.5h0.9M406.6 65.7h0.9M404.2 69.4h0.9M405.9 56.8h0.9M419.3 61.1h0.9M413.7 59.5h0.9M399.4 68.5h0.9M397.9 50.8h0.9M411.9 64.6h0.9M410.4 54.7h0.9M416.2 53.2h0.9M406.1 57.3h0.9M406.7 67.1h0.9M404.8 65.4h0.9M414.8 51.7h0.9M400.8 59.7h0.9M405.1 63.8h0.9M395.1 66.3h0.9M415.1 61.0h0.9M399.2 62.0h0.9M405.5 65.4h0.9M408.9 66.4h0.9M406.3 70.7h0.9M413.2 52.9h0.9M415.1 54.7h0.9M410.2 56.5h0.9M406.2 63.0h0.9M408.8 59.7h0.9M425.7 62.1h0.9M402.3 67.6h0.9M415.7 69.3h0.9M423.0 56.4h0.9M417.5 68.8h0.9M409.6 63.5h0.9M423.0 51.3h0.9M405.5 63.7h0.9M413.9 71.8h0.9M396.3 62.3h0.9M416.0 54.1h0.9M409.3 73.3h0.9M419.4 65.2h0.9M412.4 60.1h0.9M407.9 56.2h0.9M411.4 60.1h0.9M407.2 61.5h0.9M415.4 63.4h0.9M400.5 61.2h0.9M413.1 59.2h0.9M418.2 66.7h0.9M402.1 63.9h0.9M424.4 71.4h0.9M409.1 67.4h0.9M404.5 53.3h0.9M413.7 63.5h0.9M413.4 61.9h0.9M412.0 58.9h0.9M413.1 67.0h0.9M409.1 66.9h0.9M396.3 57.3h0.9M420.4 72.6h0.9M411.4 61.4h0.9M400.0 64.2h0.9M415.4 53.1h0.9M413.7 64.9h0.9M412.9 55.2h0.9M413.6 53.0h0.9M420.7 62.8h0.9M400.8 70.1h0.9M418.2 58.1h0.9M426.1 56.0h0.9M411.9 69.1h0.9M409.1 61.9h0.9M401.5 64.0h0.9M401.2 56.2h0.9M406.2 54.6h0.9M421.3 54.0h0.9M403.9 60.1h0.9M409.6 66.8h0.9M415.7 60.2h0.9M406.7 62.2h0.9M415.7 66.2h0.9M405.7 49.6h0.9M425.6 67.7h0.9M411.5 64.0h0.9M405.6 56.0h0.9M407.1 60.7h0.9M404.9 53.3h0.9M407.2 65.5h0.9M405.8 62.1h0.9M394.0 60.8h0.9M408.6 54.6h0.9M396.6 64.5h0.9M403.5 64.9h0.9M406.4 65.7h0.9M407.0 53.0h0.9M408.9 60.0h0.9M414.5 59.3h0.9M406.6 67.2h0.9M418.3 66.6h0.9M417.3 64.7h0.9M415.3 67.3h0.9M412.6 62.4h0.9M410.6 76.4h0.9M409.7 60.6h0.9M406.8 61.8h0.9M411.4 55.2h0.9M394.7 63.8h0.9M397.5 63.6h0.9M410.6 68.9h0.9M422.1 64.2h0.9M405.4 55.0h0.9M403.6 62.2h0.9M394.0 62.5h0.9M409.5 65.9h0.9M407.0 62.6h0.9M404.0 59.2h0.9M396.3 62.7h0.9M421.2 63.0h0.9M412.3 56.1h0.9M420.3 57.4h0.9M415.6 62.6h0.9M402.4 68.2h0.9M409.7 63.1h0.9M412.9 61.9h0.9M406.7 64.8h0.9M406.5 62.4h0.9M404.5 53.1h0.9M404.5 59.0h0.9M409.7 69.1h0.9M396.9 62.8h0.9M405.7 48.5h0.9M395.6 62.9h0.9M410.1 61.3h0.9M403.5 74.9h0.9M408.3 56.8h0.9M422.1 65.7h0.9M406.8 69.2h0.9M410.7 65.9h0.9M411.3 55.8h0.9M416.8 63.0h0.9M402.0 57.4h0.9M416.7 59.8h0.9M409.9 65.9h0.9M410.5 52.8h0.9M414.3 67.6h0.9M416.0 71.7h0.9M412.3 66.7h0.9M421.5 60.3h0.9M422.6 72.4h0.9M415.4 73.0h0.9M415.9 56.7h0.9M418.1 64.0h0.9M412.7 62.9h0.9M419.7 65.3h0.9M404.3 64.9h0.9M415.0 57.6h0.9M406.3 59.7h0.9M405.0 64.1h0.9M417.2 73.4h0.9M418.5 68.1h0.9M418.1 70.0h0.9M406.7 66.2h0.9M412.0 61.2h0.9M406.1 59.0h0.9M407.5 54.6h0.9M413.5 61.9h0.9M410.3 64.0h0.9M415.0 58.4h0.9M408.8 52.3h0.9M421.1 51.0h0.9M413.1 70.9h0.9M406.1 71.8h0.9M423.4 67.7h0.9M427.3 65.7h0.9M404.1 65.1h0.9M406.2 54.2h0.9M400.0 75.9h0.9M405.5 61.9h0.9M404.6 62.9h0.9M407.8 59.6h0.9M400.5 53.6h0.9M404.1 63.8h0.9M425.2 68.4h0.9M423.3 65.0h0.9M409.0 54.1h0.9M409.7 49.2h0.9M407.4 71.9h0.9M412.2 68.9h0.9M406.8 53.9h0.9M406.1 59.7h0.9M418.7 74.0h0.9M404.2 60.0h0.9M408.6 60.0h0.9M400.4 62.7h0.9M412.4 64.5h0.9M400.7 61.5h0.9M396.7 67.6h0.9M402.1 60.5h0.9M406.4 58.7h0.9M401.8 51.6h0.9M422.8 63.7h0.9M411.8 74.8h0.9M409.0 65.5h0.9M409.9 69.3h0.9M413.5 64.1h0.9M407.9 63.9h0.9M418.5 49.7h0.9M408.8 59.7h0.9M407.5 50.3h0.9M415.3 57.1h0.9M408.1 59.2h0.9M397.3 59.5h0.9M396.0 56.5h0.9M407.4 62.2h0.9M410.2 61.4h0.9M425.8 64.8h0.9M400.6 58.5h0.9M404.9 61.1h0.9M405.3 57.1h0.9M422.2 62.5h0.9M407.3 60.7h0.9M408.2 70.6h0.9M413.4 68.9h0.9M417.8 74.0h0.9M410.0 51.9h0.9M414.2 58.6h0.9M396.4 58.5h0.9M417.7 69.4h0.9M415.2 55.9h0.9M409.2 53.5h0.9M419.7 64.9h0.9M416.5 62.8h0.9M409.3 63.3h0.9M395.7 68.2h0.9M416.7 59.9h0.9M409.8 64.0h0.9M421.6 64.8h0.9M410.2 59.2h0.9M398.6 58.7h0.9M410.4 60.7h0.9M410.4 66.7h0.9M413.1 63.9h0.9M414.8 63.4h0.9M409.7 65.1h0.9M396.9 69.8h0.9M400.2 67.3h0.9M410.0 68.9h0.9M410.2 56.6h0.9M418.0 63.4h0.9M410.8 62.8h0.9M417.4 67.2h0.9M411.7 53.0h0.9M406.9 62.9h0.9M423.4 64.6h0.9M409.3 69.5h0.9M409.1 62.2h0.9M411.1 53.3h0.9M417.1 64.9h0.9M407.8 55.5h0.9M411.6 70.7h0.9M405.2 56.0h0.9M413.1 52.8h0.9M404.8 60.7h0.9M405.8 64.3h0.9M408.3 58.7h0.9M406.5 66.1h0.9M417.2 67.8h0.9M415.2 42.6h0.9M402.5 60.5h0.9M411.5 52.6h0.9M420.7 64.2h0.9M405.3 63.3h0.9M407.4 57.8h0.9M413.8 59.6h0.9M399.4 58.6h0.9M409.1 55.9h0.9M419.5 55.8h0.9M423.2 67.7h0.9M403.0 63.2h0.9M418.9 61.2h0.9M401.1 63.1h0.9M425.0 53.4h0.9M414.2 62.4h0.9M409.2 60.1h0.9M407.6 68.6h0.9M414.5 56.4h0.9M421.7 54.6h0.9M415.0 63.5h0.9M419.1 64.6h0.9M418.0 62.3h0.9M417.4 64.5h0.9M426.2 58.3h0.9M419.0 65.2h0.9M411.4 59.0h0.9M413.4 53.6h0.9M399.8 66.7h0.9M398.4 71.1h0.9M408.0 63.9h0.9M410.7 65.0h0.9M408.0 60.2h0.9M409.2 68.7h0.9M418.6 70.1h0.9M412.9 61.2h0.9M397.5 66.3h0.9M416.4 60.0h0.9M416.2 70.2h0.9M410.8 68.8h0.9M412.4 52.0h0.9M406.6 60.0h0.9M414.1 57.3h0.9M406.8 56.7h0.9M409.8 62.9h0.9M417.4 67.2h0.9M411.4 63.9h0.9M410.9 63.1h0.9M421.7 47.5h0.9M408.8 64.3h0.9M418.6 55.9h0.9M412.7 67.6h0.9M406.8 51.0h0.9M407.4 55.3h0.9M415.0 57.4h0.9M423.5 63.3h0.9M404.1 59.4h0.9M401.9 64.8h0.9M421.3 61.2h0.9M417.1 56.8h0.9M412.4 76.3h0.9M399.6 69.9h0.9M418.9 51.2h0.9M399.4 56.6h0.9M417.4 59.9h0.9M408.9 66.7h0.9M411.0 63.8h0.9M407.7 69.2h0.9M404.3 72.5h0.9M407.6 57.7h0.9M415.0 65.2h0.9M395.3 63.8h0.9M400.0 57.5h0.9M416.0 57.3h0.9M412.8 60.2h0.9M424.6 61.9h0.9M401.3 55.8h0.9M403.3 63.2h0.9M410.1 68.2h0.9M411.3 63.2h0.9M412.5 61.6h0.9M412.2 67.1h0.9M415.9 59.1h0.9M396.8 57.5h0.9M412.2 47.5h0.9M406.5 65.1h0.9M405.8 55.7h0.9M423.2 70.7h0.9M408.1 70.3h0.9M419.7 55.6h0.9M408.0 55.8h0.9M410.6 54.5h0.9M409.9 68.8h0.9M411.6 60.7h0.9M421.6 57.0h0.9M417.2 60.5h0.9M411.6 62.5h0.9M410.9 62.0h0.9M404.1 58.9h0.9M413.2 61.6h0.9M401.2 58.1h0.9M404.7 61.9h0.9M411.2 62.8h0.9M405.0 62.4h0.9M399.6 45.0h0.9M409.4 52.3h0.9M402.7 55.0h0.9M414.5 55.0h0.9M411.9 59.3h0.9M400.5 52.7h0.9M413.2 64.5h0.9M415.6 73.1h0.9M411.8 63.8h0.9M408.8 62.8h0.9M407.1 56.8h0.9M424.7 50.9h0.9M411.6 64.8h0.9M410.8 56.3h0.9M408.2 59.3h0.9M401.6 61.8h0.9M406.6 58.7h0.9M414.7 55.7h0.9M412.9 58.4h0.9M412.8 62.4h0.9M411.4 56.1h0.9M403.7 56.9h0.9M410.8 66.5h0.9M417.6 59.0h0.9M410.2 52.3h0.9M404.5 52.7h0.9M396.2 65.1h0.9M403.5 51.9h0.9M426.8 63.0h0.9M407.1 66.0h0.9M403.7 71.4h0.9M397.9 54.1h0.9M408.4 57.3h0.9M419.9 52.3h0.9M403.9 63.3h0.9M413.6 67.8h0.9M411.9 75.0h0.9M405.8 62.9h0.9M415.7 59.9h0.9M407.1 59.0h0.9M404.5 55.0h0.9M405.1 52.5h0.9M412.1 52.3h0.9M424.7 71.9h0.9M417.5 60.5h0.9M404.9 69.1h0.9M410.6 65.1h0.9M403.8 68.1h0.9M403.2 62.4h0.9M396.3 57.8h0.9M412.9 59.0h0.9M405.9 66.4h0.9M408.6 69.1h0.9M413.0 52.5h0.9M399.5 66.9h0.9M401.2 57.9h0.9M413.6 59.7h0.9M412.7 56.5h0.9M411.4 68.2h0.9M411.6 48.6h0.9M414.0 62.0h0.9M402.4 70.0h0.9M396.1 72.9h0.9M404.4 71.1h0.9M408.8 53.7h0.9M409.9 63.7h0.9M413.2 68.0h0.9M402.4 64.6h0.9M414.6 60.1h0.9M402.2 56.0h0.9M414.7 66.4h0.9M402.9 53.7h0.9M418.4 52.4h0.9M410.3 56.9h0.9M396.0 62.4h0.9M407.7 70.3h0.9M426.1 60.5h0.9M416.8 67.9h0.9M405.2 56.5h0.9M421.2 59.5h0.9M408.9 59.9h0.9M408.1 58.1h0.9M414.7 69.2h0.9M406.3 53.4h0.9M409.5 52.8h0.9M404.4 69.0h0.9M426.5 63.9h0.9M401.2 66.3h0.9M420.5 66.1h0.9M398.8 51.7h0.9M415.5 61.4h0.9M404.7 64.1h0.9M404.8 50.2h0.9M415.2 57.8h0.9M401.6 53.7h0.9M411.0 56.9h0.9M413.8 60.1h0.9M417.2 59.4h0.9M404.3 49.9h0.9M400.9 66.0h0.9M401.4 63.7h0.9M412.7 57.6h0.9M409.7 52.1h0.9M406.9 67.0h0.9M421.3 60.7h0.9M407.2 64.4h0.9M417.4 64.6h0.9M403.5 63.8h0.9M416.4 57.4h0.9M399.2 64.7h0.9M411.9 67.4h0.9M409.8 57.8h0.9M405.9 55.5h0.9M402.1 58.3h0.9M405.5 68.3h0.9M400.0 61.4h0.9M404.8 70.6h0.9M411.1 59.5h0.9M415.2 62.1h0.9M405.6 70.9h0.9M414.5 72.0h0.9M417.8 66.3h0.9M410.2 55.2h0.9M414.5 62.2h0.9M414.2 61.7h0.9M404.1 55.7h0.9M414.4 69.4h0.9M407.1 64.4h0.9M419.5 56.8h0.9M406.7 55.1h0.9M418.0 63.3h0.9M405.8 51.9h0.9M407.9 67.7h0.9M407.0 59.2h0.9M414.0 54.4h0.9M409.6 65.3h0.9M403.4 56.8h0.9M411.1 61.2h0.9M407.5 63.0h0.9M410.9 56.3h0.9M404.3 64.4h0.9M417.6 69.8h0.9M403.0 68.3h0.9M414.9 61.6h0.9M412.9 66.7h0.9M422.6 55.5h0.9M413.8 61.0h0.9M407.8 68.6h0.9M415.4 55.8h0.9M407.2 63.2h0.9M398.8 66.9h0.9M408.7 62.8h0.9M411.8 72.6h0.9M409.6 59.7h0.9M422.2 58.8h0.9M405.4 53.6h0.9M417.3 63.4h0.9M412.8 62.8h0.9M408.3 57.2h0.9M403.5 64.4h0.9M410.2 71.5h0.9M403.7 58.9h0.9M401.8 70.0h0.9M400.2 66.4h0.9M420.0 61.0h0.9M414.7 49.2h0.9M406.5 52.0h0.9M410.6 61.9h0.9M403.6 67.4h0.9M412.0 58.7h0.9M405.5 53.1h0.9M408.0 74.4h0.9M404.1 64.3h0.9M405.3 66.6h0.9M412.6 60.5h0.9M396.1 58.8h0.9M418.3 60.4h0.9M414.0 59.0h0.9M395.5 64.4h0.9M411.7 58.4h0.9M406.6 63.6h0.9M405.0 63.9h0.9M407.9 47.9h0.9M408.3 58.3h0.9M403.2 64.2h0.9M405.8 65.1h0.9M417.5 62.7h0.9M397.9 57.5h0.9M416.1 60.3h0.9M403.4 61.3h0.9M413.1 63.4h0.9M414.2 57.0h0.9M407.4 60.4h0.9M409.2 49.4h0.9M407.6 53.9h0.9M419.7 71.1h0.9M421.9 66.7h0.9M405.8 67.6h0.9M407.9 65.5h0.9M402.7 58.4h0.9M412.9 72.4h0.9M409.2 75.3h0.9M409.2 56.2h0.9M408.4 58.7h0.9M408.9 67.6h0.9M416.4 63.4h0.9M409.4 62.6h0.9M410.4 65.3h0.9M409.5 64.9h0.9M399.7 66.6h0.9M422.4 63.0h0.9M399.0 69.9h0.9M407.0 44.2h0.9M407.8 65.5h0.9M412.3 69.3h0.9M414.1 62.7h0.9M394.8 55.3h0.9M410.8 65.9h0.9M401.8 58.3h0.9M412.9 50.6h0.9M395.0 60.6h0.9M411.3 59.1h0.9M399.6 65.8h0.9M408.7 63.5h0.9M414.2 58.8h0.9M415.6 69.3h0.9M412.4 69.8h0.9M404.8 67.4h0.9M411.5 56.1h0.9M408.9 58.8h0.9M405.4 62.4h0.9M417.3 60.0h0.9M410.4 53.2h0.9M410.3 68.8h0.9M415.5 64.8h0.9M405.6 56.1h0.9M408.8 54.0h0.9M400.3 67.5h0.9M402.7 72.6h0.9M398.9 64.5h0.9M400.8 63.0h0.9M401.7 62.2h0.9M408.3 59.2h0.9M413.3 70.9h0.9M405.1 67.2h0.9M410.1 61.8h0.9M425.8 49.0h0.9M404.4 51.2h0.9M407.1 60.6h0.9M422.8 69.6h0.9M406.2 64.8h0.9M421.9 63.0h0.9M411.0 64.9h0.9M398.3 57.1h0.9M412.0 65.2h0.9M402.6 60.0h0.9M408.5 61.0h0.9M414.6 62.6h0.9M410.7 53.5h0.9M401.6 63.8h0.9M397.6 63.5h0.9M404.5 57.1h0.9M414.3 57.9h0.9M403.1 57.9h0.9M407.6 67.6h0.9M406.7 47.2h0.9M419.3 55.4h0.9M409.0 53.7h0.9M401.2 58.9h0.9M415.8 66.9h0.9M404.9 64.9h0.9M406.6 62.5h0.9M410.5 65.6h0.9M404.8 61.1h0.9M411.0 62.4h0.9M403.4 72.1h0.9M405.9 66.4h0.9M410.9 69.1h0.9M407.8 54.5h0.9M410.3 75.3h0.9M413.1 54.5h0.9M405.9 69.8h0.9M398.9 60.7h0.9M407.1 74.7h0.9M407.2 69.7h0.9M404.3 57.0h0.9M416.8 65.5h0.9M396.4 65.6h0.9M414.1 58.2h0.9M411.0 63.4h0.9M405.7 58.3h0.9M404.3 60.2h0.9M399.4 61.6h0.9M398.2 62.3h0.9M408.7 55.6h0.9M415.7 73.3h0.9M419.2 53.7h0.9M418.8 63.1h0.9M408.9 58.3h0.9M409.2 70.1h0.9M413.4 59.3h0.9M404.3 59.3h0.9M413.7 72.9h0.9M401.4 61.8h0.9M406.4 57.3h0.9M412.3 65.1h0.9M398.7 55.6h0.9M418.2 63.7h0.9M413.2 58.8h0.9M406.5 64.5h0.9M405.6 55.2h0.9M409.3 67.2h0.9M401.6 68.1h0.9M414.5 56.7h0.9M409.3 61.5h0.9M414.0 65.8h0.9M399.6 53.8h0.9M416.9 62.5h0.9M412.4 63.8h0.9M420.7 54.6h0.9M417.4 56.9h0.9M414.7 69.8h0.9M399.0 64.2h0.9M407.2 60.1h0.9M409.6 55.6h0.9M402.1 65.7h0.9M415.6 58.4h0.9M398.5 75.5h0.9M417.4 63.9h0.9M401.7 58.3h0.9M411.1 56.1h0.9M421.2 62.6h0.9M412.2 55.7h0.9M402.6 57.1h0.9M411.3 60.2h0.9M407.2 63.7h0.9M411.0 70.6h0.9M407.8 55.8h0.9M409.2 70.5h0.9M405.2 62.1h0.9M406.7 64.2h0.9M411.2 57.0h0.9M407.6 67.4h0.9M417.4 67.2h0.9M415.7 59.8h0.9M406.6 67.3h0.9M400.7 61.5h0.9M395.6 59.6h0.9M404.1 54.7h0.9M413.6 57.5h0.9M406.6 60.3h0.9M403.9 70.2h0.9M405.7 63.0h0.9M399.7 59.0h0.9M406.9 60.0h0.9M405.0 62.6h0.9M420.8 61.0h0.9M408.3 59.5h0.9M413.4 66.0h0.9M404.1 60.9h0.9M410.9 62.5h0.9M403.0 57.2h0.9M413.1 63.7h0.9M418.7 58.0h0.9M411.1 53.3h0.9M415.4 55.3h0.9M400.1 59.9h0.9M426.8 58.2h0.9M400.0 64.5h0.9M411.0 71.6h0.9M400.0 52.4h0.9M407.0 64.0h0.9M411.9 68.2h0.9M398.3 57.0h0.9M408.4 66.8h0.9M412.8 59.3h0.9M401.8 67.0h0.9M408.0 71.4h0.9M400.4 58.6h0.9M404.3 59.1h0.9M402.9 58.6h0.9M408.9 59.2h0.9M414.2 61.3h0.9M409.3 70.5h0.9M411.6 62.7h0.9M409.2 62.2h0.9M413.5 57.1h0.9M417.7 71.1h0.9M417.8 58.9h0.9M397.6 59.3h0.9M410.5 66.7h0.9M408.0 60.0h0.9M420.5 57.9h0.9M417.2 67.1h0.9M399.6 63.5h0.9M405.2 56.3h0.9M395.7 52.6h0.9M412.4 59.5h0.9M411.3 55.6h0.9M407.0 60.2h0.9M398.0 52.1h0.9M412.6 62.7h0.9M402.5 61.2h0.9M414.2 72.6h0.9M402.8 65.5h0.9M424.9 62.2h0.9M420.1 46.6h0.9M420.0 61.8h0.9M395.5 66.4h0.9M417.0 68.9h0.9M418.1 61.6h0.9M403.8 59.1h0.9M409.1 64.2h0.9M405.8 62.1h0.9M415.8 63.7h0.9M426.2 74.5h0.9M400.9 58.5h0.9M399.7 55.0h0.9M413.3 56.0h0.9M401.6 60.2h0.9M415.2 59.7h0.9M406.7 67.2h0.9M412.8 64.5h0.9M416.3 55.9h0.9M410.9 58.1h0.9M416.9 66.6h0.9M401.6 69.7h0.9M400.7 68.7h0.9M410.8 56.7h0.9M401.1 60.0h0.9M409.2 57.6h0.9M413.5 53.6h0.9M409.3 61.8h0.9M395.5 63.6h0.9M400.0 47.1h0.9M404.8 60.5h0.9M416.0 59.0h0.9M420.2 70.3h0.9M417.4 69.6h0.9M411.9 58.5h0.9M414.1 67.5h0.9M411.1 60.4h0.9M397.7 65.8h0.9M411.9 54.1h0.9M410.1 66.1h0.9M408.5 66.5h0.9M414.9 53.1h0.9M407.1 64.7h0.9M416.1 70.2h0.9M395.1 61.4h0.9M414.6 69.1h0.9M421.8 56.3h0.9M406.6 55.6h0.9M415.4 54.0h0.9M418.1 67.4h0.9M412.9 49.0h0.9M404.3 66.3h0.9M398.8 60.4h0.9M408.5 67.1h0.9M411.4 63.4h0.9M406.1 61.8h0.9M408.3 66.1h0.9M408.0 67.9h0.9M396.7 68.9h0.9M408.1 68.5h0.9M409.9 66.9h0.9M420.4 58.5h0.9M409.9 60.8h0.9M410.9 52.2h0.9M408.0 60.3h0.9M403.5 60.7h0.9M397.9 70.1h0.9M412.6 73.0h0.9M402.8 54.9h0.9M411.4 51.9h0.9M411.0 57.6h0.9M406.8 63.3h0.9M409.6 72.8h0.9M414.0 54.1h0.9M416.6 53.9h0.9M409.9 54.4h0.9M403.2 69.6h0.9M405.2 58.0h0.9M405.1 59.9h0.9M420.0 54.8h0.9M400.1 65.2h0.9M397.5 59.6h0.9M417.7 61.8h0.9M405.7 57.6h0.9M402.5 58.3h0.9M410.3 69.1h0.9M416.4 58.4h0.9M403.8 65.9h0.9M395.8 59.1h0.9M406.8 55.1h0.9M401.8 63.8h0.9M396.9 56.3h0.9M404.4 62.2h0.9M399.0 68.1h0.9M406.9 60.1h0.9M406.5 57.7h0.9M401.9 68.5h0.9M410.6 61.0h0.9M416.5 57.4h0.9M413.7 61.8h0.9M402.5 66.1h0.9M398.0 65.5h0.9M402.5 64.0h0.9M419.3 64.9h0.9M404.6 61.4h0.9M406.3 54.6h0.9M400.8 61.8h0.9M413.0 51.1h0.9M408.4 64.5h0.9M409.8 55.6h0.9M416.6 54.3h0.9M413.7 71.0h0.9M411.2 62.8h0.9M403.2 59.6h0.9M398.6 62.3h0.9M412.9 57.5h0.9M402.1 58.7h0.9M408.8 61.8h0.9M408.1 61.9h0.9M399.2 45.4h0.9M413.4 69.8h0.9M398.4 57.5h0.9M411.1 67.0h0.9M413.6 69.0h0.9M408.4 63.9h0.9M411.9 58.9h0.9M417.7 65.1h0.9M416.0 59.1h0.9M416.4 55.2h0.9M411.7 46.0h0.9M401.4 65.7h0.9M405.5 62.4h0.9M396.9 70.5h0.9M413.2 61.3h0.9M411.9 63.3h0.9M419.2 62.7h0.9M398.0 59.9h0.9M418.2 64.7h0.9M405.7 65.0h0.9M409.7 65.0h0.9M397.2 56.1h0.9M413.7 60.1h0.9M411.4 72.9h0.9M406.5 62.8h0.9M404.7 57.7h0.9M408.3 52.9h0.9M408.0 68.0h0.9M409.7 62.3h0.9M413.7 65.6h0.9M400.0 68.5h0.9M401.7 62.6h0.9M421.0 59.4h0.9M413.3 61.7h0.9M411.9 56.4h0.9M402.1 63.4h0.9M397.4 56.5h0.9M413.5 57.8h0.9M402.3 54.9h0.9M409.9 59.3h0.9M409.9 60.3h0.9M422.4 58.9h0.9M394.5 62.1h0.9M408.8 62.3h0.9M397.1 68.0h0.9M408.6 61.2h0.9M397.2 64.2h0.9M408.3 69.3h0.9M405.8 54.2h0.9M409.8 56.1h0.9M411.9 55.1h0.9M407.9 60.1h0.9M408.6 58.4h0.9M402.9 61.1h0.9M404.6 62.3h0.9M406.8 48.3h0.9M408.4 69.5h0.9M411.0 64.9h0.9M412.1 58.7h0.9M399.1 66.1h0.9M416.5 64.7h0.9M411.9 63.7h0.9M408.6 63.0h0.9M408.9 63.3h0.9M402.0 57.8h0.9M412.9 59.4h0.9M414.0 65.3h0.9M404.0 54.9h0.9M407.3 61.5h0.9M403.3 62.3h0.9M413.8 64.9h0.9M401.3 48.9h0.9M408.9 57.6h0.9M412.1 70.9h0.9M420.7 63.1h0.9M416.9 70.9h0.9M409.2 63.0h0.9M415.0 61.3h0.9M405.3 57.2h0.9M408.9 57.9h0.9M414.6 59.6h0.9M419.4 68.4h0.9M400.0 67.7h0.9M406.0 69.4h0.9M412.6 61.3h0.9M413.8 58.3h0.9M411.3 63.7h0.9M407.9 63.8h0.9M401.8 64.7h0.9M400.3 65.1h0.9M412.4 65.6h0.9M407.4 62.5h0.9M403.7 69.8h0.9M405.7 67.3h0.9M402.3 63.4h0.9M406.4 66.9h0.9M407.0 56.7h0.9M412.3 54.9h0.9M402.3 66.0h0.9M395.8 66.0h0.9M406.3 56.5h0.9M410.9 65.3h0.9M405.0 60.7h0.9M414.9 66.0h0.9M408.8 57.3h0.9M402.5 58.3h0.9M414.0 65.0h0.9M411.4 69.7h0.9M407.1 59.6h0.9M406.5 72.6h0.9M394.7 63.4h0.9M412.4 62.1h0.9M425.8 68.4h0.9M414.8 56.7h0.9M412.8 59.7h0.9M409.6 63.0h0.9M405.9 65.4h0.9M420.9 67.7h0.9M410.9 50.9h0.9M417.1 68.0h0.9M408.0 59.2h0.9M414.1 57.3h0.9M415.0 55.8h0.9M402.9 62.0h0.9M399.2 61.9h0.9M413.2 54.5h0.9M416.0 58.8h0.9M413.3 63.1h0.9M406.2 59.0h0.9M397.4 58.0h0.9M404.0 71.2h0.9M416.7 54.2h0.9M415.1 63.2h0.9M406.8 64.6h0.9M415.1 58.8h0.9M407.6 62.9h0.9M402.6 63.0h0.9M408.9 58.1h0.9M403.6 63.7h0.9M415.7 63.8h0.9M403.5 66.2h0.9M410.7 65.3h0.9M417.7 56.9h0.9M408.5 58.6h0.9M403.4 73.2h0.9M416.1 52.1h0.9M412.5 58.9h0.9M417.6 62.5h0.9M408.3 62.8h0.9M412.2 62.2h0.9M408.0 61.2h0.9M413.1 55.7h0.9M409.5 61.3h0.9M406.1 66.1h0.9M400.5 59.9h0.9M403.6 65.0h0.9M406.3 62.3h0.9M412.2 53.0h0.9M412.7 57.8h0.9M407.8 61.4h0.9M415.2 66.1h0.9M421.9 63.0h0.9M406.2 59.2h0.9M414.1 71.0h0.9M411.9 58.8h0.9M411.5 63.4h0.9M409.8 57.8h0.9M416.9 63.2h0.9M394.1 62.0h0.9M396.6 73.1h0.9M410.9 55.3h0.9M415.1 57.6h0.9M413.5 62.1h0.9M401.3 65.7h0.9M400.2 69.5h0.9M410.0 56.2h0.9M396.9 71.1h0.9M419.7 55.0h0.9M421.1 62.9h0.9M408.0 61.5h0.9M407.7 70.0h0.9M410.6 51.7h0.9M424.2 66.9h0.9M401.9 60.0h0.9M403.2 62.3h0.9M412.3 63.3h0.9M405.4 57.5h0.9M415.5 61.4h0.9M425.3 57.5h0.9M415.1 62.3h0.9M404.2 69.6h0.9M410.4 57.0h0.9M407.3 67.7h0.9M401.0 69.7h0.9M414.3 60.4h0.9M419.1 71.8h0.9M413.7 63.0h0.9M422.5 70.4h0.9M403.0 60.8h0.9M408.0 59.7h0.9M399.0 67.1h0.9M410.1 62.6h0.9M419.4 58.8h0.9M409.1 63.5h0.9M406.5 61.4h0.9M414.9 62.0h0.9M418.9 57.8h0.9M411.0 54.0h0.9M408.7 58.0h0.9M419.1 66.2h0.9M413.1 72.4h0.9M419.7 66.1h0.9M404.7 53.8h0.9M409.3 60.0h0.9M405.0 60.4h0.9M397.9 70.4h0.9M401.5 58.2h0.9M413.6 52.8h0.9M416.1 67.3h0.9M407.3 55.9h0.9M406.2 51.5h0.9M419.4 62.3h0.9M404.3 56.9h0.9M413.6 70.5h0.9M400.5 58.7h0.9M397.1 65.8h0.9M410.7 74.8h0.9M408.7 59.5h0.9M404.5 66.8h0.9M398.0 66.3h0.9M411.3 59.1h0.9M403.1 68.0h0.9M422.8 59.5h0.9M413.3 71.9h0.9M405.1 60.6h0.9M400.9 61.2h0.9M409.0 59.6h0.9M404.3 53.0h0.9M400.0 56.4h0.9M414.1 59.1h0.9M403.5 65.7h0.9M413.6 57.7h0.9M405.1 65.8h0.9M412.2 57.2h0.9M411.3 61.8h0.9M417.5 57.0h0.9M415.9 64.5h0.9M402.3 68.0h0.9M416.0 54.5h0.9M423.7 55.4h0.9M403.0 60.2h0.9M415.1 65.3h0.9M408.9 69.8h0.9M412.4 70.0h0.9M401.8 62.5h0.9M410.3 54.9h0.9M401.3 60.5h0.9M408.1 47.0h0.9M416.6 62.2h0.9M409.5 63.7h0.9M402.2 61.7h0.9M417.1 68.2h0.9M412.9 60.4h0.9M403.6 69.7h0.9M413.4 59.5h0.9M395.5 69.3h0.9M410.9 57.7h0.9M407.5 77.2h0.9M418.4 54.1h0.9M408.6 54.8h0.9M396.9 63.0h0.9M427.2 71.2h0.9M409.9 59.8h0.9M411.0 68.1h0.9M398.8 51.0h0.9M423.4 63.6h0.9M421.4 63.4h0.9M420.4 58.4h0.9M413.2 71.2h0.9M417.1 59.3h0.9M416.2 58.1h0.9M399.0 65.1h0.9M419.9 67.0h0.9M400.2 67.2h0.9M414.6 59.3h0.9M416.1 65.0h0.9M396.7 53.1h0.9M417.1 66.8h0.9M413.2 60.5h0.9M412.5 58.8h0.9M407.2 56.8h0.9M411.5 59.5h0.9M416.6 66.3h0.9M403.5 73.0h0.9M401.2 64.7h0.9M417.6 69.7h0.9M418.7 70.6h0.9M408.8 59.3h0.9M419.6 57.9h0.9M418.7 65.4h0.9M398.7 56.1h0.9M406.0 62.6h0.9M417.0 60.9h0.9M416.4 52.6h0.9M413.0 59.8h0.9M402.0 64.5h0.9M424.0 61.4h0.9M404.1 56.9h0.9M424.3 61.8h0.9M414.1 69.3h0.9M417.6 56.5h0.9M416.7 67.1h0.9M413.2 68.1h0.9M405.3 61.6h0.9M405.6 66.5h0.9M404.7 64.4h0.9M401.3 61.3h0.9M406.8 61.3h0.9M410.5 60.9h0.9M407.9 49.6h0.9M417.8 58.3h0.9M407.7 57.0h0.9M417.0 56.6h0.9M413.3 69.1h0.9M421.9 69.1h0.9M414.2 54.8h0.9M419.2 69.1h0.9M415.8 66.8h0.9M410.1 58.9h0.9M417.7 69.7h0.9M401.8 67.5h0.9M411.4 67.4h0.9M411.7 68.7h0.9M417.3 67.4h0.9M399.3 67.0h0.9M410.0 55.3h0.9M414.9 53.9h0.9M416.3 72.2h0.9M405.9 67.6h0.9M413.0 66.0h0.9M399.6 65.7h0.9M410.7 66.5h0.9M409.8 68.7h0.9M411.8 66.2h0.9M419.9 63.2h0.9M417.1 63.5h0.9M413.6 59.0h0.9M415.5 69.4h0.9M409.2 66.9h0.9M412.9 55.6h0.9M412.4 70.0h0.9M406.2 51.6h0.9M411.3 58.4h0.9M423.8 62.0h0.9M409.8 58.5h0.9M411.6 58.9h0.9M403.1 61.8h0.9M403.8 70.0h0.9M401.2 61.8h0.9M404.7 54.1h0.9M422.1 49.8h0.9M420.5 53.9h0.9M410.5 75.5h0.9M394.1 54.1h0.9M419.5 63.2h0.9M405.8 62.0h0.9M402.7 62.9h0.9M420.8 60.0h0.9M410.8 69.3h0.9M424.4 58.8h0.9M412.0 58.9h0.9M405.1 59.9h0.9M405.2 52.0h0.9M395.2 57.9h0.9M410.8 69.4h0.9M405.9 61.2h0.9M414.7 66.6h0.9M409.0 61.9h0.9M423.6 60.2h0.9M406.2 52.7h0.9M413.0 60.7h0.9M423.8 60.2h0.9M415.8 67.7h0.9M421.9 54.5h0.9M421.3 62.3h0.9M409.0 60.4h0.9M406.9 60.2h0.9M410.3 56.6h0.9M409.3 75.7h0.9M412.6 59.9h0.9M422.4 57.5h0.9M408.7 59.0h0.9M408.1 66.5h0.9M414.1 57.9h0.9M408.9 62.7h0.9M406.8 62.0h0.9M404.5 57.9h0.9M410.1 56.2h0.9M412.9 61.1h0.9M403.1 58.6h0.9M406.3 61.3h0.9M410.6 61.0h0.9M403.4 70.6h0.9M416.4 62.8h0.9M416.7 64.1h0.9M407.9 62.7h0.9M417.4 59.9h0.9M414.2 75.3h0.9M412.9 68.4h0.9M418.9 65.9h0.9M421.2 63.5h0.9M413.4 58.5h0.9M410.6 70.3h0.9M406.2 62.1h0.9M404.1 62.3h0.9M406.9 65.3h0.9M408.8 58.7h0.9M407.6 61.5h0.9M406.0 67.6h0.9M414.6 63.0h0.9M401.1 65.2h0.9M400.5 63.2h0.9M410.1 58.7h0.9M403.7 58.1h0.9M424.6 60.6h0.9M408.3 67.7h0.9M412.8 68.3h0.9M400.9 55.9h0.9M407.7 63.1h0.9M416.9 55.3h0.9M411.8 62.0h0.9M414.6 63.2h0.9M405.9 57.1h0.9M399.1 59.8h0.9M421.8 59.7h0.9M414.2 60.9h0.9M414.8 62.3h0.9M406.1 70.0h0.9M407.8 54.4h0.9M407.4 65.3h0.9M401.7 66.7h0.9M415.3 74.4h0.9M405.1 66.0h0.9M397.7 59.7h0.9M410.5 64.5h0.9M409.3 61.6h0.9M405.3 59.6h0.9M411.9 65.4h0.9M414.4 67.9h0.9M418.3 51.8h0.9M406.0 61.2h0.9M405.1 68.2h0.9M415.1 61.5h0.9M410.6 69.4h0.9M407.2 60.3h0.9M416.3 64.9h0.9M420.0 64.3h0.9M415.1 59.0h0.9M403.0 62.1h0.9M416.7 62.6h0.9M408.2 68.4h0.9M409.4 67.8h0.9M425.5 66.3h0.9M416.5 65.0h0.9M411.6 63.7h0.9M410.2 68.4h0.9M398.2 60.6h0.9M414.5 57.3h0.9M409.0 58.2h0.9M412.9 67.1h0.9M420.2 65.0h0.9M404.6 63.6h0.9M413.8 70.3h0.9M394.4 64.3h0.9M396.6 66.3h0.9M412.9 65.0h0.9M416.1 64.4h0.9M405.1 64.2h0.9M418.4 61.5h0.9M409.9 55.2h0.9M418.1 59.3h0.9M404.4 59.6h0.9M403.6 60.7h0.9M418.9 66.7h0.9M420.0 70.7h0.9M403.3 64.9h0.9M420.5 75.3h0.9M399.6 54.0h0.9M413.1 60.2h0.9M402.6 64.3h0.9M404.1 49.2h0.9M409.6 62.9h0.9M414.3 67.5h0.9M411.0 60.8h0.9M405.0 52.7h0.9M406.6 67.9h0.9M414.4 73.9h0.9M408.6 51.9h0.9M415.6 68.1h0.9M401.4 52.9h0.9M410.8 66.2h0.9M401.7 60.2h0.9M404.1 55.4h0.9M400.3 62.9h0.9M407.0 58.3h0.9M402.9 61.3h0.9M401.5 64.3h0.9M398.9 62.6h0.9M408.3 67.4h0.9M401.8 58.4h0.9M408.0 74.1h0.9M399.1 63.8h0.9M405.0 63.9h0.9M414.3 62.9h0.9M411.5 63.7h0.9M405.4 60.8h0.9M397.8 60.0h0.9M404.1 60.6h0.9M414.9 64.2h0.9M413.0 68.4h0.9M409.4 61.5h0.9M400.3 65.2h0.9M417.8 67.9h0.9M409.0 65.7h0.9M416.2 72.5h0.9M418.4 62.9h0.9M410.3 63.0h0.9M411.2 59.2h0.9M415.1 58.1h0.9M403.9 64.1h0.9M405.5 60.6h0.9M394.7 66.6h0.9M409.5 61.3h0.9M412.9 63.2h0.9M404.6 73.5h0.9M406.4 67.6h0.9M422.7 58.5h0.9M410.2 57.3h0.9M417.1 60.1h0.9M401.7 69.6h0.9M416.1 56.9h0.9M418.0 63.1h0.9M405.6 60.5h0.9M403.3 62.8h0.9M409.9 66.2h0.9M410.2 53.6h0.9M403.8 70.1h0.9M417.8 61.1h0.9M408.6 61.0h0.9M409.7 52.4h0.9M416.0 58.2h0.9M410.6 47.5h0.9M411.2 69.7h0.9M412.9 57.8h0.9M398.2 68.7h0.9M411.4 65.4h0.9M407.6 57.4h0.9M415.8 56.5h0.9M416.0 52.4h0.9M402.9 53.7h0.9M418.9 52.0h0.9M401.4 65.8h0.9M411.2 74.6h0.9M422.7 65.5h0.9M414.5 51.5h0.9M403.2 60.1h0.9M408.3 54.1h0.9M402.9 57.1h0.9M417.2 64.4h0.9M407.2 60.4h0.9M411.6 58.0h0.9M407.7 52.1h0.9M414.4 67.5h0.9M412.1 64.7h0.9M412.2 73.7h0.9M411.0 54.4h0.9M402.0 66.1h0.9M417.2 66.4h0.9M415.6 63.1h0.9M398.9 57.9h0.9M396.5 59.8h0.9M399.7 62.5h0.9M408.3 50.8h0.9M414.8 66.4h0.9M399.5 62.8h0.9M414.7 60.3h0.9M415.7 63.1h0.9M417.2 63.0h0.9M408.3 64.9h0.9M415.1 63.4h0.9M406.3 57.4h0.9M406.8 58.6h0.9M411.0 62.9h0.9M408.9 61.9h0.9M410.7 71.0h0.9M418.1 58.6h0.9M412.5 60.0h0.9M408.7 60.5h0.9M404.9 54.1h0.9M418.0 56.7h0.9M413.1 59.7h0.9M411.4 57.2h0.9M407.8 61.3h0.9M408.4 47.5h0.9M414.1 61.7h0.9M410.9 64.0h0.9M406.4 55.6h0.9M406.2 59.4h0.9M425.5 72.6h0.9M405.8 59.5h0.9M411.7 65.1h0.9M404.4 56.0h0.9M423.4 68.0h0.9M398.1 51.6h0.9M403.4 63.1h0.9M413.3 59.9h0.9M397.6 63.1h0.9M413.7 61.8h0.9M405.7 65.2h0.9M408.9 55.3h0.9M410.0 54.3h0.9M416.3 64.6h0.9M402.1 63.1h0.9M418.4 49.3h0.9M408.3 71.4h0.9M398.0 60.8h0.9M398.9 61.4h0.9M405.4 62.6h0.9M412.1 64.3h0.9M417.7 65.9h0.9M414.7 56.1h0.9M425.9 66.7h0.9M414.7 67.6h0.9M406.4 73.3h0.9M406.6 61.3h0.9M425.3 49.6h0.9M412.0 51.7h0.9M404.5 61.3h0.9M406.7 62.8h0.9M403.7 61.2h0.9M400.6 59.5h0.9M399.1 65.7h0.9M399.8 65.9h0.9M406.3 60.0h0.9M418.0 62.5h0.9M395.3 64.8h0.9M406.4 53.5h0.9M409.9 60.0h0.9M424.2 59.2h0.9M423.7 70.0h0.9M404.8 57.0h0.9M419.1 61.0h0.9M410.5 60.3h0.9M400.3 59.6h0.9M402.2 52.7h0.9M407.1 72.4h0.9M421.3 61.5h0.9M410.3 64.9h0.9M419.4 63.7h0.9M405.8 59.5h0.9M404.7 49.6h0.9M415.4 61.4h0.9M410.4 69.2h0.9M409.8 53.9h0.9M394.7 61.5h0.9M400.7 63.6h0.9M399.8 59.7h0.9M398.3 59.7h0.9M406.0 65.4h0.9M419.4 60.7h0.9M402.9 73.5h0.9M412.1 65.5h0.9M413.9 70.5h0.9M416.9 65.9h0.9M415.1 56.7h0.9M404.8 61.2h0.9M410.0 62.0h0.9M411.7 62.0h0.9M406.2 52.1h0.9M415.6 65.4h0.9M402.8 64.8h0.9M412.3 62.3h0.9M395.6 54.6h0.9M404.9 71.5h0.9M402.9 59.8h0.9M401.0 58.9h0.9M411.9 49.4h0.9M409.6 58.2h0.9M416.6 67.7h0.9M417.7 57.8h0.9M407.0 67.6h0.9M407.3 54.7h0.9M404.2 53.9h0.9M413.5 51.5h0.9M416.9 52.0h0.9M409.7 53.1h0.9M407.0 68.0h0.9M417.8 69.7h0.9M408.7 62.5h0.9M411.1 65.5h0.9M406.4 68.4h0.9M411.8 68.7h0.9M412.9 65.9h0.9M403.9 59.3h0.9M399.7 60.1h0.9M408.0 66.9h0.9M408.4 69.4h0.9M417.1 46.7h0.9M407.4 70.7h0.9M402.5 59.0h0.9M411.0 50.6h0.9M410.8 58.0h0.9M403.7 66.0h0.9M413.5 61.5h0.9M403.9 63.4h0.9M420.7 63.0h0.9M416.0 60.5h0.9M413.7 65.1h0.9M411.3 55.1h0.9M400.8 60.4h0.9M410.1 54.5h0.9M401.3 65.2h0.9M417.0 58.4h0.9M404.1 57.4h0.9M408.8 67.8h0.9M426.5 68.8h0.9M398.6 61.3h0.9M406.2 59.7h0.9M400.1 59.4h0.9M401.1 63.8h0.9M409.6 53.3h0.9M396.4 58.9h0.9M414.2 64.7h0.9M408.8 41.9h0.9M405.5 57.3h0.9M406.7 54.4h0.9M406.0 57.8h0.9M407.8 61.5h0.9M408.4 62.9h0.9M406.2 61.7h0.9M417.0 66.8h0.9M411.6 69.8h0.9M410.9 55.9h0.9M396.1 57.6h0.9M408.8 64.2h0.9M417.4 58.3h0.9M403.2 66.4h0.9M418.1 58.9h0.9M411.8 70.0h0.9M411.7 61.4h0.9M414.1 62.5h0.9M405.8 54.3h0.9M408.5 61.1h0.9M417.5 54.5h0.9M420.1 62.0h0.9M418.2 55.9h0.9M411.9 69.1h0.9M410.1 52.9h0.9M406.8 65.0h0.9M398.7 53.1h0.9M411.0 56.0h0.9M414.4 54.7h0.9M395.4 57.1h0.9M420.5 56.6h0.9M409.2 63.2h0.9M402.1 68.3h0.9M410.6 64.4h0.9M396.6 51.2h0.9M407.5 66.1h0.9M420.4 60.2h0.9M407.2 64.5h0.9M420.8 56.8h0.9M414.0 60.3h0.9M406.8 66.7h0.9M403.3 55.4h0.9M414.3 61.6h0.9M407.3 61.0h0.9M413.0 59.6h0.9M415.0 64.3h0.9M420.4 69.4h0.9M415.7 60.6h0.9M410.2 58.2h0.9M413.5 70.0h0.9M399.1 56.8h0.9M406.3 55.8h0.9M399.8 58.7h0.9M419.0 66.1h0.9M409.6 62.0h0.9M396.8 66.0h0.9M412.5 55.3h0.9M410.9 60.7h0.9M405.4 55.9h0.9M404.2 56.2h0.9M412.8 64.0h0.9M411.7 60.7h0.9M406.3 74.1h0.9M395.4 69.0h0.9M412.0 62.2h0.9M405.5 60.5h0.9M400.4 53.5h0.9M408.5 51.9h0.9M415.6 68.5h0.9M411.4 63.1h0.9M410.2 64.4h0.9M414.9 67.0h0.9M422.8 62.0h0.9M415.8 52.1h0.9M408.4 54.5h0.9M419.8 75.8h0.9M413.4 54.0h0.9M408.5 62.0h0.9M410.8 68.4h0.9M416.5 46.0h0.9M419.6 58.9h0.9M405.2 70.4h0.9M407.4 53.6h0.9M399.4 62.2h0.9M416.2 70.9h0.9M408.1 59.0h0.9M421.5 59.1h0.9M420.3 63.3h0.9M411.2 60.4h0.9M411.6 59.1h0.9M404.3 61.1h0.9M404.5 63.7h0.9M410.0 60.3h0.9M407.9 60.5h0.9M422.4 61.8h0.9M404.9 60.1h0.9M414.3 60.7h0.9M408.2 60.3h0.9M410.6 64.2h0.9M412.7 52.0h0.9M401.4 46.1h0.9M415.4 68.5h0.9M419.1 62.7h0.9M418.0 61.6h0.9M408.5 52.6h0.9M403.5 58.3h0.9M416.3 71.8h0.9M405.9 64.1h0.9M411.4 57.2h0.9M396.5 57.3h0.9M398.6 60.0h0.9M408.3 60.8h0.9M408.1 64.7h0.9M402.4 67.2h0.9M396.8 62.2h0.9M412.3 57.1h0.9M397.4 65.7h0.9M404.3 66.5h0.9M415.1 61.8h0.9M409.3 67.8h0.9M412.2 56.2h0.9M410.6 65.2h0.9M410.9 63.0h0.9M408.2 61.1h0.9M402.4 53.3h0.9M417.8 58.0h0.9M411.0 52.9h0.9M410.5 56.9h0.9M402.1 67.5h0.9M417.8 49.3h0.9M411.2 67.1h0.9M400.2 65.9h0.9M405.4 55.9h0.9M406.7 59.1h0.9M399.0 75.2h0.9M405.9 57.4h0.9M415.7 61.4h0.9M419.3 60.2h0.9M412.0 62.4h0.9M410.6 60.6h0.9M408.6 71.8h0.9M404.3 58.6h0.9M406.8 65.2h0.9M412.3 67.4h0.9M399.4 63.4h0.9M408.0 60.1h0.9M410.6 50.1h0.9M411.4 62.7h0.9M398.7 61.3h0.9M420.9 59.5h0.9M413.7 60.5h0.9M403.3 56.4h0.9M406.4 69.6h0.9M415.4 57.6h0.9M416.8 61.1h0.9M404.2 64.4h0.9M402.6 52.5h0.9M418.9 51.0h0.9M413.4 52.8h0.9M409.1 60.7h0.9M406.1 48.9h0.9M408.5 61.6h0.9M402.7 61.4h0.9M416.7 57.6h0.9M411.3 55.0h0.9M412.2 65.6h0.9M412.6 70.2h0.9M402.0 68.2h0.9M405.3 58.2h0.9M417.5 63.2h0.9M419.2 53.3h0.9" stroke="#1010e0" stroke-width="0.9" fill="none" opacity="1"/>
<clipPath id="cg363"><rect x="394.8" y="31.8" width="31.1" height="43.6"/></clipPath>
<ellipse cx="409.8" cy="61.699999999999996" rx="16.3" ry="13.6" fill="#1414e2" clip-path="url(#cg363)"/>
<ellipse cx="408.1" cy="63.099999999999994" rx="5.8" ry="3.7" fill="#fff"/>
<path d="M411.7 47.7h0.6M407.3 39.7h0.6M404.4 42.9h0.6M426.0 45.2h0.6M417.6 42.4h0.6M407.3 48.0h0.6M409.0 38.3h0.6M419.5 39.2h0.6M407.0 44.1h0.6M421.1 36.9h0.6M415.4 38.4h0.6M414.7 44.1h0.6M411.1 41.9h0.6M411.9 48.3h0.6M405.8 42.5h0.6M399.3 41.5h0.6M396.3 47.7h0.6M405.6 48.1h0.6M398.9 44.7h0.6M413.8 44.7h0.6M420.0 37.7h0.6M418.2 37.1h0.6M404.2 47.0h0.6M412.8 48.0h0.6M422.1 41.9h0.6M403.6 39.2h0.6M395.9 45.4h0.6M420.3 37.4h0.6M410.3 46.8h0.6M415.0 41.8h0.6M424.9 41.9h0.6M404.6 42.8h0.6M405.7 41.5h0.6M410.5 37.7h0.6M413.9 43.8h0.6M417.3 39.7h0.6M395.9 45.3h0.6M406.4 44.0h0.6M403.2 41.0h0.6M403.0 42.7h0.6" stroke="#77c" stroke-width="0.6" fill="none" opacity="1"/>
<path d="M401.9 53.0h0.6M404.0 72.7h0.6M405.2 50.8h0.6M423.3 66.4h0.6M399.2 56.9h0.6M402.2 53.7h0.6M401.4 68.9h0.6M399.5 55.4h0.6M421.8 58.0h0.6M395.5 60.3h0.6M397.5 70.3h0.6M415.0 72.3h0.6M423.0 66.0h0.6M415.9 74.9h0.6M397.4 65.0h0.6M407.9 72.2h0.6M420.0 67.0h0.6M407.2 51.6h0.6M419.1 49.6h0.6M420.7 56.3h0.6M413.8 49.5h0.6M422.4 58.0h0.6M397.7 53.9h0.6M415.4 73.5h0.6M407.2 48.2h0.6M417.1 53.9h0.6M410.5 50.4h0.6M411.0 51.2h0.6M399.7 69.9h0.6M404.6 49.7h0.6M414.3 52.7h0.6M406.3 74.7h0.6M404.0 73.7h0.6M420.5 69.3h0.6M399.4 68.9h0.6M395.4 58.9h0.6M414.5 47.8h0.6M414.7 49.1h0.6M413.9 71.9h0.6M422.0 62.5h0.6M412.2 51.9h0.6M408.1 73.2h0.6M417.3 71.2h0.6M409.6 73.4h0.6M414.9 70.6h0.6M423.2 54.5h0.6M411.4 50.8h0.6M425.1 56.6h0.6M398.5 67.8h0.6M412.9 52.2h0.6M394.8 55.6h0.6M424.2 54.3h0.6M399.1 66.0h0.6M402.0 70.7h0.6M395.8 55.4h0.6M423.2 60.3h0.6M401.8 69.4h0.6M417.0 51.2h0.6M411.3 73.8h0.6M411.6 73.8h0.6M398.2 65.2h0.6M418.2 70.0h0.6M396.1 66.7h0.6M409.2 47.6h0.6M424.3 69.5h0.6M395.9 68.7h0.6M401.9 73.2h0.6M405.1 52.6h0.6M418.0 54.5h0.6M396.8 62.2h0.6M399.0 55.9h0.6M397.3 53.2h0.6M396.0 54.1h0.6M398.3 70.5h0.6M423.6 69.5h0.6M423.3 68.4h0.6M422.8 69.7h0.6M411.8 71.7h0.6M420.0 52.6h0.6M419.1 50.6h0.6M419.9 67.4h0.6M406.1 48.2h0.6M416.9 74.4h0.6M425.7 63.9h0.6M400.1 53.3h0.6M399.8 69.3h0.6M395.3 63.6h0.6M415.8 70.2h0.6M397.1 59.9h0.6M420.5 68.1h0.6M420.0 72.7h0.6M405.9 74.2h0.6M425.2 62.5h0.6M425.1 57.9h0.6M411.0 50.0h0.6M411.0 73.9h0.6M408.0 50.4h0.6M398.0 63.4h0.6M404.5 52.1h0.6M409.0 72.5h0.6M407.0 50.2h0.6M423.6 55.7h0.6M411.5 72.9h0.6M401.3 69.8h0.6M397.2 60.3h0.6M407.9 47.4h0.6M397.4 63.4h0.6M407.9 49.4h0.6M415.2 49.9h0.6M417.9 54.6h0.6M400.9 51.4h0.6M412.1 51.0h0.6M398.4 56.0h0.6M410.1 51.5h0.6M419.1 73.7h0.6M408.7 50.7h0.6M404.3 72.7h0.6M411.1 72.1h0.6M422.5 59.7h0.6M409.6 48.5h0.6M408.5 50.5h0.6M412.4 74.2h0.6M423.7 61.4h0.6M412.6 73.7h0.6M414.8 72.3h0.6M408.5 50.8h0.6M395.1 65.8h0.6M416.5 70.5h0.6M421.0 53.4h0.6M397.4 61.4h0.6M410.5 72.0h0.6M395.8 59.3h0.6M415.5 70.8h0.6M398.6 57.0h0.6M422.7 62.6h0.6M414.8 49.5h0.6M396.8 60.5h0.6M398.2 63.7h0.6M403.2 72.4h0.6M422.4 68.5h0.6M398.5 65.3h0.6M418.5 71.4h0.6M419.4 55.6h0.6M397.4 57.5h0.6M396.8 70.9h0.6M400.6 53.6h0.6M419.3 53.0h0.6M395.6 59.5h0.6M419.8 73.4h0.6M411.4 72.4h0.6M422.9 70.8h0.6M423.0 55.2h0.6M394.9 59.5h0.6M398.2 71.9h0.6M404.4 49.5h0.6M402.1 49.8h0.6M415.8 49.7h0.6M404.1 71.7h0.6M415.3 74.8h0.6M398.1 62.6h0.6M396.2 53.6h0.6M424.7 54.7h0.6M418.4 53.9h0.6M401.2 52.7h0.6M412.7 48.0h0.6M399.9 68.9h0.6M418.4 51.0h0.6M403.8 53.1h0.6M422.4 70.1h0.6M420.0 54.0h0.6M418.6 54.0h0.6M397.7 56.2h0.6M397.2 59.4h0.6M399.1 69.7h0.6M398.4 56.5h0.6M399.5 55.1h0.6M422.7 60.1h0.6M420.0 68.7h0.6M396.8 56.8h0.6M403.1 53.0h0.6M397.0 68.2h0.6M397.6 56.8h0.6M421.3 70.2h0.6M396.4 57.0h0.6M407.1 49.9h0.6M412.2 50.7h0.6M401.8 74.2h0.6M394.6 54.9h0.6M425.5 67.0h0.6M424.7 66.4h0.6M398.8 56.8h0.6M405.0 73.1h0.6M396.2 57.4h0.6M400.3 72.3h0.6M425.3 55.5h0.6M416.6 74.5h0.6M410.1 72.2h0.6M394.9 55.0h0.6M394.8 68.7h0.6M406.5 52.2h0.6M421.1 57.5h0.6M412.4 74.0h0.6M421.4 57.8h0.6M406.2 71.3h0.6M421.8 67.9h0.6M396.7 56.1h0.6M423.3 65.2h0.6M402.6 73.0h0.6M395.9 52.9h0.6M400.8 53.0h0.6M395.2 68.4h0.6M398.2 72.2h0.6M419.3 72.7h0.6M397.5 65.4h0.6M399.6 56.3h0.6M414.9 74.8h0.6M396.2 60.0h0.6M417.5 70.0h0.6M411.6 73.6h0.6M422.6 63.1h0.6M394.7 67.8h0.6M421.1 51.1h0.6M411.7 72.0h0.6M418.9 51.0h0.6M410.1 73.6h0.6M424.3 55.5h0.6M423.2 57.0h0.6M415.0 73.3h0.6M419.1 68.5h0.6M420.8 67.6h0.6M416.6 71.1h0.6M404.5 49.5h0.6M417.0 48.8h0.6M412.9 74.7h0.6M395.0 57.1h0.6M419.8 55.9h0.6M418.8 50.0h0.6M401.2 52.5h0.6" stroke="#fff" stroke-width="0.6" fill="none" opacity="1"/>
<path d="M395.5 64.0h0.7M396.0 69.2h0.7M395.5 67.7h0.7M394.4 68.2h0.7M394.4 66.9h0.7M396.1 63.9h0.7M395.0 64.8h0.7M394.7 66.2h0.7M396.4 64.9h0.7M395.6 64.2h0.7M396.6 61.3h0.7M395.2 59.3h0.7M395.7 62.5h0.7M395.8 59.9h0.7M396.3 56.3h0.7M395.1 68.3h0.7M394.2 58.6h0.7M394.9 68.2h0.7M394.9 66.7h0.7M396.1 63.7h0.7M396.6 71.6h0.7M396.4 56.8h0.7M394.2 64.0h0.7M396.3 70.5h0.7M395.9 65.3h0.7M396.5 59.9h0.7M395.3 57.3h0.7M395.1 64.1h0.7M395.0 56.5h0.7M396.2 67.7h0.7M394.6 66.7h0.7M395.8 52.6h0.7M396.1 61.1h0.7M394.9 70.5h0.7M395.0 67.3h0.7M394.4 58.5h0.7M395.4 57.4h0.7M396.3 57.7h0.7M396.3 59.5h0.7M395.4 66.0h0.7M395.3 64.8h0.7M395.9 70.8h0.7M395.0 65.8h0.7M395.4 68.8h0.7M396.0 51.3h0.7M396.4 62.6h0.7M394.4 61.2h0.7M395.8 60.0h0.7M396.2 57.5h0.7M396.5 48.5h0.7M395.8 72.9h0.7M395.8 59.1h0.7M395.0 69.0h0.7M396.1 61.5h0.7M395.5 66.2h0.7M396.2 66.7h0.7M394.1 70.2h0.7M395.2 60.4h0.7M394.3 64.6h0.7M394.2 61.6h0.7" stroke="#112" stroke-width="0.7" fill="none" opacity="1"/>
<path d="M436.6 63.5h0.9M439.3 67.3h0.9M438.4 53.1h0.9M428.2 64.9h0.9M435.4 56.9h0.9M435.7 48.3h0.9M435.1 41.2h0.9M435.1 53.0h0.9M446.5 62.4h0.9M436.0 60.4h0.9M440.9 54.0h0.9M436.0 56.8h0.9M449.9 59.8h0.9M450.4 52.6h0.9M455.0 58.8h0.9M442.3 55.3h0.9M435.7 50.7h0.9M431.7 44.3h0.9M443.0 51.2h0.9M439.0 61.5h0.9M433.8 59.6h0.9M436.6 55.8h0.9M437.4 59.6h0.9M431.9 50.2h0.9M432.7 60.1h0.9M444.2 69.5h0.9M438.7 65.8h0.9M437.7 67.0h0.9M437.8 62.0h0.9M435.6 59.2h0.9M446.9 50.8h0.9M437.1 55.1h0.9M442.0 71.9h0.9M435.5 39.7h0.9M440.3 63.5h0.9M428.4 57.5h0.9M436.7 42.9h0.9M440.6 62.3h0.9M438.3 51.7h0.9M433.4 54.7h0.9M439.6 52.2h0.9M444.7 61.8h0.9M437.9 55.3h0.9M437.6 46.3h0.9M438.0 41.8h0.9M431.8 68.7h0.9M443.6 56.7h0.9M432.0 65.7h0.9M436.8 60.6h0.9M440.3 51.5h0.9M441.2 44.2h0.9M444.6 48.0h0.9M433.8 54.4h0.9M440.8 64.4h0.9M438.9 62.9h0.9M439.5 58.6h0.9M435.8 58.1h0.9M438.2 57.4h0.9M431.8 48.4h0.9M441.7 49.5h0.9M435.6 62.2h0.9M445.3 54.8h0.9M437.9 67.3h0.9M427.9 53.8h0.9M436.8 53.9h0.9M448.0 65.2h0.9M438.0 52.2h0.9M441.5 63.5h0.9M434.3 55.9h0.9M429.3 58.5h0.9M441.5 66.1h0.9M440.0 64.9h0.9M433.9 55.7h0.9M443.2 62.2h0.9M432.8 62.6h0.9M441.3 64.0h0.9M437.5 55.3h0.9M439.0 71.0h0.9M437.7 54.2h0.9M438.7 50.2h0.9M438.1 56.9h0.9M441.9 59.7h0.9M442.4 75.3h0.9M435.8 53.1h0.9M439.3 58.3h0.9M437.7 54.7h0.9M439.8 59.5h0.9M438.7 67.3h0.9M433.9 53.3h0.9M442.9 54.6h0.9M437.5 62.3h0.9M440.8 59.0h0.9M431.1 66.1h0.9M434.7 55.3h0.9M447.3 65.2h0.9M431.4 55.5h0.9M435.6 53.6h0.9M440.9 60.7h0.9M434.8 60.4h0.9M440.2 51.6h0.9M435.2 55.0h0.9M440.5 60.8h0.9M430.2 54.6h0.9M446.1 52.1h0.9M437.7 54.5h0.9M443.4 58.5h0.9M434.6 50.6h0.9M435.6 64.8h0.9M440.4 49.6h0.9M445.0 57.2h0.9M431.4 59.8h0.9M433.7 54.8h0.9M433.6 58.3h0.9M434.3 46.9h0.9M439.6 55.2h0.9M443.1 62.7h0.9M440.1 60.2h0.9M443.6 56.6h0.9M431.7 61.3h0.9M438.0 55.9h0.9M443.4 63.8h0.9M437.4 56.1h0.9M442.5 54.1h0.9M434.7 64.1h0.9M439.9 73.2h0.9M435.7 45.6h0.9M440.3 67.7h0.9M436.0 69.8h0.9M446.0 54.2h0.9M434.4 50.1h0.9M439.6 63.9h0.9M440.0 50.2h0.9M432.9 48.8h0.9M428.5 49.4h0.9M428.7 57.6h0.9M439.0 63.2h0.9M436.7 54.1h0.9M436.8 62.8h0.9M435.3 59.2h0.9M435.2 55.1h0.9M437.0 51.0h0.9M442.2 47.9h0.9M439.2 49.3h0.9M444.6 64.9h0.9M432.6 55.7h0.9M431.0 58.4h0.9M429.8 67.5h0.9M433.8 60.7h0.9M441.3 62.6h0.9M439.0 57.4h0.9M436.8 59.9h0.9M443.0 48.5h0.9M434.3 50.1h0.9M431.8 53.2h0.9M442.4 73.8h0.9M443.8 50.5h0.9M437.2 50.9h0.9M439.1 67.7h0.9M439.8 64.9h0.9M436.0 45.0h0.9M439.8 67.7h0.9M435.0 59.3h0.9M438.1 66.2h0.9M436.4 51.1h0.9M442.4 61.7h0.9M438.8 49.9h0.9M436.8 46.8h0.9M434.6 62.8h0.9M444.2 58.6h0.9M446.0 54.7h0.9M440.7 49.9h0.9M437.4 56.6h0.9M435.7 62.9h0.9M432.6 59.6h0.9M438.8 56.2h0.9M434.9 50.7h0.9M439.6 54.1h0.9M439.1 48.8h0.9M443.8 51.7h0.9M442.7 55.7h0.9M439.6 57.8h0.9M440.3 58.8h0.9M443.3 63.5h0.9M440.3 70.4h0.9M433.2 67.9h0.9M437.2 48.5h0.9M439.3 57.4h0.9M445.5 55.4h0.9M437.1 60.4h0.9M431.7 68.6h0.9M445.3 58.7h0.9M428.7 60.1h0.9M437.7 63.8h0.9M435.3 50.5h0.9M436.1 52.3h0.9M445.9 53.9h0.9M433.5 58.5h0.9M430.4 55.7h0.9M436.1 55.4h0.9M435.5 67.5h0.9M439.0 49.5h0.9M434.6 64.0h0.9M433.5 59.4h0.9M436.7 62.5h0.9M435.9 57.8h0.9M432.4 61.3h0.9M432.0 70.9h0.9M436.7 57.2h0.9M440.8 58.2h0.9M437.3 58.4h0.9M433.1 52.4h0.9M433.2 66.7h0.9M433.6 56.0h0.9M434.5 63.7h0.9M446.9 52.4h0.9M439.6 59.6h0.9M435.2 62.3h0.9M430.3 64.6h0.9M437.9 51.9h0.9M445.0 64.7h0.9M442.8 48.7h0.9M435.4 55.2h0.9M440.0 68.2h0.9M436.2 65.8h0.9M436.6 49.9h0.9M435.8 51.6h0.9M432.8 59.1h0.9M434.3 60.7h0.9M429.0 74.9h0.9M443.2 63.8h0.9M430.2 43.8h0.9M432.4 57.2h0.9M448.2 67.9h0.9M434.1 67.2h0.9M443.1 58.9h0.9M443.0 61.1h0.9M433.5 50.6h0.9M436.2 65.7h0.9M429.9 47.6h0.9M439.6 39.9h0.9M446.1 55.7h0.9M440.5 71.7h0.9M429.4 51.5h0.9M448.3 56.8h0.9M436.1 60.4h0.9M442.2 68.0h0.9M437.4 56.5h0.9M436.6 60.9h0.9M443.5 59.7h0.9M446.1 52.8h0.9M439.5 71.0h0.9M443.4 61.1h0.9M432.3 53.8h0.9M436.0 61.0h0.9M435.5 48.7h0.9M433.0 62.4h0.9M441.1 49.1h0.9M434.9 47.2h0.9M437.1 56.4h0.9M433.8 50.4h0.9M435.4 69.1h0.9M428.4 61.8h0.9M443.7 45.2h0.9M440.2 47.6h0.9M439.5 69.1h0.9M436.8 60.8h0.9M433.3 60.8h0.9M442.6 57.5h0.9M436.1 61.5h0.9M441.0 47.4h0.9M437.1 54.0h0.9M439.3 66.0h0.9M438.4 67.8h0.9M431.7 56.0h0.9M431.7 59.2h0.9M437.3 57.4h0.9M430.6 58.3h0.9M434.6 63.0h0.9M435.4 66.9h0.9M438.0 45.9h0.9M435.9 48.9h0.9M441.8 68.8h0.9M436.7 61.9h0.9M429.4 43.2h0.9M434.0 57.0h0.9M429.1 59.4h0.9M438.4 63.3h0.9M444.7 64.4h0.9M434.9 59.5h0.9M439.9 51.5h0.9M443.6 65.1h0.9M435.7 54.4h0.9M456.3 64.7h0.9M441.6 71.3h0.9M441.8 60.3h0.9M440.4 52.5h0.9M440.5 48.1h0.9M439.0 62.7h0.9M428.8 72.2h0.9M430.9 66.1h0.9M434.1 61.0h0.9M442.1 71.5h0.9M440.9 63.7h0.9M437.6 57.2h0.9M440.0 60.0h0.9M436.1 49.3h0.9M435.3 63.1h0.9M434.5 61.4h0.9M436.2 51.8h0.9M432.3 53.8h0.9M435.4 57.1h0.9M442.6 51.4h0.9M434.6 58.1h0.9M450.0 69.2h0.9M439.9 65.6h0.9M437.5 65.7h0.9M433.8 54.0h0.9M434.5 70.0h0.9M444.9 54.8h0.9M442.9 57.9h0.9M442.5 56.8h0.9M441.9 58.2h0.9M435.5 58.9h0.9M437.8 55.0h0.9M429.9 70.8h0.9M434.9 46.3h0.9M433.8 68.5h0.9M428.6 56.8h0.9M427.5 66.7h0.9M438.9 61.3h0.9M443.9 70.5h0.9M442.3 55.0h0.9M430.2 51.8h0.9M428.0 71.7h0.9M436.0 60.0h0.9M438.0 73.2h0.9M434.1 67.3h0.9M438.6 58.0h0.9M433.2 55.9h0.9M438.2 59.7h0.9M442.8 54.4h0.9M437.9 61.0h0.9M437.1 63.8h0.9M435.7 67.5h0.9M433.4 49.0h0.9M436.8 67.4h0.9M434.4 54.7h0.9M435.2 60.2h0.9M436.1 61.3h0.9M428.2 69.6h0.9M440.0 53.1h0.9M444.1 62.2h0.9M444.6 50.9h0.9M445.6 59.4h0.9M435.5 52.0h0.9M435.9 45.5h0.9M440.0 57.6h0.9M435.6 69.0h0.9M437.2 54.5h0.9M432.1 58.7h0.9M442.5 55.0h0.9M431.7 65.6h0.9M437.3 58.9h0.9M447.8 50.6h0.9M438.0 46.7h0.9M435.5 63.2h0.9M442.8 50.2h0.9M441.3 64.6h0.9M437.0 52.9h0.9M439.2 46.0h0.9M445.0 66.0h0.9M435.0 63.4h0.9M439.8 72.6h0.9M433.8 50.0h0.9M428.9 57.9h0.9M439.1 56.0h0.9M432.1 67.4h0.9M436.0 60.7h0.9M441.9 49.9h0.9M436.2 51.8h0.9M435.7 55.1h0.9M430.7 56.2h0.9M436.9 59.0h0.9M439.8 46.9h0.9M429.3 64.6h0.9M434.7 67.6h0.9M438.6 49.2h0.9M439.8 52.0h0.9M438.3 67.7h0.9M447.9 58.6h0.9M440.6 61.2h0.9M441.1 41.2h0.9M435.0 61.1h0.9M439.4 53.8h0.9M441.2 66.8h0.9M437.4 57.5h0.9M435.2 60.1h0.9M443.1 69.6h0.9M434.6 52.6h0.9M432.9 66.0h0.9M438.1 61.2h0.9M439.5 61.7h0.9M436.4 51.8h0.9M433.8 59.9h0.9M439.0 56.5h0.9M434.9 68.6h0.9M434.6 60.6h0.9M435.4 53.1h0.9M429.2 55.3h0.9M432.8 65.0h0.9M431.1 56.2h0.9M440.4 58.3h0.9M439.5 64.9h0.9M428.5 56.2h0.9M432.1 68.5h0.9M436.4 62.5h0.9M445.7 56.6h0.9M437.4 61.9h0.9M435.6 67.8h0.9M441.2 66.0h0.9M437.3 56.7h0.9M435.2 56.5h0.9M428.6 61.6h0.9M441.2 59.0h0.9M434.5 59.3h0.9M438.1 61.3h0.9M446.2 53.1h0.9M438.9 63.8h0.9M437.4 57.4h0.9M431.8 55.0h0.9M440.6 69.1h0.9M433.7 62.3h0.9M439.6 66.0h0.9M438.2 62.1h0.9M441.5 51.0h0.9M437.2 46.9h0.9M429.2 62.6h0.9M442.0 57.0h0.9M436.3 57.4h0.9M435.7 60.0h0.9M438.8 55.9h0.9M433.0 55.5h0.9M441.0 56.2h0.9M444.3 57.4h0.9M443.9 50.8h0.9M433.5 62.3h0.9M439.4 58.0h0.9M447.3 59.5h0.9M438.4 55.1h0.9M445.3 64.9h0.9M439.1 47.8h0.9M438.8 55.8h0.9M439.0 65.3h0.9M433.2 60.5h0.9M441.4 60.1h0.9M435.3 51.8h0.9M433.6 50.3h0.9M441.9 59.7h0.9M430.9 59.0h0.9M430.5 36.6h0.9M443.0 67.0h0.9M429.6 54.1h0.9M438.0 56.4h0.9M432.7 55.5h0.9M435.8 55.2h0.9M438.0 57.4h0.9M433.1 59.2h0.9M428.6 68.9h0.9M428.2 58.4h0.9M438.7 61.8h0.9M438.3 67.6h0.9M431.3 58.5h0.9M437.7 55.6h0.9M434.0 67.8h0.9M433.4 55.7h0.9M435.6 57.5h0.9M437.7 57.6h0.9M438.8 59.9h0.9M439.3 68.3h0.9M432.7 70.2h0.9M434.7 63.5h0.9M437.7 57.0h0.9M433.1 53.6h0.9M442.2 59.5h0.9M446.4 70.4h0.9M440.5 60.7h0.9M440.7 50.0h0.9M437.8 60.0h0.9M434.6 60.7h0.9M429.6 65.1h0.9M443.3 50.2h0.9M437.6 69.4h0.9M439.0 52.0h0.9M432.0 64.7h0.9M446.0 51.6h0.9M437.1 53.7h0.9M435.5 61.0h0.9M436.7 54.3h0.9M447.4 57.9h0.9M436.0 66.4h0.9M437.0 57.6h0.9M441.6 52.0h0.9M440.6 65.9h0.9M440.2 57.7h0.9M436.9 47.3h0.9M436.3 60.9h0.9M441.2 59.9h0.9M435.0 53.3h0.9M436.7 59.8h0.9M442.9 59.0h0.9M434.4 58.2h0.9M434.5 57.3h0.9M431.0 62.1h0.9M436.5 59.9h0.9M442.6 51.9h0.9M442.5 61.5h0.9M433.4 68.9h0.9M429.8 51.3h0.9M435.9 61.6h0.9M435.9 44.6h0.9M435.4 58.4h0.9M449.5 68.2h0.9M437.5 51.6h0.9M438.6 51.1h0.9M437.9 61.4h0.9M434.9 60.6h0.9M435.3 55.1h0.9M444.5 62.8h0.9M435.4 53.8h0.9M437.8 62.7h0.9M441.1 68.8h0.9M439.2 51.4h0.9M446.9 66.7h0.9M441.0 67.9h0.9M429.5 56.4h0.9M434.4 66.9h0.9M431.1 56.7h0.9M444.4 63.2h0.9M435.0 71.5h0.9M430.3 61.9h0.9M435.7 62.3h0.9M435.5 53.3h0.9M437.9 50.1h0.9M439.5 56.7h0.9M441.4 55.9h0.9M433.6 61.6h0.9M442.9 45.0h0.9M437.4 63.1h0.9M429.9 53.0h0.9M440.0 53.3h0.9M433.7 70.4h0.9M432.2 53.1h0.9M430.8 70.4h0.9M442.9 50.4h0.9M446.5 64.0h0.9M436.0 64.3h0.9M438.7 53.7h0.9M428.2 52.8h0.9M436.8 56.5h0.9M433.2 65.4h0.9M431.6 64.8h0.9M434.5 59.6h0.9M431.3 58.8h0.9M433.0 47.2h0.9M436.7 58.5h0.9M440.9 60.8h0.9M431.8 54.7h0.9M443.2 69.0h0.9M440.6 60.9h0.9M439.7 62.1h0.9M428.3 53.0h0.9M442.7 66.8h0.9M438.0 56.8h0.9M434.9 55.2h0.9M432.3 45.9h0.9M437.6 55.8h0.9M435.8 70.3h0.9M439.7 54.1h0.9M439.7 48.7h0.9M442.0 60.6h0.9M435.9 62.7h0.9M444.0 55.7h0.9M431.9 73.0h0.9M436.9 68.9h0.9M433.5 61.4h0.9M433.7 63.1h0.9M435.5 54.3h0.9M444.5 61.1h0.9M432.3 50.6h0.9M433.9 55.6h0.9M437.0 53.5h0.9M427.6 55.2h0.9M441.2 49.6h0.9M439.9 61.9h0.9M434.6 60.9h0.9M433.1 56.1h0.9M431.7 62.0h0.9M443.6 54.2h0.9M442.7 44.4h0.9M432.4 52.0h0.9M445.4 54.8h0.9M440.7 45.0h0.9M437.4 62.6h0.9M436.6 40.4h0.9M437.7 64.3h0.9M443.4 61.5h0.9M428.4 57.4h0.9M441.3 53.3h0.9M439.6 55.6h0.9M437.3 63.9h0.9M437.6 61.1h0.9M433.1 59.2h0.9M435.5 48.9h0.9M429.2 60.7h0.9M436.4 41.0h0.9M436.5 62.9h0.9M430.6 62.8h0.9M435.3 55.4h0.9M436.1 65.5h0.9M439.6 64.8h0.9M433.4 56.9h0.9M431.0 55.0h0.9M434.8 55.6h0.9M440.4 61.7h0.9M440.6 59.7h0.9M442.2 59.6h0.9M441.6 62.2h0.9M440.5 58.3h0.9M430.6 49.0h0.9M446.6 61.4h0.9M439.0 57.7h0.9M431.2 58.4h0.9M436.5 51.1h0.9M430.4 54.0h0.9M435.1 55.5h0.9M440.9 50.8h0.9M438.8 68.8h0.9M441.3 51.1h0.9M439.3 54.8h0.9M443.2 56.0h0.9M437.3 51.7h0.9M438.4 55.9h0.9M434.3 66.1h0.9M437.9 48.6h0.9M440.3 64.5h0.9M432.6 56.1h0.9M437.1 57.1h0.9M437.4 63.2h0.9M434.3 72.9h0.9M433.2 55.1h0.9M446.6 75.0h0.9M437.0 57.5h0.9M431.4 66.6h0.9M437.7 53.0h0.9M438.8 68.1h0.9M440.2 73.8h0.9M442.6 61.8h0.9M436.6 62.5h0.9M442.9 64.6h0.9M442.1 60.3h0.9M440.6 67.1h0.9M436.0 50.0h0.9M445.4 62.8h0.9M434.6 60.4h0.9M435.6 47.2h0.9M435.9 49.1h0.9M437.8 58.1h0.9M442.5 58.0h0.9M438.7 56.8h0.9M434.9 49.3h0.9M441.8 60.0h0.9M433.9 60.2h0.9M434.7 53.9h0.9M438.0 67.1h0.9M435.5 49.1h0.9M433.7 71.0h0.9M432.7 66.9h0.9M435.6 63.8h0.9M436.3 48.1h0.9M434.7 73.2h0.9M436.1 62.6h0.9M435.1 57.9h0.9M438.4 62.0h0.9M447.9 58.7h0.9M435.9 54.3h0.9M430.2 47.9h0.9M440.1 46.2h0.9M443.8 64.6h0.9M435.3 51.0h0.9M437.0 59.0h0.9M442.4 53.8h0.9M434.9 58.5h0.9M435.4 54.6h0.9M428.2 47.7h0.9M433.4 57.3h0.9M441.8 74.5h0.9M445.4 61.5h0.9M446.2 58.0h0.9M434.2 74.6h0.9M431.5 56.0h0.9M435.5 68.7h0.9M433.8 64.1h0.9M434.8 50.5h0.9M438.0 60.0h0.9M431.0 52.9h0.9M432.9 65.4h0.9M439.1 60.5h0.9M439.3 55.6h0.9M439.2 54.7h0.9M430.2 54.1h0.9M437.9 59.4h0.9M442.1 47.4h0.9M435.7 61.5h0.9M432.0 60.5h0.9M434.8 51.2h0.9M442.4 49.4h0.9M441.8 56.0h0.9M432.1 52.8h0.9M433.1 53.1h0.9M438.2 46.1h0.9M443.0 64.5h0.9M443.8 52.2h0.9M436.0 60.9h0.9M434.2 58.3h0.9M437.6 48.3h0.9M445.9 51.2h0.9M438.2 66.2h0.9M432.9 58.9h0.9M445.0 57.0h0.9M442.1 60.8h0.9M438.0 63.8h0.9M435.7 57.5h0.9M441.7 60.7h0.9M439.3 50.8h0.9M436.9 67.1h0.9M441.4 61.2h0.9M434.3 54.7h0.9M439.1 68.5h0.9M437.1 67.8h0.9M435.4 67.1h0.9M431.9 60.2h0.9M431.5 63.4h0.9M439.7 52.5h0.9M433.2 55.9h0.9M429.4 52.6h0.9M432.6 64.2h0.9M443.8 55.9h0.9M435.4 60.4h0.9M434.3 57.0h0.9M441.1 60.5h0.9M436.5 55.0h0.9M444.2 54.7h0.9M437.5 51.9h0.9M433.9 59.5h0.9M434.9 62.5h0.9M437.2 49.5h0.9M434.0 68.9h0.9M436.9 53.7h0.9M439.7 57.1h0.9M436.9 52.6h0.9M440.1 66.3h0.9M434.2 71.0h0.9M434.0 60.6h0.9M428.7 45.8h0.9M447.4 68.6h0.9M442.6 47.4h0.9M438.0 61.7h0.9M437.3 60.9h0.9M432.3 57.8h0.9M431.2 56.5h0.9M438.7 53.6h0.9M435.5 56.0h0.9M436.9 65.1h0.9M438.0 61.6h0.9M429.7 56.4h0.9M440.9 53.0h0.9M434.7 52.3h0.9M443.5 55.8h0.9M433.2 63.1h0.9M442.3 62.2h0.9M441.8 60.3h0.9M436.2 55.9h0.9M434.3 54.8h0.9M438.7 58.1h0.9M437.3 63.0h0.9M436.6 49.6h0.9M432.9 51.3h0.9M427.3 59.6h0.9M430.9 50.1h0.9M431.5 64.8h0.9M435.3 65.6h0.9M436.4 55.9h0.9M439.7 62.9h0.9M437.4 51.8h0.9M434.5 50.8h0.9M435.5 59.5h0.9M444.2 68.4h0.9M440.2 65.3h0.9M438.7 61.6h0.9M442.1 60.1h0.9M438.4 52.1h0.9M441.5 59.7h0.9M440.9 57.3h0.9M427.9 62.2h0.9M442.6 50.1h0.9M432.0 56.8h0.9M435.6 47.3h0.9M445.6 65.7h0.9M433.7 46.5h0.9M438.6 72.3h0.9M440.9 66.7h0.9M432.1 60.4h0.9M429.3 72.3h0.9M439.6 44.5h0.9M427.6 62.1h0.9M437.5 56.7h0.9M439.9 72.4h0.9M438.6 46.5h0.9M436.0 49.9h0.9M432.8 61.0h0.9M435.9 51.5h0.9M436.6 53.2h0.9M439.4 57.1h0.9M438.7 56.9h0.9M440.5 57.8h0.9M436.7 54.9h0.9M437.5 46.7h0.9M450.1 54.1h0.9M437.2 55.5h0.9M434.3 61.5h0.9M434.2 55.8h0.9M429.9 52.4h0.9M430.9 71.0h0.9M430.1 51.4h0.9M437.7 68.4h0.9M428.3 48.2h0.9M437.4 61.0h0.9M429.7 46.5h0.9M431.9 63.8h0.9M436.5 63.8h0.9M436.2 58.5h0.9M439.8 57.9h0.9M437.9 52.5h0.9M433.7 61.9h0.9M435.5 53.6h0.9M440.0 62.4h0.9M436.7 53.5h0.9M432.6 48.2h0.9M432.8 52.3h0.9M430.4 50.6h0.9M440.9 64.5h0.9M444.1 63.7h0.9M434.3 66.0h0.9M433.6 56.3h0.9M430.8 67.0h0.9M441.7 55.5h0.9M435.1 58.9h0.9M437.7 64.4h0.9M437.0 61.3h0.9M429.2 56.6h0.9M427.7 70.7h0.9M443.6 63.5h0.9M442.2 72.2h0.9M441.4 47.8h0.9M435.6 42.6h0.9M432.6 50.1h0.9M436.6 61.2h0.9M432.0 56.7h0.9M438.0 57.5h0.9M435.7 42.2h0.9M434.4 64.0h0.9M437.9 48.5h0.9M435.3 60.4h0.9M431.8 63.1h0.9M432.6 56.3h0.9M436.1 73.7h0.9M435.0 54.7h0.9M440.2 55.4h0.9M437.6 43.2h0.9M438.1 58.4h0.9M430.2 67.8h0.9M435.4 57.2h0.9M430.0 47.5h0.9M433.8 48.2h0.9M439.1 64.5h0.9M433.4 47.6h0.9M434.6 51.3h0.9M437.4 59.8h0.9M434.5 59.0h0.9M441.8 70.1h0.9M434.0 63.4h0.9M435.4 51.3h0.9M443.0 61.2h0.9M437.3 60.9h0.9M435.8 51.4h0.9M445.5 64.6h0.9M437.9 65.1h0.9M443.0 57.2h0.9M439.5 56.3h0.9M439.8 56.8h0.9M448.8 56.1h0.9M439.2 61.7h0.9M434.9 64.9h0.9M436.2 55.7h0.9M436.6 53.4h0.9M442.6 62.8h0.9M441.5 49.3h0.9M437.9 53.3h0.9M437.0 67.2h0.9M437.9 57.3h0.9M442.2 65.4h0.9M445.8 45.9h0.9M438.2 55.7h0.9M432.2 59.3h0.9M430.8 43.3h0.9M432.1 56.7h0.9M445.9 53.6h0.9M430.8 45.1h0.9M434.8 56.9h0.9M437.3 48.7h0.9M432.8 43.1h0.9M437.4 47.8h0.9M439.1 60.9h0.9M438.3 51.5h0.9M442.0 51.4h0.9M446.2 60.1h0.9M427.4 64.4h0.9M446.5 56.8h0.9M441.9 57.1h0.9M433.5 41.0h0.9M442.8 55.5h0.9M438.5 50.8h0.9M432.1 66.1h0.9M434.7 55.8h0.9M430.3 60.0h0.9M440.5 55.4h0.9M435.7 50.2h0.9M443.6 54.3h0.9M435.8 70.0h0.9M435.5 48.0h0.9M432.0 56.1h0.9M445.5 60.1h0.9M435.5 64.2h0.9M443.2 53.4h0.9M443.8 64.4h0.9M438.9 42.4h0.9M437.6 68.1h0.9M435.3 74.4h0.9M437.0 51.6h0.9M439.6 60.6h0.9M440.8 57.1h0.9M443.2 54.8h0.9M437.3 50.1h0.9M432.6 60.0h0.9M433.4 55.5h0.9M435.6 60.4h0.9M440.5 63.9h0.9M441.8 60.0h0.9M433.9 47.8h0.9M434.9 53.2h0.9M427.5 70.0h0.9M427.4 61.1h0.9M439.5 57.0h0.9M449.8 58.8h0.9M432.8 70.8h0.9M432.6 48.8h0.9M431.6 54.2h0.9M436.9 61.0h0.9M429.0 61.1h0.9M448.0 53.7h0.9M436.0 63.4h0.9M442.8 54.0h0.9M431.8 51.7h0.9M442.2 64.9h0.9M430.4 48.3h0.9M438.8 60.2h0.9M446.6 64.1h0.9M437.3 66.8h0.9M432.2 49.0h0.9M436.9 65.1h0.9M428.5 64.8h0.9M441.1 55.2h0.9M437.5 56.8h0.9M437.1 64.2h0.9M432.6 65.8h0.9M441.1 64.9h0.9M440.2 54.6h0.9M433.2 53.4h0.9M429.9 56.7h0.9M433.0 54.1h0.9M439.1 50.5h0.9M442.4 43.3h0.9M449.4 49.2h0.9M439.6 65.0h0.9M436.7 63.8h0.9M436.1 46.5h0.9M438.4 66.6h0.9M433.9 46.9h0.9M433.6 60.9h0.9M438.2 66.3h0.9M439.5 62.2h0.9M436.9 64.6h0.9M434.9 57.6h0.9M437.0 69.6h0.9M444.4 62.9h0.9M446.8 55.9h0.9M439.3 55.5h0.9M443.3 58.9h0.9M441.7 70.6h0.9M438.3 56.5h0.9M435.9 71.4h0.9M435.1 66.2h0.9M442.7 73.0h0.9M435.5 64.0h0.9M429.0 51.0h0.9M435.3 58.6h0.9M430.5 55.9h0.9M440.3 55.6h0.9M436.0 52.5h0.9M443.8 71.1h0.9M437.8 57.9h0.9M445.3 62.1h0.9M433.3 49.4h0.9M433.7 74.0h0.9M436.8 57.3h0.9M443.6 57.1h0.9M438.7 51.5h0.9M430.4 53.6h0.9M437.9 54.1h0.9M435.9 56.8h0.9M433.6 43.1h0.9M444.9 55.4h0.9M439.5 68.5h0.9M442.6 60.2h0.9M436.8 60.9h0.9M441.4 62.8h0.9M434.5 61.9h0.9M438.7 63.6h0.9M437.8 68.3h0.9M437.8 65.0h0.9M437.0 54.8h0.9M431.9 57.7h0.9M439.5 67.6h0.9M436.3 55.2h0.9M434.2 67.8h0.9M437.3 55.3h0.9M440.6 49.6h0.9M437.4 58.5h0.9M436.1 50.7h0.9M441.8 70.5h0.9M430.0 59.6h0.9M440.1 74.5h0.9M434.7 52.2h0.9M436.8 72.8h0.9M437.2 60.6h0.9M445.9 43.9h0.9M440.8 49.1h0.9M439.5 59.1h0.9M437.9 53.2h0.9M434.5 52.7h0.9M437.1 57.2h0.9M445.4 63.2h0.9M428.7 61.7h0.9M444.1 60.8h0.9M442.4 58.6h0.9M440.4 52.3h0.9M440.8 49.2h0.9M443.4 48.2h0.9M435.9 59.6h0.9M439.0 58.6h0.9M432.3 60.3h0.9M438.6 62.2h0.9M447.0 53.7h0.9M437.1 62.7h0.9M434.5 50.4h0.9M433.9 66.2h0.9M435.4 63.1h0.9M433.0 61.9h0.9M433.3 52.9h0.9M437.4 59.2h0.9M444.4 47.5h0.9M439.4 70.0h0.9M443.8 56.1h0.9M433.3 55.3h0.9M438.3 60.1h0.9M438.6 63.0h0.9M431.3 50.9h0.9M430.5 49.4h0.9M436.3 61.0h0.9M449.8 62.5h0.9M436.9 68.7h0.9M433.0 61.2h0.9M441.8 64.3h0.9M438.9 56.4h0.9M430.4 57.7h0.9M433.7 63.6h0.9M436.1 62.7h0.9M428.5 65.6h0.9M432.4 47.9h0.9M429.7 54.4h0.9M442.6 63.8h0.9M430.8 59.4h0.9M436.3 47.9h0.9M431.7 44.6h0.9M432.3 40.3h0.9M432.7 52.3h0.9M432.7 53.1h0.9M442.7 56.4h0.9M438.0 64.1h0.9M441.4 63.5h0.9M434.0 51.2h0.9M432.8 55.5h0.9M436.8 58.2h0.9M442.4 58.1h0.9M446.0 66.0h0.9M434.3 64.8h0.9M438.9 61.6h0.9M435.5 57.8h0.9M442.6 57.4h0.9M432.4 63.4h0.9M431.6 64.0h0.9M437.5 66.6h0.9M430.6 67.5h0.9M438.3 72.5h0.9M433.5 71.7h0.9M440.4 64.3h0.9M433.1 62.7h0.9M440.2 53.0h0.9M430.9 53.4h0.9M444.3 59.9h0.9M441.6 60.8h0.9M437.4 60.3h0.9M434.7 67.3h0.9M437.7 60.4h0.9M429.7 60.9h0.9M433.3 55.3h0.9M442.1 51.2h0.9M435.8 63.2h0.9M442.7 55.2h0.9M438.4 60.8h0.9M431.0 43.9h0.9M437.3 49.5h0.9M433.5 56.0h0.9M435.0 58.6h0.9M448.1 53.4h0.9M437.5 53.4h0.9M433.6 52.7h0.9M435.6 55.0h0.9M438.6 60.3h0.9M432.2 72.1h0.9M430.8 61.3h0.9M447.9 53.8h0.9M443.6 68.7h0.9M438.5 46.0h0.9M444.1 59.4h0.9M434.0 67.7h0.9M433.1 66.2h0.9M434.0 62.5h0.9M431.3 56.0h0.9M432.1 53.8h0.9M437.7 57.6h0.9M437.8 67.7h0.9M436.2 45.9h0.9M435.3 59.4h0.9M442.0 66.0h0.9M441.6 57.2h0.9M440.1 48.8h0.9M443.4 61.8h0.9M439.4 56.2h0.9M437.1 54.1h0.9M439.7 49.6h0.9M441.8 62.6h0.9M447.1 58.5h0.9M436.3 60.1h0.9M437.0 58.1h0.9M431.2 51.1h0.9M433.9 56.8h0.9M430.7 50.7h0.9M435.3 63.9h0.9M435.8 63.5h0.9M441.8 64.1h0.9M434.6 56.0h0.9M439.2 51.2h0.9M443.7 68.8h0.9M434.9 65.2h0.9M429.6 51.5h0.9M434.9 58.9h0.9M435.9 52.8h0.9M446.8 60.8h0.9M438.3 63.5h0.9M437.7 57.2h0.9M434.0 47.4h0.9M444.4 52.4h0.9M428.3 53.2h0.9M428.6 72.6h0.9M438.7 68.6h0.9M444.2 62.7h0.9M439.7 53.8h0.9M436.4 54.6h0.9M437.0 53.9h0.9M443.3 64.1h0.9M436.3 47.2h0.9M440.3 64.9h0.9M436.5 50.0h0.9M439.0 66.1h0.9M427.5 59.3h0.9M445.7 59.4h0.9M439.2 56.6h0.9M436.8 75.1h0.9M443.6 56.6h0.9M434.9 58.9h0.9M448.0 60.2h0.9M442.5 56.3h0.9M430.3 68.0h0.9M436.4 53.4h0.9M433.3 54.1h0.9M433.7 48.1h0.9M442.9 61.4h0.9M441.8 56.4h0.9M438.6 60.0h0.9M442.8 64.4h0.9M438.6 54.3h0.9M430.7 53.3h0.9M433.6 55.1h0.9M430.5 70.3h0.9M438.2 44.8h0.9M431.2 49.5h0.9M438.0 66.2h0.9M431.8 63.1h0.9M435.4 66.7h0.9M443.7 60.9h0.9M440.4 58.8h0.9M434.9 50.8h0.9M438.5 58.3h0.9M434.9 58.3h0.9M435.9 51.6h0.9M434.1 66.7h0.9M435.6 68.4h0.9M430.9 49.5h0.9M437.4 64.2h0.9M433.5 63.1h0.9M441.5 66.2h0.9M436.2 58.4h0.9M428.4 59.0h0.9M438.2 68.5h0.9M430.4 53.0h0.9M431.7 65.0h0.9M447.2 63.3h0.9M430.1 58.4h0.9M441.1 62.6h0.9M435.7 53.3h0.9M441.0 58.8h0.9M440.9 61.5h0.9M434.4 68.7h0.9M434.3 61.8h0.9M433.6 57.2h0.9M435.5 54.3h0.9M438.0 67.8h0.9M446.2 68.7h0.9M435.9 68.8h0.9M438.9 71.1h0.9M430.4 69.0h0.9M433.8 66.7h0.9M434.4 65.1h0.9M435.4 45.9h0.9M431.9 57.1h0.9M436.9 43.4h0.9M430.8 53.8h0.9M435.7 60.3h0.9M432.7 48.4h0.9M438.3 56.5h0.9M441.3 55.2h0.9M440.1 52.7h0.9M438.2 59.4h0.9M439.1 52.4h0.9M436.2 53.0h0.9M436.0 63.1h0.9M451.8 59.0h0.9M440.4 59.6h0.9M442.5 62.0h0.9M442.1 61.2h0.9M448.9 68.2h0.9M428.2 60.9h0.9M437.2 43.7h0.9M432.5 55.7h0.9M433.1 59.7h0.9M427.8 63.9h0.9M440.7 61.2h0.9M435.2 58.9h0.9M434.5 66.7h0.9M439.4 72.5h0.9M435.0 68.7h0.9M433.9 57.7h0.9M431.6 62.4h0.9M436.5 63.1h0.9M444.3 58.5h0.9M438.7 65.0h0.9M436.5 55.1h0.9M438.6 62.3h0.9M440.7 64.5h0.9M433.5 61.9h0.9M443.0 55.7h0.9M438.7 54.6h0.9M437.7 70.7h0.9M437.7 52.3h0.9M438.6 60.3h0.9M442.4 49.5h0.9M432.2 58.3h0.9M429.0 66.6h0.9M429.4 54.4h0.9M440.9 63.0h0.9M441.5 63.0h0.9M427.6 55.4h0.9M434.9 55.1h0.9M439.3 53.3h0.9M445.5 62.9h0.9M442.8 64.0h0.9M441.3 58.6h0.9M446.7 51.7h0.9M439.2 58.9h0.9M435.7 61.0h0.9M433.1 64.8h0.9M440.8 59.5h0.9M440.5 51.8h0.9M427.8 54.9h0.9M435.7 65.9h0.9M441.1 73.2h0.9M437.4 63.3h0.9M435.9 53.0h0.9M431.8 53.5h0.9M444.0 60.8h0.9M436.1 59.0h0.9M434.0 58.6h0.9M436.6 63.3h0.9M441.4 47.7h0.9M438.0 68.2h0.9M431.7 57.2h0.9M437.7 66.4h0.9M439.8 57.4h0.9M439.4 65.9h0.9M438.8 71.5h0.9M439.0 51.7h0.9M432.9 58.0h0.9M435.8 63.1h0.9M438.6 70.6h0.9M440.9 69.0h0.9M433.0 56.0h0.9M440.3 59.5h0.9M440.0 60.6h0.9M433.8 70.5h0.9M442.6 48.3h0.9M433.8 59.1h0.9M440.3 58.4h0.9M430.1 64.6h0.9M435.8 67.1h0.9M438.4 65.7h0.9M441.1 64.9h0.9M434.3 65.9h0.9M437.9 50.4h0.9M434.9 56.6h0.9M439.2 63.6h0.9M431.3 63.9h0.9M436.6 51.8h0.9M441.1 53.8h0.9M430.9 64.1h0.9M441.4 54.5h0.9M442.2 65.8h0.9M434.3 72.5h0.9M436.6 60.5h0.9M433.8 62.0h0.9M428.4 66.8h0.9M444.2 71.8h0.9M438.7 38.5h0.9M433.3 58.4h0.9M444.1 53.4h0.9M438.0 58.6h0.9M438.8 56.3h0.9M441.4 65.6h0.9M430.2 66.7h0.9M433.3 57.2h0.9M442.6 59.7h0.9M439.9 64.4h0.9M440.0 55.4h0.9M432.3 63.7h0.9M440.8 61.5h0.9M436.1 64.9h0.9M436.9 49.8h0.9M438.4 62.5h0.9M440.9 53.1h0.9M433.3 61.4h0.9M434.8 58.7h0.9M441.7 61.8h0.9M446.2 61.1h0.9M445.6 66.4h0.9M449.8 59.3h0.9M436.7 68.1h0.9M434.6 56.1h0.9M438.4 61.8h0.9M430.2 61.0h0.9M435.6 59.1h0.9M438.1 58.0h0.9M442.5 62.7h0.9M436.3 59.9h0.9M442.4 64.7h0.9M443.5 58.5h0.9M437.9 73.0h0.9M437.1 70.8h0.9M441.5 56.6h0.9M430.3 63.8h0.9M433.8 54.7h0.9M428.7 67.5h0.9M437.8 59.7h0.9M439.3 61.1h0.9M437.8 63.0h0.9M435.9 42.1h0.9M441.0 62.4h0.9M437.4 70.2h0.9M430.4 40.0h0.9M444.7 62.3h0.9M429.2 56.8h0.9M440.4 51.3h0.9M440.1 73.8h0.9M444.2 59.3h0.9M438.9 53.1h0.9M438.0 57.3h0.9M432.4 50.4h0.9M446.9 60.1h0.9M432.2 56.7h0.9M444.7 70.5h0.9M434.3 60.8h0.9M441.7 57.2h0.9M431.5 52.9h0.9M437.4 54.3h0.9M430.9 57.9h0.9M441.9 64.1h0.9M436.2 72.4h0.9M433.4 59.0h0.9M430.5 64.7h0.9M436.7 48.1h0.9" stroke="#1cb81c" stroke-width="0.9" fill="none" opacity="1"/>
<rect x="428.1" y="45.3" width="17.5" height="27.5" rx="6.5" fill="#1fba1f"/>
<ellipse cx="433.7" cy="63.5" rx="1.0" ry="1.2" fill="#c8f5c8"/>
<path d="M432.5 73.9h0.65M441.7 60.5h0.65M442.6 46.9h0.65M432.5 49.1h0.65M432.5 56.6h0.65M440.5 67.6h0.65M434.4 59.4h0.65M440.4 53.0h0.65M435.7 62.8h0.65M432.1 63.3h0.65M444.7 50.7h0.65M431.2 60.9h0.65M434.7 61.9h0.65M444.1 66.0h0.65M435.2 50.2h0.65M432.6 60.2h0.65M433.3 54.7h0.65M427.7 46.3h0.65M431.8 63.5h0.65M438.5 65.2h0.65M444.2 52.9h0.65M431.2 55.6h0.65M432.4 64.3h0.65M436.3 59.0h0.65M439.4 55.2h0.65M443.5 44.3h0.65M438.3 62.9h0.65M432.3 53.4h0.65M442.2 56.3h0.65M442.8 51.8h0.65M444.6 69.7h0.65M435.6 63.1h0.65M431.9 55.6h0.65M432.6 63.5h0.65M429.1 57.7h0.65M437.1 62.9h0.65M431.5 57.0h0.65M437.6 60.3h0.65M448.8 64.0h0.65M440.3 54.9h0.65M441.4 64.2h0.65M440.7 57.8h0.65M440.5 70.8h0.65M432.0 41.5h0.65M441.6 64.5h0.65M435.3 55.2h0.65M453.2 55.0h0.65M429.5 54.9h0.65M439.7 53.8h0.65M434.4 61.1h0.65M434.2 59.7h0.65M436.5 50.2h0.65M437.1 49.4h0.65M442.3 51.3h0.65M435.3 44.2h0.65M434.0 48.7h0.65M445.6 57.7h0.65M439.8 44.8h0.65M429.3 57.3h0.65M428.6 67.7h0.65M434.3 59.8h0.65M438.5 57.4h0.65M441.3 53.3h0.65M438.8 68.1h0.65M437.9 59.6h0.65M434.7 59.1h0.65M440.7 56.7h0.65M435.8 62.3h0.65M436.9 71.0h0.65M429.5 50.9h0.65M440.5 50.5h0.65M438.6 58.5h0.65M444.7 60.2h0.65M428.4 64.8h0.65M430.5 57.6h0.65M439.1 52.4h0.65M436.4 51.9h0.65M432.0 64.4h0.65M436.1 54.9h0.65M433.1 59.9h0.65M437.2 57.2h0.65M428.4 55.6h0.65M432.9 59.1h0.65M443.4 66.0h0.65M440.4 59.4h0.65M434.7 61.2h0.65M433.8 55.9h0.65M431.7 58.1h0.65M436.1 72.9h0.65M439.8 55.6h0.65M441.1 54.8h0.65M442.5 64.6h0.65M453.5 50.1h0.65M436.2 57.6h0.65M438.3 64.1h0.65M430.9 52.9h0.65M438.4 66.0h0.65M430.1 46.5h0.65M443.3 65.1h0.65M442.9 51.0h0.65M435.4 60.3h0.65M439.2 57.6h0.65M436.3 66.4h0.65M434.1 54.3h0.65M434.1 54.6h0.65M437.4 56.9h0.65M434.1 69.5h0.65M438.3 55.9h0.65M443.9 54.3h0.65M436.6 57.8h0.65M433.3 55.6h0.65M437.1 47.5h0.65M434.3 60.4h0.65M438.2 60.8h0.65M450.1 63.6h0.65M435.8 57.6h0.65M436.6 61.9h0.65M434.9 70.1h0.65M430.3 63.4h0.65M439.5 49.8h0.65M440.2 62.8h0.65M440.7 56.0h0.65M433.9 52.8h0.65M438.1 59.0h0.65M428.5 50.6h0.65M432.5 55.4h0.65M434.5 53.4h0.65M440.2 65.7h0.65M437.0 41.8h0.65M435.7 62.8h0.65M436.1 60.6h0.65M437.2 47.1h0.65M433.6 61.7h0.65M434.8 57.2h0.65M444.4 49.4h0.65M436.5 50.2h0.65M437.0 62.1h0.65M440.3 59.6h0.65M428.7 60.3h0.65M441.7 66.0h0.65M448.8 62.8h0.65M430.8 54.5h0.65M437.1 66.4h0.65M430.1 65.4h0.65M440.3 51.9h0.65M440.0 52.7h0.65M436.5 56.2h0.65M437.9 49.5h0.65M439.6 42.0h0.65M434.3 54.2h0.65M445.5 62.6h0.65M433.8 51.7h0.65M436.8 53.7h0.65M449.3 37.4h0.65M436.9 39.8h0.65M442.5 52.4h0.65M445.7 54.4h0.65M442.7 60.0h0.65M443.3 58.7h0.65M427.7 65.7h0.65M439.6 58.5h0.65M439.2 60.0h0.65M433.3 73.3h0.65M437.9 57.0h0.65M428.2 53.8h0.65M436.6 57.1h0.65M433.9 58.1h0.65M430.2 58.6h0.65M427.8 52.0h0.65M432.4 65.1h0.65M439.4 59.1h0.65M430.0 55.5h0.65M441.1 68.0h0.65M428.2 55.2h0.65M437.2 61.2h0.65M436.6 63.6h0.65M428.3 70.3h0.65M430.1 59.0h0.65M439.6 67.4h0.65M441.8 65.2h0.65M443.9 57.4h0.65M440.9 70.3h0.65M432.3 47.9h0.65M430.9 69.3h0.65M443.7 55.9h0.65M438.0 62.2h0.65M442.6 44.2h0.65M433.5 56.6h0.65M438.5 59.2h0.65M434.8 60.8h0.65M441.4 65.4h0.65M432.9 61.8h0.65M448.4 72.5h0.65M437.1 49.2h0.65M437.6 56.4h0.65M441.6 48.9h0.65M435.6 60.7h0.65M434.0 66.7h0.65M430.2 49.2h0.65M434.7 65.0h0.65M435.0 54.1h0.65M441.3 60.4h0.65M433.7 59.6h0.65M435.3 63.3h0.65M437.5 52.5h0.65M434.0 55.5h0.65M438.8 61.5h0.65M431.9 57.2h0.65M438.5 67.1h0.65M438.1 73.6h0.65M436.8 64.3h0.65M434.8 51.0h0.65M437.3 62.4h0.65M438.6 59.8h0.65M434.8 52.4h0.65M435.0 62.2h0.65M442.2 33.5h0.65M440.2 66.9h0.65M443.9 61.6h0.65M440.5 55.2h0.65M436.2 62.7h0.65M430.4 52.6h0.65M437.8 48.4h0.65M437.0 47.3h0.65M437.8 58.9h0.65M433.5 51.4h0.65M433.8 41.5h0.65M434.4 59.6h0.65M443.6 54.7h0.65M435.7 69.3h0.65M446.7 54.9h0.65M442.7 67.7h0.65M439.7 51.1h0.65M431.3 63.1h0.65M450.1 57.3h0.65M445.7 73.2h0.65M429.5 54.1h0.65M445.4 66.1h0.65M439.8 58.6h0.65M440.3 53.8h0.65M451.1 49.8h0.65M445.0 54.9h0.65M436.4 50.8h0.65M436.3 50.8h0.65M430.9 47.3h0.65" stroke="#8fe08f" stroke-width="0.65" fill="none" opacity="1"/>
<rect x="363.6" y="31.8" width="30.0" height="44.6" fill="none" stroke="#222" stroke-width="0.9"/>
<rect x="393.6" y="31.8" width="32.9" height="44.6" fill="none" stroke="#222" stroke-width="0.9"/>
<text x="376.9" y="86.0" font-family="'Liberation Sans', sans-serif" font-size="7.8" font-weight="normal" font-style="normal" text-anchor="middle" fill="#444" textLength="15.2" lengthAdjust="spacingAndGlyphs" >85.4</text>
<text x="409.4" y="86.0" font-family="'Liberation Sans', sans-serif" font-size="7.8" font-weight="normal" font-style="normal" text-anchor="middle" fill="#444" textLength="14.8" lengthAdjust="spacingAndGlyphs" >10.3</text>
<line x1="359.1" y1="38.5" x2="363.6" y2="38.5" stroke="#111" stroke-width="1.0" stroke-linecap="butt"/>
<line x1="361.1" y1="58.1" x2="363.6" y2="58.1" stroke="#222" stroke-width="0.7" stroke-linecap="butt"/>
<line x1="361.1" y1="53.1" x2="363.6" y2="53.1" stroke="#222" stroke-width="0.7" stroke-linecap="butt"/>
<line x1="361.1" y1="49.6" x2="363.6" y2="49.6" stroke="#222" stroke-width="0.7" stroke-linecap="butt"/>
<line x1="361.1" y1="46.9" x2="363.6" y2="46.9" stroke="#222" stroke-width="0.7" stroke-linecap="butt"/>
<line x1="361.1" y1="44.7" x2="363.6" y2="44.7" stroke="#222" stroke-width="0.7" stroke-linecap="butt"/>
<line x1="361.1" y1="42.8" x2="363.6" y2="42.8" stroke="#222" stroke-width="0.7" stroke-linecap="butt"/>
<line x1="361.1" y1="41.2" x2="363.6" y2="41.2" stroke="#222" stroke-width="0.7" stroke-linecap="butt"/>
<line x1="361.1" y1="39.8" x2="363.6" y2="39.8" stroke="#222" stroke-width="0.7" stroke-linecap="butt"/>
<g transform="translate(357.4,42.3) rotate(-90)">
<text x="0.0" y="0.0" font-family="'Liberation Sans', sans-serif" font-size="6" font-weight="normal" font-style="normal" text-anchor="start" fill="#111" >10</text>
<text x="6.6" y="-2.6" font-family="'Liberation Sans', sans-serif" font-size="4" font-weight="normal" font-style="normal" text-anchor="start" fill="#111" >5</text>
</g>
<line x1="359.1" y1="67.6" x2="363.6" y2="67.6" stroke="#111" stroke-width="1.0" stroke-linecap="butt"/>
<line x1="361.1" y1="87.2" x2="363.6" y2="87.2" stroke="#222" stroke-width="0.7" stroke-linecap="butt"/>
<line x1="361.1" y1="82.2" x2="363.6" y2="82.2" stroke="#222" stroke-width="0.7" stroke-linecap="butt"/>
<line x1="361.1" y1="78.7" x2="363.6" y2="78.7" stroke="#222" stroke-width="0.7" stroke-linecap="butt"/>
<line x1="361.1" y1="76.0" x2="363.6" y2="76.0" stroke="#222" stroke-width="0.7" stroke-linecap="butt"/>
<line x1="361.1" y1="73.8" x2="363.6" y2="73.8" stroke="#222" stroke-width="0.7" stroke-linecap="butt"/>
<line x1="361.1" y1="71.9" x2="363.6" y2="71.9" stroke="#222" stroke-width="0.7" stroke-linecap="butt"/>
<line x1="361.1" y1="70.3" x2="363.6" y2="70.3" stroke="#222" stroke-width="0.7" stroke-linecap="butt"/>
<line x1="361.1" y1="68.9" x2="363.6" y2="68.9" stroke="#222" stroke-width="0.7" stroke-linecap="butt"/>
<g transform="translate(357.4,71.4) rotate(-90)">
<text x="0.0" y="0.0" font-family="'Liberation Sans', sans-serif" font-size="6" font-weight="normal" font-style="normal" text-anchor="start" fill="#111" >10</text>
<text x="6.6" y="-2.6" font-family="'Liberation Sans', sans-serif" font-size="4" font-weight="normal" font-style="normal" text-anchor="start" fill="#111" >4</text>
</g>
<line x1="359.1" y1="96.7" x2="363.6" y2="96.7" stroke="#111" stroke-width="1.0" stroke-linecap="butt"/>
<line x1="361.1" y1="116.3" x2="363.6" y2="116.3" stroke="#222" stroke-width="0.7" stroke-linecap="butt"/>
<line x1="361.1" y1="111.3" x2="363.6" y2="111.3" stroke="#222" stroke-width="0.7" stroke-linecap="butt"/>
<line x1="361.1" y1="107.8" x2="363.6" y2="107.8" stroke="#222" stroke-width="0.7" stroke-linecap="butt"/>
<line x1="361.1" y1="105.1" x2="363.6" y2="105.1" stroke="#222" stroke-width="0.7" stroke-linecap="butt"/>
<line x1="361.1" y1="102.9" x2="363.6" y2="102.9" stroke="#222" stroke-width="0.7" stroke-linecap="butt"/>
<line x1="361.1" y1="101.0" x2="363.6" y2="101.0" stroke="#222" stroke-width="0.7" stroke-linecap="butt"/>
<line x1="361.1" y1="99.4" x2="363.6" y2="99.4" stroke="#222" stroke-width="0.7" stroke-linecap="butt"/>
<line x1="361.1" y1="98.0" x2="363.6" y2="98.0" stroke="#222" stroke-width="0.7" stroke-linecap="butt"/>
<g transform="translate(357.4,100.5) rotate(-90)">
<text x="0.0" y="0.0" font-family="'Liberation Sans', sans-serif" font-size="6" font-weight="normal" font-style="normal" text-anchor="start" fill="#111" >10</text>
<text x="6.6" y="-2.6" font-family="'Liberation Sans', sans-serif" font-size="4" font-weight="normal" font-style="normal" text-anchor="start" fill="#111" >3</text>
</g>
<line x1="359.1" y1="123.3" x2="363.6" y2="123.3" stroke="#111" stroke-width="1.0" stroke-linecap="butt"/>
<line x1="361.1" y1="137.9" x2="363.6" y2="137.9" stroke="#222" stroke-width="0.7" stroke-linecap="butt"/>
<line x1="361.1" y1="134.4" x2="363.6" y2="134.4" stroke="#222" stroke-width="0.7" stroke-linecap="butt"/>
<line x1="361.1" y1="131.7" x2="363.6" y2="131.7" stroke="#222" stroke-width="0.7" stroke-linecap="butt"/>
<line x1="361.1" y1="129.5" x2="363.6" y2="129.5" stroke="#222" stroke-width="0.7" stroke-linecap="butt"/>
<line x1="361.1" y1="127.6" x2="363.6" y2="127.6" stroke="#222" stroke-width="0.7" stroke-linecap="butt"/>
<line x1="361.1" y1="126.0" x2="363.6" y2="126.0" stroke="#222" stroke-width="0.7" stroke-linecap="butt"/>
<line x1="361.1" y1="124.6" x2="363.6" y2="124.6" stroke="#222" stroke-width="0.7" stroke-linecap="butt"/>
<g transform="translate(357.4,127.1) rotate(-90)">
<text x="0.0" y="0.0" font-family="'Liberation Sans', sans-serif" font-size="6" font-weight="normal" font-style="normal" text-anchor="start" fill="#111" >10</text>
<text x="6.6" y="-2.6" font-family="'Liberation Sans', sans-serif" font-size="4" font-weight="normal" font-style="normal" text-anchor="start" fill="#111" >2</text>
</g>
<line x1="379.0" y1="139.6" x2="379.0" y2="144.1" stroke="#111" stroke-width="1.0" stroke-linecap="butt"/>
<line x1="365.4" y1="139.6" x2="365.4" y2="142.1" stroke="#222" stroke-width="0.7" stroke-linecap="butt"/>
<line x1="368.7" y1="139.6" x2="368.7" y2="142.1" stroke="#222" stroke-width="0.7" stroke-linecap="butt"/>
<line x1="371.2" y1="139.6" x2="371.2" y2="142.1" stroke="#222" stroke-width="0.7" stroke-linecap="butt"/>
<line x1="373.2" y1="139.6" x2="373.2" y2="142.1" stroke="#222" stroke-width="0.7" stroke-linecap="butt"/>
<line x1="375.0" y1="139.6" x2="375.0" y2="142.1" stroke="#222" stroke-width="0.7" stroke-linecap="butt"/>
<line x1="376.5" y1="139.6" x2="376.5" y2="142.1" stroke="#222" stroke-width="0.7" stroke-linecap="butt"/>
<line x1="377.8" y1="139.6" x2="377.8" y2="142.1" stroke="#222" stroke-width="0.7" stroke-linecap="butt"/>
<text x="374.7" y="151.4" font-family="'Liberation Sans', sans-serif" font-size="6" font-weight="normal" font-style="normal" text-anchor="start" fill="#111" >10</text>
<text x="381.4" y="148.8" font-family="'Liberation Sans', sans-serif" font-size="4" font-weight="normal" font-style="normal" text-anchor="start" fill="#111" >2</text>
<line x1="405.0" y1="139.6" x2="405.0" y2="144.1" stroke="#111" stroke-width="1.0" stroke-linecap="butt"/>
<line x1="386.8" y1="139.6" x2="386.8" y2="142.1" stroke="#222" stroke-width="0.7" stroke-linecap="butt"/>
<line x1="391.4" y1="139.6" x2="391.4" y2="142.1" stroke="#222" stroke-width="0.7" stroke-linecap="butt"/>
<line x1="394.7" y1="139.6" x2="394.7" y2="142.1" stroke="#222" stroke-width="0.7" stroke-linecap="butt"/>
<line x1="397.2" y1="139.6" x2="397.2" y2="142.1" stroke="#222" stroke-width="0.7" stroke-linecap="butt"/>
<line x1="399.2" y1="139.6" x2="399.2" y2="142.1" stroke="#222" stroke-width="0.7" stroke-linecap="butt"/>
<line x1="401.0" y1="139.6" x2="401.0" y2="142.1" stroke="#222" stroke-width="0.7" stroke-linecap="butt"/>
<line x1="402.5" y1="139.6" x2="402.5" y2="142.1" stroke="#222" stroke-width="0.7" stroke-linecap="butt"/>
<line x1="403.8" y1="139.6" x2="403.8" y2="142.1" stroke="#222" stroke-width="0.7" stroke-linecap="butt"/>
<text x="400.7" y="151.4" font-family="'Liberation Sans', sans-serif" font-size="6" font-weight="normal" font-style="normal" text-anchor="start" fill="#111" >10</text>
<text x="407.4" y="148.8" font-family="'Liberation Sans', sans-serif" font-size="4" font-weight="normal" font-style="normal" text-anchor="start" fill="#111" >3</text>
<line x1="431.0" y1="139.6" x2="431.0" y2="144.1" stroke="#111" stroke-width="1.0" stroke-linecap="butt"/>
<line x1="412.8" y1="139.6" x2="412.8" y2="142.1" stroke="#222" stroke-width="0.7" stroke-linecap="butt"/>
<line x1="417.4" y1="139.6" x2="417.4" y2="142.1" stroke="#222" stroke-width="0.7" stroke-linecap="butt"/>
<line x1="420.7" y1="139.6" x2="420.7" y2="142.1" stroke="#222" stroke-width="0.7" stroke-linecap="butt"/>
<line x1="423.2" y1="139.6" x2="423.2" y2="142.1" stroke="#222" stroke-width="0.7" stroke-linecap="butt"/>
<line x1="425.2" y1="139.6" x2="425.2" y2="142.1" stroke="#222" stroke-width="0.7" stroke-linecap="butt"/>
<line x1="427.0" y1="139.6" x2="427.0" y2="142.1" stroke="#222" stroke-width="0.7" stroke-linecap="butt"/>
<line x1="428.5" y1="139.6" x2="428.5" y2="142.1" stroke="#222" stroke-width="0.7" stroke-linecap="butt"/>
<line x1="429.8" y1="139.6" x2="429.8" y2="142.1" stroke="#222" stroke-width="0.7" stroke-linecap="butt"/>
<text x="426.7" y="151.4" font-family="'Liberation Sans', sans-serif" font-size="6" font-weight="normal" font-style="normal" text-anchor="start" fill="#111" >10</text>
<text x="433.4" y="148.8" font-family="'Liberation Sans', sans-serif" font-size="4" font-weight="normal" font-style="normal" text-anchor="start" fill="#111" >4</text>
<line x1="457.0" y1="139.6" x2="457.0" y2="144.1" stroke="#111" stroke-width="1.0" stroke-linecap="butt"/>
<line x1="438.8" y1="139.6" x2="438.8" y2="142.1" stroke="#222" stroke-width="0.7" stroke-linecap="butt"/>
<line x1="443.4" y1="139.6" x2="443.4" y2="142.1" stroke="#222" stroke-width="0.7" stroke-linecap="butt"/>
<line x1="446.7" y1="139.6" x2="446.7" y2="142.1" stroke="#222" stroke-width="0.7" stroke-linecap="butt"/>
<line x1="449.2" y1="139.6" x2="449.2" y2="142.1" stroke="#222" stroke-width="0.7" stroke-linecap="butt"/>
<line x1="451.2" y1="139.6" x2="451.2" y2="142.1" stroke="#222" stroke-width="0.7" stroke-linecap="butt"/>
<line x1="453.0" y1="139.6" x2="453.0" y2="142.1" stroke="#222" stroke-width="0.7" stroke-linecap="butt"/>
<line x1="454.5" y1="139.6" x2="454.5" y2="142.1" stroke="#222" stroke-width="0.7" stroke-linecap="butt"/>
<line x1="455.8" y1="139.6" x2="455.8" y2="142.1" stroke="#222" stroke-width="0.7" stroke-linecap="butt"/>
<text x="452.7" y="151.4" font-family="'Liberation Sans', sans-serif" font-size="6" font-weight="normal" font-style="normal" text-anchor="start" fill="#111" >10</text>
<text x="459.4" y="148.8" font-family="'Liberation Sans', sans-serif" font-size="4" font-weight="normal" font-style="normal" text-anchor="start" fill="#111" >5</text>
<line x1="464.8" y1="139.6" x2="464.8" y2="142.1" stroke="#222" stroke-width="0.7" stroke-linecap="butt"/>
<text x="202.3" y="132.5" font-family="'Liberation Serif', serif" font-size="12.5" font-weight="bold" font-style="normal" text-anchor="start" fill="#000" textLength="22.2" lengthAdjust="spacingAndGlyphs" >CD8</text>
<line x1="212.1" y1="141.0" x2="212.1" y2="160.7" stroke="#111" stroke-width="1" stroke-linecap="butt"/>
<line x1="211.6" y1="160.2" x2="238.5" y2="160.2" stroke="#111" stroke-width="1" stroke-linecap="butt"/>
<path d="M212.1 136.6L209.5 142.2L214.7 142.2Z" fill="#000"/>
<path d="M242.8 160.2L237.2 157.6L237.2 162.8Z" fill="#000"/>
<text x="243.8" y="163.8" font-family="'Liberation Serif', serif" font-size="12.5" font-weight="bold" font-style="normal" text-anchor="start" fill="#000" textLength="22.2" lengthAdjust="spacingAndGlyphs" >CD4</text>
<text x="8.0" y="178.8" font-family="'Liberation Sans', sans-serif" font-size="16.5" font-weight="bold" font-style="normal" text-anchor="start" fill="#000" >C</text>
<text x="103.7" y="183.0" font-family="'Liberation Serif', serif" font-size="15.8" font-weight="normal" font-style="normal" text-anchor="start" fill="#111" textLength="27.6" lengthAdjust="spacingAndGlyphs" >HIV</text>
<line x1="42.5" y1="186.5" x2="197.5" y2="186.5" stroke="#333" stroke-width="1" stroke-linecap="butt"/>
<text x="339.2" y="182.0" font-family="'Liberation Serif', serif" font-size="15.8" font-weight="normal" font-style="normal" text-anchor="start" fill="#111" textLength="38.2" lengthAdjust="spacingAndGlyphs" >CMV</text>
<line x1="280.4" y1="186.3" x2="436.5" y2="186.3" stroke="#333" stroke-width="1" stroke-linecap="butt"/>
<path d="M119.44 266.20L119.44 190.60A75.6 75.6 0 0 1 125.10 190.82Z" fill="#000000" stroke="#000" stroke-width="0.75" stroke-linejoin="round"/>
<path d="M120.20 266.31L125.86 190.93A75.6 75.6 0 0 1 151.55 197.52Z" fill="#8B0A0A" stroke="#4c0505" stroke-width="0.75" stroke-linejoin="round"/>
<path d="M121.62 267.05L152.97 198.25A75.6 75.6 0 0 1 184.07 224.44Z" fill="#FF0000" stroke="#8c0000" stroke-width="0.75" stroke-linejoin="round"/>
<path d="M122.36 267.90L184.81 225.30A75.6 75.6 0 0 1 188.22 230.79Z" fill="#F58231" stroke="#86471a" stroke-width="0.75" stroke-linejoin="round"/>
<path d="M122.71 268.64L188.57 231.53A75.6 75.6 0 0 1 197.54 257.86Z" fill="#FFA20F" stroke="#8c5908" stroke-width="0.75" stroke-linejoin="round"/>
<path d="M122.89 269.50L197.71 258.72A75.6 75.6 0 0 1 198.47 267.79Z" fill="#FFDCB0" stroke="#8c7960" stroke-width="0.75" stroke-linejoin="round"/>
<path d="M122.90 269.78L198.48 268.07A75.6 75.6 0 0 1 198.49 270.84Z" fill="#FFFF3C" stroke="#8c8c21" stroke-width="0.75" stroke-linejoin="round"/>
<path d="M122.83 270.52L198.42 271.58A75.6 75.6 0 0 1 192.72 299.33Z" fill="#9BCF0A" stroke="#557105" stroke-width="0.75" stroke-linejoin="round"/>
<path d="M122.60 271.24L192.50 300.04A75.6 75.6 0 0 1 191.34 302.71Z" fill="#80802A" stroke="#464617" stroke-width="0.75" stroke-linejoin="round"/>
<path d="M121.99 272.19L190.73 303.66A75.6 75.6 0 0 1 161.50 336.65Z" fill="#088A08" stroke="#044b04" stroke-width="0.75" stroke-linejoin="round"/>
<path d="M120.66 273.13L160.16 337.59A75.6 75.6 0 0 1 137.67 346.79Z" fill="#3A9C6C" stroke="#1f553b" stroke-width="0.75" stroke-linejoin="round"/>
<path d="M119.41 273.40L136.41 347.06A75.6 75.6 0 0 1 106.80 347.94Z" fill="#0DF20D" stroke="#078507" stroke-width="0.75" stroke-linejoin="round"/>
<path d="M118.47 273.30L105.86 347.84A75.6 75.6 0 0 1 96.37 345.60Z" fill="#CFFFCF" stroke="#718c71" stroke-width="0.75" stroke-linejoin="round"/>
<path d="M117.35 272.83L95.25 345.12A75.6 75.6 0 0 1 60.73 322.92Z" fill="#CFFFFF" stroke="#718c8c" stroke-width="0.75" stroke-linejoin="round"/>
<path d="M116.44 271.98L59.82 322.08A75.6 75.6 0 0 1 53.18 313.38Z" fill="#36CFCF" stroke="#1d7171" stroke-width="0.75" stroke-linejoin="round"/>
<path d="M116.10 271.45L52.84 312.85A75.6 75.6 0 0 1 45.76 299.16Z" fill="#0FC8FF" stroke="#086e8c" stroke-width="0.75" stroke-linejoin="round"/>
<path d="M115.74 270.34L45.40 298.05A75.6 75.6 0 0 1 40.35 264.67Z" fill="#00FFFF" stroke="#008c8c" stroke-width="0.75" stroke-linejoin="round"/>
<path d="M115.76 269.14L40.37 263.47A75.6 75.6 0 0 1 43.39 247.29Z" fill="#3264F0" stroke="#1b3784" stroke-width="0.75" stroke-linejoin="round"/>
<path d="M115.91 268.60L43.53 246.74A75.6 75.6 0 0 1 45.96 239.91Z" fill="#000080" stroke="#000046" stroke-width="0.75" stroke-linejoin="round"/>
<path d="M116.21 267.95L46.27 239.26A75.6 75.6 0 0 1 57.96 219.76Z" fill="#CC99FF" stroke="#70548c" stroke-width="0.75" stroke-linejoin="round"/>
<path d="M116.74 267.27L58.49 219.08A75.6 75.6 0 0 1 67.74 209.70Z" fill="#7070AA" stroke="#3d3d5d" stroke-width="0.75" stroke-linejoin="round"/>
<path d="M117.54 266.66L68.54 209.09A75.6 75.6 0 0 1 93.93 194.84Z" fill="#C8C8C8" stroke="#6e6e6e" stroke-width="0.75" stroke-linejoin="round"/>
<path d="M118.63 266.26L95.01 194.45A75.6 75.6 0 0 1 114.14 190.80Z" fill="#A0A0A0" stroke="#585858" stroke-width="0.75" stroke-linejoin="round"/>
<path d="M119.19 266.20L114.71 190.73A75.6 75.6 0 0 1 119.19 190.60Z" fill="#FFFFFF" stroke="#555" stroke-width="0.75" stroke-linejoin="round"/>
<line x1="119.54" y1="266.57" x2="125.30" y2="190.03" stroke="#fff" stroke-width="1.7"/>
<line x1="118.80" y1="264.51" x2="124.29" y2="191.47" stroke="#000" stroke-width="0.6"/>
<line x1="120.59" y1="264.64" x2="126.08" y2="191.61" stroke="#4c0505" stroke-width="0.6"/>
<line x1="120.64" y1="266.85" x2="152.48" y2="197.00" stroke="#fff" stroke-width="2.3"/>
<line x1="120.38" y1="264.53" x2="150.75" y2="197.89" stroke="#4c0505" stroke-width="0.6"/>
<line x1="122.56" y1="265.53" x2="152.94" y2="198.88" stroke="#8c0000" stroke-width="0.6"/>
<line x1="121.98" y1="267.97" x2="185.39" y2="224.72" stroke="#fff" stroke-width="1.4"/>
<line x1="123.21" y1="266.23" x2="183.71" y2="224.95" stroke="#8c0000" stroke-width="0.6"/>
<line x1="124.05" y1="267.47" x2="184.55" y2="226.19" stroke="#86471a" stroke-width="0.6"/>
<line x1="122.25" y1="271.15" x2="192.04" y2="303.10" stroke="#fff" stroke-width="1.3"/>
<line x1="124.36" y1="271.34" x2="190.95" y2="301.83" stroke="#464617" stroke-width="0.6"/>
<line x1="123.77" y1="272.62" x2="190.37" y2="303.11" stroke="#044b04" stroke-width="0.6"/>
<line x1="120.99" y1="272.56" x2="161.10" y2="338.01" stroke="#fff" stroke-width="2.3"/>
<line x1="123.06" y1="273.64" x2="161.33" y2="336.09" stroke="#044b04" stroke-width="0.6"/>
<line x1="121.01" y1="274.89" x2="159.28" y2="337.34" stroke="#1f553b" stroke-width="0.6"/>
<line x1="120.03" y1="272.96" x2="137.30" y2="347.75" stroke="#fff" stroke-width="1.9"/>
<line x1="121.45" y1="274.68" x2="137.93" y2="346.04" stroke="#1f553b" stroke-width="0.6"/>
<line x1="119.50" y1="275.13" x2="135.98" y2="346.49" stroke="#078507" stroke-width="0.6"/>
<line x1="118.76" y1="272.99" x2="105.96" y2="348.68" stroke="#fff" stroke-width="1.3"/>
<line x1="119.12" y1="275.08" x2="106.90" y2="347.30" stroke="#078507" stroke-width="0.6"/>
<line x1="117.74" y1="274.85" x2="105.52" y2="347.06" stroke="#718c71" stroke-width="0.6"/>
<line x1="118.35" y1="272.90" x2="95.91" y2="346.30" stroke="#fff" stroke-width="1.4"/>
<line x1="118.49" y1="275.03" x2="97.07" y2="345.07" stroke="#718c71" stroke-width="0.6"/>
<line x1="117.05" y1="274.59" x2="95.64" y2="344.63" stroke="#718c8c" stroke-width="0.6"/>
<line x1="116.29" y1="270.99" x2="44.87" y2="299.12" stroke="#fff" stroke-width="1.4"/>
<line x1="114.70" y1="272.42" x2="46.56" y2="299.26" stroke="#086e8c" stroke-width="0.6"/>
<line x1="114.15" y1="271.02" x2="46.01" y2="297.87" stroke="#008c8c" stroke-width="0.6"/>
<line x1="116.07" y1="269.56" x2="39.53" y2="263.80" stroke="#fff" stroke-width="1.8"/>
<line x1="114.00" y1="270.35" x2="40.97" y2="264.86" stroke="#008c8c" stroke-width="0.6"/>
<line x1="114.15" y1="268.46" x2="41.11" y2="262.97" stroke="#1b3784" stroke-width="0.6"/>
<line x1="117.20" y1="267.33" x2="67.45" y2="208.88" stroke="#fff" stroke-width="1.4"/>
<line x1="115.33" y1="266.30" x2="67.86" y2="210.52" stroke="#3d3d5d" stroke-width="0.6"/>
<line x1="116.48" y1="265.32" x2="69.01" y2="209.55" stroke="#6e6e6e" stroke-width="0.6"/>
<line x1="119.22" y1="266.56" x2="117.21" y2="189.83" stroke="#fff" stroke-width="1.5"/>
<line x1="118.36" y1="264.58" x2="116.45" y2="191.37" stroke="#444" stroke-width="0.6"/>
<line x1="119.96" y1="264.54" x2="118.05" y2="191.33" stroke="#444" stroke-width="0.6"/>
<circle cx="119.3" cy="269.8" r="3.06" fill="#fff"/>
<path d="M357.78 265.60L357.78 190.00A75.6 75.6 0 0 1 361.21 190.08Z" fill="#000000" stroke="#000" stroke-width="0.75" stroke-linejoin="round"/>
<path d="M358.37 265.66L361.80 190.14A75.6 75.6 0 0 1 382.99 194.18Z" fill="#8B0A0A" stroke="#4c0505" stroke-width="0.75" stroke-linejoin="round"/>
<path d="M360.28 266.69L384.89 195.21A75.6 75.6 0 0 1 432.38 243.95Z" fill="#FF0000" stroke="#8c0000" stroke-width="0.75" stroke-linejoin="round"/>
<path d="M361.14 268.15L433.24 245.41A75.6 75.6 0 0 1 433.63 246.68Z" fill="#F58231" stroke="#86471a" stroke-width="0.75" stroke-linejoin="round"/>
<path d="M361.29 269.00L433.78 247.52A75.6 75.6 0 0 1 435.75 282.12Z" fill="#FFA20F" stroke="#8c5908" stroke-width="0.75" stroke-linejoin="round"/>
<path d="M361.22 269.93L435.68 283.06A75.6 75.6 0 0 1 434.74 287.58Z" fill="#FFDCB0" stroke="#8c7960" stroke-width="0.75" stroke-linejoin="round"/>
<path d="M361.20 270.06L434.71 287.70A75.6 75.6 0 0 1 434.55 288.34Z" fill="#FFFF3C" stroke="#8c8c21" stroke-width="0.75" stroke-linejoin="round"/>
<path d="M361.03 270.56L434.39 288.85A75.6 75.6 0 0 1 426.31 308.70Z" fill="#9BCF0A" stroke="#557105" stroke-width="0.75" stroke-linejoin="round"/>
<path d="M360.78 271.07L426.05 309.21A75.6 75.6 0 0 1 424.68 311.47Z" fill="#80802A" stroke="#464617" stroke-width="0.75" stroke-linejoin="round"/>
<path d="M359.80 272.13L423.70 312.52A75.6 75.6 0 0 1 377.57 345.61Z" fill="#088A08" stroke="#044b04" stroke-width="0.75" stroke-linejoin="round"/>
<path d="M358.31 272.75L376.08 346.23A75.6 75.6 0 0 1 365.95 347.96Z" fill="#3A9C6C" stroke="#1f553b" stroke-width="0.75" stroke-linejoin="round"/>
<path d="M357.36 272.78L365.00 348.00A75.6 75.6 0 0 1 335.63 345.20Z" fill="#0DF20D" stroke="#078507" stroke-width="0.75" stroke-linejoin="round"/>
<path d="M356.52 272.60L334.80 345.01A75.6 75.6 0 0 1 328.81 342.94Z" fill="#CFFFCF" stroke="#718c71" stroke-width="0.75" stroke-linejoin="round"/>
<path d="M355.29 271.88L327.58 342.21A75.6 75.6 0 0 1 288.23 306.78Z" fill="#CFFFFF" stroke="#718c8c" stroke-width="0.75" stroke-linejoin="round"/>
<path d="M354.40 270.65L287.35 305.56A75.6 75.6 0 0 1 283.36 296.51Z" fill="#36CFCF" stroke="#1d7171" stroke-width="0.75" stroke-linejoin="round"/>
<path d="M354.22 270.13L283.18 295.98A75.6 75.6 0 0 1 279.72 282.99Z" fill="#0FC8FF" stroke="#086e8c" stroke-width="0.75" stroke-linejoin="round"/>
<path d="M354.10 269.07L279.61 281.94A75.6 75.6 0 0 1 280.75 250.78Z" fill="#00FFFF" stroke="#008c8c" stroke-width="0.75" stroke-linejoin="round"/>
<path d="M354.37 267.84L281.01 249.55A75.6 75.6 0 0 1 289.16 229.58Z" fill="#3264F0" stroke="#1b3784" stroke-width="0.75" stroke-linejoin="round"/>
<path d="M354.68 267.24L289.47 228.98A75.6 75.6 0 0 1 293.21 223.23Z" fill="#000080" stroke="#000046" stroke-width="0.75" stroke-linejoin="round"/>
<path d="M355.00 266.82L293.53 222.81A75.6 75.6 0 0 1 303.63 211.35Z" fill="#CC99FF" stroke="#70548c" stroke-width="0.75" stroke-linejoin="round"/>
<path d="M355.45 266.39L304.09 210.92A75.6 75.6 0 0 1 312.74 204.01Z" fill="#7070AA" stroke="#3d3d5d" stroke-width="0.75" stroke-linejoin="round"/>
<path d="M356.03 266.01L313.32 203.63A75.6 75.6 0 0 1 329.31 195.29Z" fill="#C8C8C8" stroke="#6e6e6e" stroke-width="0.75" stroke-linejoin="round"/>
<path d="M356.92 265.68L330.20 194.97A75.6 75.6 0 0 1 351.39 190.29Z" fill="#A0A0A0" stroke="#585858" stroke-width="0.75" stroke-linejoin="round"/>
<path d="M357.57 265.60L352.03 190.21A75.6 75.6 0 0 1 357.57 190.00Z" fill="#FFFFFF" stroke="#555" stroke-width="0.75" stroke-linejoin="round"/>
<line x1="357.85" y1="265.96" x2="361.33" y2="189.28" stroke="#fff" stroke-width="1.3"/>
<line x1="357.24" y1="263.93" x2="360.56" y2="190.77" stroke="#000" stroke-width="0.6"/>
<line x1="358.64" y1="264.00" x2="361.96" y2="190.83" stroke="#4c0505" stroke-width="0.6"/>
<line x1="358.75" y1="266.14" x2="383.75" y2="193.56" stroke="#fff" stroke-width="2.3"/>
<line x1="358.27" y1="263.85" x2="382.12" y2="194.61" stroke="#4c0505" stroke-width="0.6"/>
<line x1="360.54" y1="264.64" x2="384.39" y2="195.39" stroke="#8c0000" stroke-width="0.6"/>
<line x1="360.80" y1="268.24" x2="434.12" y2="245.54" stroke="#fff" stroke-width="2.3"/>
<line x1="362.35" y1="266.50" x2="432.32" y2="244.85" stroke="#8c0000" stroke-width="0.6"/>
<line x1="363.06" y1="268.80" x2="433.03" y2="247.14" stroke="#86471a" stroke-width="0.6"/>
<line x1="360.44" y1="270.93" x2="425.32" y2="311.95" stroke="#fff" stroke-width="1.6"/>
<line x1="362.58" y1="271.28" x2="424.49" y2="310.42" stroke="#464617" stroke-width="0.6"/>
<line x1="361.67" y1="272.72" x2="423.58" y2="311.85" stroke="#044b04" stroke-width="0.6"/>
<line x1="358.46" y1="272.35" x2="376.51" y2="346.96" stroke="#fff" stroke-width="1.5"/>
<line x1="359.71" y1="274.10" x2="376.93" y2="345.29" stroke="#044b04" stroke-width="0.6"/>
<line x1="358.15" y1="274.48" x2="375.38" y2="345.67" stroke="#1f553b" stroke-width="0.6"/>
<line x1="358.03" y1="272.42" x2="365.78" y2="348.79" stroke="#fff" stroke-width="1.4"/>
<line x1="358.98" y1="274.34" x2="366.38" y2="347.20" stroke="#1f553b" stroke-width="0.6"/>
<line x1="357.48" y1="274.49" x2="364.88" y2="347.35" stroke="#078507" stroke-width="0.6"/>
<line x1="356.77" y1="272.30" x2="334.71" y2="345.83" stroke="#fff" stroke-width="1.3"/>
<line x1="356.86" y1="274.42" x2="335.82" y2="344.57" stroke="#078507" stroke-width="0.6"/>
<line x1="355.52" y1="274.02" x2="334.48" y2="344.17" stroke="#718c71" stroke-width="0.6"/>
<line x1="356.50" y1="272.21" x2="327.99" y2="343.48" stroke="#fff" stroke-width="1.5"/>
<line x1="356.50" y1="274.36" x2="329.30" y2="342.36" stroke="#718c71" stroke-width="0.6"/>
<line x1="355.01" y1="273.77" x2="327.81" y2="341.77" stroke="#718c8c" stroke-width="0.6"/>
<line x1="354.83" y1="270.70" x2="286.74" y2="306.14" stroke="#fff" stroke-width="1.5"/>
<line x1="353.42" y1="272.33" x2="288.46" y2="306.15" stroke="#718c8c" stroke-width="0.6"/>
<line x1="352.68" y1="270.91" x2="287.72" y2="304.73" stroke="#1d7171" stroke-width="0.6"/>
<line x1="354.56" y1="268.42" x2="280.08" y2="249.85" stroke="#fff" stroke-width="1.9"/>
<line x1="352.37" y1="268.90" x2="281.31" y2="251.18" stroke="#008c8c" stroke-width="0.6"/>
<line x1="352.86" y1="266.96" x2="281.79" y2="249.24" stroke="#1b3784" stroke-width="0.6"/>
<circle cx="357.7" cy="269.2" r="3.06" fill="#fff"/>
<path d="M119.72 432.00L119.72 357.70A74.3 74.3 0 0 1 126.19 357.99Z" fill="#000000" stroke="#000" stroke-width="0.75" stroke-linejoin="round"/>
<path d="M120.15 432.04L126.63 358.03A74.3 74.3 0 0 1 133.05 358.87Z" fill="#8B0A0A" stroke="#4c0505" stroke-width="0.75" stroke-linejoin="round"/>
<path d="M120.65 432.13L133.55 358.96A74.3 74.3 0 0 1 141.75 360.89Z" fill="#FF0000" stroke="#8c0000" stroke-width="0.75" stroke-linejoin="round"/>
<path d="M121.19 432.29L142.29 361.05A74.3 74.3 0 0 1 150.22 363.90Z" fill="#F58231" stroke="#86471a" stroke-width="0.75" stroke-linejoin="round"/>
<path d="M121.65 432.49L150.68 364.09A74.3 74.3 0 0 1 156.53 366.88Z" fill="#FFA20F" stroke="#8c5908" stroke-width="0.75" stroke-linejoin="round"/>
<path d="M121.94 432.64L156.82 367.03A74.3 74.3 0 0 1 159.65 368.62Z" fill="#FFDCB0" stroke="#8c7960" stroke-width="0.75" stroke-linejoin="round"/>
<path d="M122.21 432.80L159.92 368.78A74.3 74.3 0 0 1 165.04 372.09Z" fill="#FFFF3C" stroke="#8c8c21" stroke-width="0.75" stroke-linejoin="round"/>
<path d="M124.50 436.92L167.33 376.21A74.3 74.3 0 0 1 169.21 496.26Z" fill="#9BCF0A" stroke="#557105" stroke-width="0.75" stroke-linejoin="round"/>
<path d="M122.49 441.01L167.20 500.35A74.3 74.3 0 0 1 166.58 500.81Z" fill="#80802A" stroke="#464617" stroke-width="0.75" stroke-linejoin="round"/>
<path d="M122.27 441.16L166.37 500.96A74.3 74.3 0 0 1 160.54 504.85Z" fill="#088A08" stroke="#044b04" stroke-width="0.75" stroke-linejoin="round"/>
<path d="M121.83 441.42L160.10 505.11A74.3 74.3 0 0 1 152.64 509.04Z" fill="#3A9C6C" stroke="#1f553b" stroke-width="0.75" stroke-linejoin="round"/>
<path d="M121.37 441.64L152.18 509.25A74.3 74.3 0 0 1 146.17 511.67Z" fill="#0DF20D" stroke="#078507" stroke-width="0.75" stroke-linejoin="round"/>
<path d="M121.11 441.73L145.91 511.77A74.3 74.3 0 0 1 144.07 512.40Z" fill="#CFFFCF" stroke="#718c71" stroke-width="0.75" stroke-linejoin="round"/>
<path d="M120.60 441.88L143.56 512.54A74.3 74.3 0 0 1 130.30 515.54Z" fill="#CFFFFF" stroke="#718c8c" stroke-width="0.75" stroke-linejoin="round"/>
<path d="M120.04 441.97L129.73 515.64A74.3 74.3 0 0 1 126.25 516.01Z" fill="#36CFCF" stroke="#1d7171" stroke-width="0.75" stroke-linejoin="round"/>
<path d="M116.81 441.21L123.02 515.25A74.3 74.3 0 0 1 46.99 466.62Z" fill="#0FC8FF" stroke="#086e8c" stroke-width="0.75" stroke-linejoin="round"/>
<path d="M114.68 438.34L44.86 463.75A74.3 74.3 0 0 1 41.75 452.51Z" fill="#00FFFF" stroke="#008c8c" stroke-width="0.75" stroke-linejoin="round"/>
<path d="M114.57 437.83L41.63 452.00A74.3 74.3 0 0 1 40.99 448.17Z" fill="#3264F0" stroke="#1b3784" stroke-width="0.75" stroke-linejoin="round"/>
<path d="M114.53 437.50L40.95 447.84A74.3 74.3 0 0 1 40.36 442.04Z" fill="#000080" stroke="#000046" stroke-width="0.75" stroke-linejoin="round"/>
<path d="M114.50 436.79L40.34 441.33A74.3 74.3 0 0 1 40.96 426.20Z" fill="#CC99FF" stroke="#70548c" stroke-width="0.75" stroke-linejoin="round"/>
<path d="M114.56 436.21L41.02 425.61A74.3 74.3 0 0 1 41.39 423.31Z" fill="#7070AA" stroke="#3d3d5d" stroke-width="0.75" stroke-linejoin="round"/>
<path d="M116.22 433.23L43.05 420.32A74.3 74.3 0 0 1 113.63 358.97Z" fill="#C8C8C8" stroke="#6e6e6e" stroke-width="0.75" stroke-linejoin="round"/>
<path d="M119.38 432.00L116.79 357.75A74.3 74.3 0 0 1 118.47 357.71Z" fill="#A0A0A0" stroke="#585858" stroke-width="0.75" stroke-linejoin="round"/>
<path d="M119.47 432.00L118.56 357.71A74.3 74.3 0 0 1 119.47 357.70Z" fill="#FFFFFF" stroke="#555" stroke-width="0.75" stroke-linejoin="round"/>
<circle cx="119.5" cy="437" r="4.25" fill="#fff"/>
<path d="M357.56 432.20L357.56 355.80A76.4 76.4 0 0 1 364.22 356.09Z" fill="#000000" stroke="#000" stroke-width="0.75" stroke-linejoin="round"/>
<path d="M358.12 432.27L364.78 356.16A76.4 76.4 0 0 1 381.73 359.61Z" fill="#8B0A0A" stroke="#4c0505" stroke-width="0.75" stroke-linejoin="round"/>
<path d="M359.39 432.80L383.00 360.14A76.4 76.4 0 0 1 417.32 382.98Z" fill="#FF0000" stroke="#8c0000" stroke-width="0.75" stroke-linejoin="round"/>
<path d="M360.17 433.50L418.09 383.68A76.4 76.4 0 0 1 419.79 385.73Z" fill="#F58231" stroke="#86471a" stroke-width="0.75" stroke-linejoin="round"/>
<path d="M360.62 434.18L420.24 386.41A76.4 76.4 0 0 1 434.52 414.80Z" fill="#FFA20F" stroke="#8c5908" stroke-width="0.75" stroke-linejoin="round"/>
<path d="M360.92 435.02L434.81 415.64A76.4 76.4 0 0 1 436.11 421.49Z" fill="#FFDCB0" stroke="#8c7960" stroke-width="0.75" stroke-linejoin="round"/>
<path d="M360.97 435.31L436.16 421.78A76.4 76.4 0 0 1 437.03 428.12Z" fill="#FFFF3C" stroke="#8c8c21" stroke-width="0.75" stroke-linejoin="round"/>
<path d="M360.99 436.03L437.05 428.84A76.4 76.4 0 0 1 435.55 452.69Z" fill="#9BCF0A" stroke="#557105" stroke-width="0.75" stroke-linejoin="round"/>
<path d="M360.90 436.65L435.46 453.32A76.4 76.4 0 0 1 434.80 456.04Z" fill="#80802A" stroke="#464617" stroke-width="0.75" stroke-linejoin="round"/>
<path d="M360.76 437.10L434.65 456.49A76.4 76.4 0 0 1 428.34 472.74Z" fill="#088A08" stroke="#044b04" stroke-width="0.75" stroke-linejoin="round"/>
<path d="M360.42 437.76L428.00 473.39A76.4 76.4 0 0 1 420.46 485.01Z" fill="#3A9C6C" stroke="#1f553b" stroke-width="0.75" stroke-linejoin="round"/>
<path d="M359.52 438.71L419.56 485.96A76.4 76.4 0 0 1 385.90 510.41Z" fill="#0DF20D" stroke="#078507" stroke-width="0.75" stroke-linejoin="round"/>
<path d="M358.52 439.22L384.91 510.92A76.4 76.4 0 0 1 379.84 512.59Z" fill="#CFFFCF" stroke="#718c71" stroke-width="0.75" stroke-linejoin="round"/>
<path d="M357.45 439.40L378.77 512.77A76.4 76.4 0 0 1 338.32 513.37Z" fill="#CFFFFF" stroke="#718c8c" stroke-width="0.75" stroke-linejoin="round"/>
<path d="M356.20 439.20L337.08 513.16A76.4 76.4 0 0 1 324.76 508.83Z" fill="#36CFCF" stroke="#1d7171" stroke-width="0.75" stroke-linejoin="round"/>
<path d="M355.30 438.73L323.86 508.36A76.4 76.4 0 0 1 299.43 490.83Z" fill="#0FC8FF" stroke="#086e8c" stroke-width="0.75" stroke-linejoin="round"/>
<path d="M354.12 437.29L298.25 489.40A76.4 76.4 0 0 1 278.14 445.28Z" fill="#00FFFF" stroke="#008c8c" stroke-width="0.75" stroke-linejoin="round"/>
<path d="M353.82 435.43L277.84 443.42A76.4 76.4 0 0 1 281.04 412.20Z" fill="#3264F0" stroke="#1b3784" stroke-width="0.75" stroke-linejoin="round"/>
<path d="M354.02 434.57L281.23 411.34A76.4 76.4 0 0 1 283.33 405.58Z" fill="#000080" stroke="#000046" stroke-width="0.75" stroke-linejoin="round"/>
<path d="M354.21 434.14L283.52 405.15A76.4 76.4 0 0 1 289.84 392.98Z" fill="#CC99FF" stroke="#70548c" stroke-width="0.75" stroke-linejoin="round"/>
<path d="M354.60 433.54L290.23 392.38A76.4 76.4 0 0 1 300.76 379.33Z" fill="#7070AA" stroke="#3d3d5d" stroke-width="0.75" stroke-linejoin="round"/>
<path d="M355.64 432.66L301.81 378.45A76.4 76.4 0 0 1 337.55 358.43Z" fill="#C8C8C8" stroke="#6e6e6e" stroke-width="0.75" stroke-linejoin="round"/>
<path d="M356.84 432.24L338.75 358.02A76.4 76.4 0 0 1 351.24 356.05Z" fill="#A0A0A0" stroke="#585858" stroke-width="0.75" stroke-linejoin="round"/>
<path d="M357.27 432.20L351.67 356.01A76.4 76.4 0 0 1 357.27 355.80Z" fill="#FFFFFF" stroke="#555" stroke-width="0.75" stroke-linejoin="round"/>
<line x1="357.68" y1="432.57" x2="364.44" y2="355.31" stroke="#fff" stroke-width="1.4"/>
<line x1="357.11" y1="430.51" x2="363.56" y2="356.76" stroke="#000" stroke-width="0.6"/>
<line x1="358.60" y1="430.65" x2="365.06" y2="356.89" stroke="#4c0505" stroke-width="0.6"/>
<line x1="358.40" y1="432.72" x2="382.37" y2="358.95" stroke="#fff" stroke-width="1.9"/>
<line x1="358.07" y1="430.51" x2="380.95" y2="360.09" stroke="#4c0505" stroke-width="0.6"/>
<line x1="359.97" y1="431.13" x2="382.85" y2="360.71" stroke="#8c0000" stroke-width="0.6"/>
<line x1="359.86" y1="433.69" x2="418.66" y2="383.11" stroke="#fff" stroke-width="1.3"/>
<line x1="360.92" y1="431.85" x2="417.05" y2="383.57" stroke="#8c0000" stroke-width="0.6"/>
<line x1="361.83" y1="432.91" x2="417.96" y2="384.63" stroke="#86471a" stroke-width="0.6"/>
<line x1="359.95" y1="437.80" x2="420.90" y2="485.77" stroke="#fff" stroke-width="1.9"/>
<line x1="362.14" y1="438.25" x2="420.32" y2="484.04" stroke="#1f553b" stroke-width="0.6"/>
<line x1="360.90" y1="439.83" x2="419.08" y2="485.61" stroke="#078507" stroke-width="0.6"/>
<line x1="358.52" y1="438.84" x2="385.30" y2="511.63" stroke="#fff" stroke-width="1.2"/>
<line x1="359.82" y1="440.49" x2="385.39" y2="509.98" stroke="#078507" stroke-width="0.6"/>
<line x1="358.60" y1="440.94" x2="384.17" y2="510.43" stroke="#718c71" stroke-width="0.6"/>
<line x1="358.30" y1="438.91" x2="379.94" y2="513.39" stroke="#fff" stroke-width="1.4"/>
<line x1="359.58" y1="440.62" x2="380.24" y2="511.72" stroke="#718c71" stroke-width="0.6"/>
<line x1="358.14" y1="441.04" x2="378.80" y2="512.14" stroke="#718c8c" stroke-width="0.6"/>
<line x1="356.59" y1="438.94" x2="337.17" y2="514.03" stroke="#fff" stroke-width="1.3"/>
<line x1="356.77" y1="441.05" x2="338.23" y2="512.73" stroke="#718c8c" stroke-width="0.6"/>
<line x1="355.41" y1="440.70" x2="336.87" y2="512.38" stroke="#1d7171" stroke-width="0.6"/>
<line x1="356.07" y1="438.75" x2="324.15" y2="509.44" stroke="#fff" stroke-width="1.3"/>
<line x1="355.88" y1="440.86" x2="325.41" y2="508.34" stroke="#1d7171" stroke-width="0.6"/>
<line x1="354.61" y1="440.29" x2="324.14" y2="507.77" stroke="#086e8c" stroke-width="0.6"/>
<line x1="355.03" y1="438.01" x2="298.31" y2="490.91" stroke="#fff" stroke-width="2.2"/>
<line x1="354.35" y1="440.21" x2="300.20" y2="490.71" stroke="#086e8c" stroke-width="0.6"/>
<line x1="352.78" y1="438.53" x2="298.63" y2="489.03" stroke="#008c8c" stroke-width="0.6"/>
<line x1="354.18" y1="436.14" x2="277.04" y2="444.25" stroke="#fff" stroke-width="2.2"/>
<line x1="352.31" y1="437.49" x2="278.67" y2="445.23" stroke="#008c8c" stroke-width="0.6"/>
<line x1="352.07" y1="435.20" x2="278.43" y2="442.94" stroke="#1b3784" stroke-width="0.6"/>
<line x1="355.12" y1="433.50" x2="300.47" y2="378.47" stroke="#fff" stroke-width="1.9"/>
<line x1="353.00" y1="432.79" x2="300.83" y2="380.25" stroke="#3d3d5d" stroke-width="0.6"/>
<line x1="354.42" y1="431.38" x2="302.25" y2="378.84" stroke="#6e6e6e" stroke-width="0.6"/>
<line x1="356.63" y1="432.65" x2="338.26" y2="357.30" stroke="#fff" stroke-width="1.4"/>
<line x1="355.43" y1="430.89" x2="337.89" y2="358.95" stroke="#6e6e6e" stroke-width="0.6"/>
<line x1="356.89" y1="430.53" x2="339.35" y2="358.60" stroke="#585858" stroke-width="0.6"/>
<circle cx="357.4" cy="435.8" r="3.06" fill="#fff"/>
<rect x="204.7" y="197.5" width="66.6" height="296.7" fill="#fff" stroke="#222" stroke-width="0.9"/>
<rect x="216.6" y="202.20" width="4.6" height="4.8" fill="#000000" stroke="#000" stroke-width="0.8"/>
<text x="223.4" y="207.8" font-family="'Liberation Sans', sans-serif" font-size="9" font-weight="normal" font-style="normal" text-anchor="start" fill="#111" textLength="32.6" lengthAdjust="spacingAndGlyphs" >TCRv&#946;5.3</text>
<rect x="216.6" y="214.49" width="4.6" height="4.8" fill="#8B0A0A" stroke="#3e0404" stroke-width="0.8"/>
<text x="223.4" y="220.1" font-family="'Liberation Sans', sans-serif" font-size="9" font-weight="normal" font-style="normal" text-anchor="start" fill="#111" textLength="32.6" lengthAdjust="spacingAndGlyphs" >TCRv&#946;7.1</text>
<rect x="216.6" y="226.78" width="4.6" height="4.8" fill="#FF0000" stroke="#720000" stroke-width="0.8"/>
<text x="223.4" y="232.4" font-family="'Liberation Sans', sans-serif" font-size="9" font-weight="normal" font-style="normal" text-anchor="start" fill="#111" textLength="26.1" lengthAdjust="spacingAndGlyphs" >TCRv&#946;3</text>
<rect x="216.6" y="239.07" width="4.6" height="4.8" fill="#F58231" stroke="#6e3a16" stroke-width="0.8"/>
<text x="223.4" y="244.7" font-family="'Liberation Sans', sans-serif" font-size="9" font-weight="normal" font-style="normal" text-anchor="start" fill="#111" textLength="26.1" lengthAdjust="spacingAndGlyphs" >TCRv&#946;9</text>
<rect x="216.6" y="251.36" width="4.6" height="4.8" fill="#FFA20F" stroke="#724806" stroke-width="0.8"/>
<text x="223.4" y="257.0" font-family="'Liberation Sans', sans-serif" font-size="9" font-weight="normal" font-style="normal" text-anchor="start" fill="#111" textLength="30.5" lengthAdjust="spacingAndGlyphs" >TCRv&#946;17</text>
<rect x="216.6" y="263.65" width="4.6" height="4.8" fill="#FFDCB0" stroke="#72634f" stroke-width="0.8"/>
<text x="223.4" y="269.2" font-family="'Liberation Sans', sans-serif" font-size="9" font-weight="normal" font-style="normal" text-anchor="start" fill="#111" textLength="30.5" lengthAdjust="spacingAndGlyphs" >TCRv&#946;16</text>
<rect x="216.6" y="275.94" width="4.6" height="4.8" fill="#FFFF3C" stroke="#72721b" stroke-width="0.8"/>
<text x="223.4" y="281.5" font-family="'Liberation Sans', sans-serif" font-size="9" font-weight="normal" font-style="normal" text-anchor="start" fill="#111" textLength="30.5" lengthAdjust="spacingAndGlyphs" >TCRv&#946;18</text>
<rect x="216.6" y="288.23" width="4.6" height="4.8" fill="#9BCF0A" stroke="#455d04" stroke-width="0.8"/>
<text x="223.4" y="293.8" font-family="'Liberation Sans', sans-serif" font-size="9" font-weight="normal" font-style="normal" text-anchor="start" fill="#111" textLength="32.6" lengthAdjust="spacingAndGlyphs" >TCRv&#946;5.1</text>
<rect x="216.6" y="300.52" width="4.6" height="4.8" fill="#80802A" stroke="#393912" stroke-width="0.8"/>
<text x="223.4" y="306.1" font-family="'Liberation Sans', sans-serif" font-size="9" font-weight="normal" font-style="normal" text-anchor="start" fill="#111" textLength="30.5" lengthAdjust="spacingAndGlyphs" >TCRv&#946;20</text>
<rect x="216.6" y="312.81" width="4.6" height="4.8" fill="#088A08" stroke="#033e03" stroke-width="0.8"/>
<text x="223.4" y="318.4" font-family="'Liberation Sans', sans-serif" font-size="9" font-weight="normal" font-style="normal" text-anchor="start" fill="#111" textLength="37.0" lengthAdjust="spacingAndGlyphs" >TCRv&#946;13.1</text>
<rect x="216.6" y="325.10" width="4.6" height="4.8" fill="#3A9C6C" stroke="#1a4630" stroke-width="0.8"/>
<text x="223.4" y="330.7" font-family="'Liberation Sans', sans-serif" font-size="9" font-weight="normal" font-style="normal" text-anchor="start" fill="#111" textLength="37.0" lengthAdjust="spacingAndGlyphs" >TCRv&#946;13.6</text>
<rect x="216.6" y="337.39" width="4.6" height="4.8" fill="#0DF20D" stroke="#056c05" stroke-width="0.8"/>
<text x="223.4" y="343.0" font-family="'Liberation Sans', sans-serif" font-size="9" font-weight="normal" font-style="normal" text-anchor="start" fill="#111" textLength="26.1" lengthAdjust="spacingAndGlyphs" >TCRv&#946;8</text>
<rect x="216.6" y="349.68" width="4.6" height="4.8" fill="#CFFFCF" stroke="#5d725d" stroke-width="0.8"/>
<text x="223.4" y="355.3" font-family="'Liberation Sans', sans-serif" font-size="9" font-weight="normal" font-style="normal" text-anchor="start" fill="#111" textLength="32.6" lengthAdjust="spacingAndGlyphs" >TCRv&#946;5.2</text>
<rect x="216.6" y="361.97" width="4.6" height="4.8" fill="#CFFFFF" stroke="#5d7272" stroke-width="0.8"/>
<text x="223.4" y="367.6" font-family="'Liberation Sans', sans-serif" font-size="9" font-weight="normal" font-style="normal" text-anchor="start" fill="#111" textLength="26.1" lengthAdjust="spacingAndGlyphs" >TCRv&#946;2</text>
<rect x="216.6" y="374.26" width="4.6" height="4.8" fill="#36CFCF" stroke="#185d5d" stroke-width="0.8"/>
<text x="223.4" y="379.9" font-family="'Liberation Sans', sans-serif" font-size="9" font-weight="normal" font-style="normal" text-anchor="start" fill="#111" textLength="30.5" lengthAdjust="spacingAndGlyphs" >TCRv&#946;12</text>
<rect x="216.6" y="386.55" width="4.6" height="4.8" fill="#0FC8FF" stroke="#065a72" stroke-width="0.8"/>
<text x="223.4" y="392.1" font-family="'Liberation Sans', sans-serif" font-size="9" font-weight="normal" font-style="normal" text-anchor="start" fill="#111" textLength="30.5" lengthAdjust="spacingAndGlyphs" >TCRv&#946;23</text>
<rect x="216.6" y="398.84" width="4.6" height="4.8" fill="#00FFFF" stroke="#007272" stroke-width="0.8"/>
<text x="223.4" y="404.4" font-family="'Liberation Sans', sans-serif" font-size="9" font-weight="normal" font-style="normal" text-anchor="start" fill="#111" textLength="26.1" lengthAdjust="spacingAndGlyphs" >TCRv&#946;1</text>
<rect x="216.6" y="411.13" width="4.6" height="4.8" fill="#3264F0" stroke="#162d6c" stroke-width="0.8"/>
<text x="223.4" y="416.7" font-family="'Liberation Sans', sans-serif" font-size="9" font-weight="normal" font-style="normal" text-anchor="start" fill="#111" textLength="37.0" lengthAdjust="spacingAndGlyphs" >TCRv&#946;21.3</text>
<rect x="216.6" y="423.42" width="4.6" height="4.8" fill="#000080" stroke="#000039" stroke-width="0.8"/>
<text x="223.4" y="429.0" font-family="'Liberation Sans', sans-serif" font-size="9" font-weight="normal" font-style="normal" text-anchor="start" fill="#111" textLength="30.5" lengthAdjust="spacingAndGlyphs" >TCRv&#946;11</text>
<rect x="216.6" y="435.71" width="4.6" height="4.8" fill="#CC99FF" stroke="#5b4472" stroke-width="0.8"/>
<text x="223.4" y="441.3" font-family="'Liberation Sans', sans-serif" font-size="9" font-weight="normal" font-style="normal" text-anchor="start" fill="#111" textLength="30.5" lengthAdjust="spacingAndGlyphs" >TCRv&#946;22</text>
<rect x="216.6" y="448.00" width="4.6" height="4.8" fill="#7070AA" stroke="#32324c" stroke-width="0.8"/>
<text x="223.4" y="453.6" font-family="'Liberation Sans', sans-serif" font-size="9" font-weight="normal" font-style="normal" text-anchor="start" fill="#111" textLength="30.5" lengthAdjust="spacingAndGlyphs" >TCRv&#946;14</text>
<rect x="216.6" y="460.29" width="4.6" height="4.8" fill="#C8C8C8" stroke="#5a5a5a" stroke-width="0.8"/>
<text x="223.4" y="465.9" font-family="'Liberation Sans', sans-serif" font-size="9" font-weight="normal" font-style="normal" text-anchor="start" fill="#111" textLength="37.0" lengthAdjust="spacingAndGlyphs" >TCRv&#946;13.2</text>
<rect x="216.6" y="472.58" width="4.6" height="4.8" fill="#A0A0A0" stroke="#484848" stroke-width="0.8"/>
<text x="223.4" y="478.2" font-family="'Liberation Sans', sans-serif" font-size="9" font-weight="normal" font-style="normal" text-anchor="start" fill="#111" textLength="26.1" lengthAdjust="spacingAndGlyphs" >TCRv&#946;4</text>
<rect x="216.6" y="484.87" width="4.6" height="4.8" fill="#FFFFFF" stroke="#333" stroke-width="0.8"/>
<text x="223.4" y="490.5" font-family="'Liberation Sans', sans-serif" font-size="9" font-weight="normal" font-style="normal" text-anchor="start" fill="#111" textLength="32.6" lengthAdjust="spacingAndGlyphs" >TCRv&#946;7.2</text>
<line x1="445.9" y1="208.5" x2="445.9" y2="336.0" stroke="#444" stroke-width="1" stroke-linecap="butt"/>
<text x="450.9" y="261.5" font-family="'Liberation Serif', serif" font-size="11.5" font-weight="normal" font-style="normal" text-anchor="start" fill="#000" textLength="54.6" lengthAdjust="spacingAndGlyphs" >CD4-CD8+</text>
<line x1="445.9" y1="367.0" x2="445.9" y2="494.0" stroke="#444" stroke-width="1" stroke-linecap="butt"/>
<text x="450.9" y="429.4" font-family="'Liberation Serif', serif" font-size="11.5" font-weight="normal" font-style="normal" text-anchor="start" fill="#000" textLength="21.0" lengthAdjust="spacingAndGlyphs" >CD4</text>
<text x="472.3" y="424.6" font-family="'Liberation Serif', serif" font-size="6.3" font-weight="normal" font-style="normal" text-anchor="start" fill="#000" textLength="9.0" lengthAdjust="spacingAndGlyphs" >dim</text>
<text x="450.9" y="443.2" font-family="'Liberation Serif', serif" font-size="11.5" font-weight="normal" font-style="normal" text-anchor="start" fill="#000" textLength="21.0" lengthAdjust="spacingAndGlyphs" >CD8</text>
<text x="472.3" y="438.4" font-family="'Liberation Serif', serif" font-size="6.3" font-weight="normal" font-style="normal" text-anchor="start" fill="#000" textLength="17.0" lengthAdjust="spacingAndGlyphs" >bright</text>
<rect x="184" y="502.4" width="106.3" height="32.4" rx="4.5" fill="#fff" stroke="#333" stroke-width="0.9"/>
<rect x="193" y="510.2" width="4.2" height="4.2" fill="#000"/>
<circle cx="195.1" cy="526.3" r="1.8" fill="#fff" stroke="#000" stroke-width="1.1"/>
<text x="202.3" y="517.0" font-family="'Liberation Sans', sans-serif" font-size="12" font-weight="normal" font-style="normal" text-anchor="start" fill="#000" textLength="59.3" lengthAdjust="spacingAndGlyphs" >CD4-CD8+</text>
<text x="202.3" y="530.4" font-family="'Liberation Sans', sans-serif" font-size="12" font-weight="normal" font-style="normal" text-anchor="start" fill="#000" textLength="24.8" lengthAdjust="spacingAndGlyphs" >CD4</text>
<text x="227.6" y="526.2" font-family="'Liberation Sans', sans-serif" font-size="7.6" font-weight="normal" font-style="normal" text-anchor="start" fill="#000" textLength="11.4" lengthAdjust="spacingAndGlyphs" >dim</text>
<text x="239.4" y="530.4" font-family="'Liberation Sans', sans-serif" font-size="12" font-weight="normal" font-style="normal" text-anchor="start" fill="#000" textLength="24.8" lengthAdjust="spacingAndGlyphs" >CD8</text>
<text x="264.6" y="526.2" font-family="'Liberation Sans', sans-serif" font-size="7.6" font-weight="normal" font-style="normal" text-anchor="start" fill="#000" textLength="21.2" lengthAdjust="spacingAndGlyphs" >bright</text>
<text x="0.3" y="556.6" font-family="'Liberation Sans', sans-serif" font-size="16.5" font-weight="bold" font-style="normal" text-anchor="start" fill="#000" >D</text>
<line x1="25.8" y1="559.6" x2="25.8" y2="666.5" stroke="#000" stroke-width="1.5" stroke-linecap="butt"/>
<line x1="25.1" y1="665.8" x2="183.7" y2="665.8" stroke="#000" stroke-width="1.5" stroke-linecap="butt"/>
<line x1="22.3" y1="560.5" x2="25.8" y2="560.5" stroke="#000" stroke-width="1.2" stroke-linecap="butt"/>
<text x="21.8" y="563.4" font-family="'Liberation Sans', sans-serif" font-size="8" font-weight="bold" font-style="normal" text-anchor="end" fill="#000" textLength="8.2" lengthAdjust="spacingAndGlyphs" >40</text>
<line x1="22.3" y1="587.0" x2="25.8" y2="587.0" stroke="#000" stroke-width="1.2" stroke-linecap="butt"/>
<text x="21.8" y="589.9" font-family="'Liberation Sans', sans-serif" font-size="8" font-weight="bold" font-style="normal" text-anchor="end" fill="#000" textLength="8.2" lengthAdjust="spacingAndGlyphs" >30</text>
<line x1="22.3" y1="613.2" x2="25.8" y2="613.2" stroke="#000" stroke-width="1.2" stroke-linecap="butt"/>
<text x="21.8" y="616.1" font-family="'Liberation Sans', sans-serif" font-size="8" font-weight="bold" font-style="normal" text-anchor="end" fill="#000" textLength="8.2" lengthAdjust="spacingAndGlyphs" >20</text>
<line x1="22.3" y1="639.5" x2="25.8" y2="639.5" stroke="#000" stroke-width="1.2" stroke-linecap="butt"/>
<text x="21.8" y="642.4" font-family="'Liberation Sans', sans-serif" font-size="8" font-weight="bold" font-style="normal" text-anchor="end" fill="#000" textLength="8.2" lengthAdjust="spacingAndGlyphs" >10</text>
<line x1="22.3" y1="665.8" x2="25.8" y2="665.8" stroke="#000" stroke-width="1.2" stroke-linecap="butt"/>
<text x="21.8" y="668.7" font-family="'Liberation Sans', sans-serif" font-size="8" font-weight="bold" font-style="normal" text-anchor="end" fill="#000" textLength="4.1" lengthAdjust="spacingAndGlyphs" >0</text>
<g transform="translate(10.1,658.5) rotate(-90)">
<text x="0.0" y="0.0" font-family="'Liberation Sans', sans-serif" font-size="8.6" font-weight="bold" font-style="normal" text-anchor="start" fill="#000" textLength="89.0" lengthAdjust="spacingAndGlyphs" >mean % TCR-staining</text>
</g>
<rect x="32.8" y="636.3" width="4.2" height="4.2" fill="#000"/>
<rect x="32.8" y="648.3" width="4.2" height="4.2" fill="#000"/>
<rect x="36.0" y="653.8" width="4.2" height="4.2" fill="#000"/>
<rect x="32.8" y="655.3" width="4.2" height="4.2" fill="#000"/>
<line x1="28.6" y1="650.4" x2="42.3" y2="650.4" stroke="#000" stroke-width="1.2" stroke-linecap="butt"/>
<circle cx="49.1" cy="578.1" r="1.85" fill="#fff" stroke="#000" stroke-width="1.15"/>
<circle cx="55.0" cy="580.6" r="1.85" fill="#fff" stroke="#000" stroke-width="1.15"/>
<circle cx="57.5" cy="588.2" r="1.85" fill="#fff" stroke="#000" stroke-width="1.15"/>
<circle cx="55.0" cy="590.8" r="1.85" fill="#fff" stroke="#000" stroke-width="1.15"/>
<line x1="48.7" y1="584.4" x2="62.4" y2="584.4" stroke="#000" stroke-width="1.2" stroke-linecap="butt"/>
<line x1="33.8" y1="567.5" x2="60.3" y2="567.5" stroke="#333" stroke-width="1" stroke-linecap="butt"/>
<text x="32.8" y="562.2" font-family="'Liberation Sans', sans-serif" font-size="8.4" font-weight="normal" font-style="normal" text-anchor="start" fill="#111" textLength="29.0" lengthAdjust="spacingAndGlyphs" ><tspan font-style="italic">P</tspan> = .001</text>
<rect x="92.2" y="623.5" width="4.2" height="4.2" fill="#000"/>
<rect x="92.2" y="636.2" width="4.2" height="4.2" fill="#000"/>
<rect x="95.4" y="647.8" width="4.2" height="4.2" fill="#000"/>
<rect x="92.2" y="653.1" width="4.2" height="4.2" fill="#000"/>
<line x1="88.0" y1="641.8" x2="101.0" y2="641.8" stroke="#000" stroke-width="1.2" stroke-linecap="butt"/>
<circle cx="116.3" cy="591.7" r="1.85" fill="#fff" stroke="#000" stroke-width="1.15"/>
<circle cx="112.8" cy="596.5" r="1.85" fill="#fff" stroke="#000" stroke-width="1.15"/>
<circle cx="113.7" cy="612.2" r="1.85" fill="#fff" stroke="#000" stroke-width="1.15"/>
<circle cx="113.7" cy="625.6" r="1.85" fill="#fff" stroke="#000" stroke-width="1.15"/>
<line x1="107.0" y1="606.8" x2="120.4" y2="606.8" stroke="#000" stroke-width="1.2" stroke-linecap="butt"/>
<line x1="93.5" y1="583.0" x2="121.7" y2="583.0" stroke="#333" stroke-width="1" stroke-linecap="butt"/>
<text x="93.5" y="578.2" font-family="'Liberation Sans', sans-serif" font-size="8.4" font-weight="normal" font-style="normal" text-anchor="start" fill="#111" textLength="28.2" lengthAdjust="spacingAndGlyphs" ><tspan font-style="italic">P</tspan> = .006</text>
<rect x="154.1" y="636.2" width="4.2" height="4.2" fill="#000"/>
<rect x="150.6" y="641.6" width="4.2" height="4.2" fill="#000"/>
<rect x="150.6" y="650.9" width="4.2" height="4.2" fill="#000"/>
<rect x="150.6" y="661.2" width="4.2" height="4.2" fill="#000"/>
<line x1="147.3" y1="648.5" x2="160.2" y2="648.5" stroke="#000" stroke-width="1.2" stroke-linecap="butt"/>
<circle cx="172.4" cy="591.7" r="1.85" fill="#fff" stroke="#000" stroke-width="1.15"/>
<circle cx="166.2" cy="611.4" r="1.85" fill="#fff" stroke="#000" stroke-width="1.15"/>
<circle cx="172.4" cy="611.4" r="1.85" fill="#fff" stroke="#000" stroke-width="1.15"/>
<circle cx="172.4" cy="623.5" r="1.85" fill="#fff" stroke="#000" stroke-width="1.15"/>
<line x1="164.0" y1="609.5" x2="179.6" y2="609.5" stroke="#000" stroke-width="1.2" stroke-linecap="butt"/>
<line x1="143.3" y1="583.0" x2="171.5" y2="583.0" stroke="#333" stroke-width="1" stroke-linecap="butt"/>
<text x="143.3" y="578.2" font-family="'Liberation Sans', sans-serif" font-size="8.4" font-weight="normal" font-style="normal" text-anchor="start" fill="#111" textLength="28.2" lengthAdjust="spacingAndGlyphs" ><tspan font-style="italic">P</tspan> = .001</text>
<text x="29.0" y="679.8" font-family="'Liberation Sans', sans-serif" font-size="8.3" font-weight="normal" font-style="normal" text-anchor="start" fill="#111" textLength="34.5" lengthAdjust="spacingAndGlyphs" >TCR v&#946;5.1</text>
<text x="84.0" y="680.0" font-family="'Liberation Sans', sans-serif" font-size="8.3" font-weight="normal" font-style="normal" text-anchor="start" fill="#111" textLength="41.8" lengthAdjust="spacingAndGlyphs" >TCR v&#946;13.2</text>
<text x="146.0" y="682.0" font-family="'Liberation Sans', sans-serif" font-size="8.3" font-weight="normal" font-style="normal" text-anchor="start" fill="#111" textLength="35.8" lengthAdjust="spacingAndGlyphs" >TCR v&#946;23</text>
<text x="185.6" y="556.8" font-family="'Liberation Sans', sans-serif" font-size="16.5" font-weight="bold" font-style="normal" text-anchor="start" fill="#000" >E</text>
<line x1="215.0" y1="559.6" x2="215.0" y2="665.7" stroke="#000" stroke-width="1.5" stroke-linecap="butt"/>
<line x1="214.3" y1="665.0" x2="514.8" y2="665.0" stroke="#000" stroke-width="1.5" stroke-linecap="butt"/>
<line x1="211.5" y1="560.5" x2="215.0" y2="560.5" stroke="#000" stroke-width="1.2" stroke-linecap="butt"/>
<text x="211.3" y="563.4" font-family="'Liberation Sans', sans-serif" font-size="8" font-weight="bold" font-style="normal" text-anchor="end" fill="#000" textLength="6.6" lengthAdjust="spacingAndGlyphs" >15</text>
<line x1="211.5" y1="595.2" x2="215.0" y2="595.2" stroke="#000" stroke-width="1.2" stroke-linecap="butt"/>
<text x="211.3" y="598.1" font-family="'Liberation Sans', sans-serif" font-size="8" font-weight="bold" font-style="normal" text-anchor="end" fill="#000" textLength="7.4" lengthAdjust="spacingAndGlyphs" >10</text>
<line x1="211.5" y1="630.2" x2="215.0" y2="630.2" stroke="#000" stroke-width="1.2" stroke-linecap="butt"/>
<text x="211.3" y="633.1" font-family="'Liberation Sans', sans-serif" font-size="8" font-weight="bold" font-style="normal" text-anchor="end" fill="#000" textLength="3.7" lengthAdjust="spacingAndGlyphs" >5</text>
<line x1="211.5" y1="665.0" x2="215.0" y2="665.0" stroke="#000" stroke-width="1.2" stroke-linecap="butt"/>
<text x="211.3" y="667.9" font-family="'Liberation Sans', sans-serif" font-size="8" font-weight="bold" font-style="normal" text-anchor="end" fill="#000" textLength="3.7" lengthAdjust="spacingAndGlyphs" >0</text>
<g transform="translate(201.8,659.8) rotate(-90)">
<text x="0.0" y="0.0" font-family="'Liberation Sans', sans-serif" font-size="8.6" font-weight="bold" font-style="normal" text-anchor="start" fill="#000" textLength="90.0" lengthAdjust="spacingAndGlyphs" >mean % TCR-staining</text>
</g>
<rect x="220.2" y="566.9" width="4.2" height="4.2" fill="#000"/>
<rect x="215.0" y="587.9" width="4.2" height="4.2" fill="#000"/>
<rect x="220.2" y="591.7" width="4.2" height="4.2" fill="#000"/>
<rect x="220.2" y="605.8" width="4.2" height="4.2" fill="#000"/>
<line x1="216.0" y1="590.2" x2="227.5" y2="590.2" stroke="#000" stroke-width="1.2" stroke-linecap="butt"/>
<line x1="232.3" y1="647.3" x2="242.3" y2="647.3" stroke="#000" stroke-width="1.2" stroke-linecap="butt"/>
<circle cx="237.2" cy="631.9" r="1.85" fill="#fff" stroke="#000" stroke-width="1.15"/>
<circle cx="237.2" cy="647.3" r="1.85" fill="#fff" stroke="#000" stroke-width="1.15"/>
<circle cx="240.0" cy="652.7" r="1.85" fill="#fff" stroke="#000" stroke-width="1.15"/>
<circle cx="237.2" cy="655.8" r="1.85" fill="#fff" stroke="#000" stroke-width="1.15"/>
<line x1="220.8" y1="561.8" x2="248.5" y2="561.8" stroke="#333" stroke-width="1" stroke-linecap="butt"/>
<text x="220.8" y="557.0" font-family="'Liberation Sans', sans-serif" font-size="8.4" font-weight="normal" font-style="normal" text-anchor="start" fill="#111" textLength="30.0" lengthAdjust="spacingAndGlyphs" ><tspan font-style="italic">P</tspan> = .006</text>
<text x="218.5" y="680.0" font-family="'Liberation Sans', sans-serif" font-size="8.3" font-weight="normal" font-style="normal" text-anchor="start" fill="#111" textLength="27.0" lengthAdjust="spacingAndGlyphs" >TCR v&#946;1</text>
<rect x="259.2" y="590.2" width="4.2" height="4.2" fill="#000"/>
<rect x="265.1" y="594.4" width="4.2" height="4.2" fill="#000"/>
<rect x="264.4" y="606.8" width="4.2" height="4.2" fill="#000"/>
<rect x="268.6" y="606.8" width="4.2" height="4.2" fill="#000"/>
<line x1="261.3" y1="601.7" x2="273.5" y2="601.7" stroke="#000" stroke-width="1.2" stroke-linecap="butt"/>
<line x1="276.2" y1="647.0" x2="288.0" y2="647.0" stroke="#000" stroke-width="1.2" stroke-linecap="butt"/>
<circle cx="281.4" cy="636.3" r="1.85" fill="#fff" stroke="#000" stroke-width="1.15"/>
<circle cx="279.7" cy="647.7" r="1.85" fill="#fff" stroke="#000" stroke-width="1.15"/>
<circle cx="285.6" cy="648.7" r="1.85" fill="#fff" stroke="#000" stroke-width="1.15"/>
<circle cx="281.4" cy="652.9" r="1.85" fill="#fff" stroke="#000" stroke-width="1.15"/>
<line x1="253.7" y1="583.0" x2="281.4" y2="583.0" stroke="#333" stroke-width="1" stroke-linecap="butt"/>
<text x="253.7" y="577.8" font-family="'Liberation Sans', sans-serif" font-size="8.4" font-weight="normal" font-style="normal" text-anchor="start" fill="#111" textLength="28.4" lengthAdjust="spacingAndGlyphs" ><tspan font-style="italic">P</tspan> &lt; .001</text>
<text x="262.1" y="679.5" font-family="'Liberation Sans', sans-serif" font-size="8.3" font-weight="normal" font-style="normal" text-anchor="start" fill="#111" textLength="28.3" lengthAdjust="spacingAndGlyphs" >TCR v&#946;2</text>
<rect x="310.1" y="592.6" width="4.2" height="4.2" fill="#000"/>
<rect x="310.1" y="609.9" width="4.2" height="4.2" fill="#000"/>
<rect x="310.1" y="649.1" width="4.2" height="4.2" fill="#000"/>
<line x1="306.3" y1="602.7" x2="317.8" y2="602.7" stroke="#000" stroke-width="1.2" stroke-linecap="butt"/>
<line x1="321.9" y1="653.6" x2="332.3" y2="653.6" stroke="#000" stroke-width="1.2" stroke-linecap="butt"/>
<circle cx="327.1" cy="638.0" r="1.85" fill="#fff" stroke="#000" stroke-width="1.15"/>
<circle cx="327.1" cy="652.9" r="1.85" fill="#fff" stroke="#000" stroke-width="1.15"/>
<circle cx="327.1" cy="660.8" r="1.85" fill="#fff" stroke="#000" stroke-width="1.15"/>
<circle cx="330.6" cy="660.8" r="1.85" fill="#fff" stroke="#000" stroke-width="1.15"/>
<line x1="302.9" y1="583.0" x2="330.6" y2="583.0" stroke="#333" stroke-width="1" stroke-linecap="butt"/>
<text x="302.9" y="577.8" font-family="'Liberation Sans', sans-serif" font-size="8.4" font-weight="normal" font-style="normal" text-anchor="start" fill="#111" textLength="28.4" lengthAdjust="spacingAndGlyphs" ><tspan font-style="italic">P</tspan> = .048</text>
<text x="305.2" y="679.5" font-family="'Liberation Sans', sans-serif" font-size="8.3" font-weight="normal" font-style="normal" text-anchor="start" fill="#111" textLength="28.6" lengthAdjust="spacingAndGlyphs" >TCR v&#946;3</text>
<rect x="349.3" y="638.7" width="4.2" height="4.2" fill="#000"/>
<rect x="353.5" y="642.1" width="4.2" height="4.2" fill="#000"/>
<rect x="356.9" y="643.9" width="4.2" height="4.2" fill="#000"/>
<rect x="353.5" y="648.0" width="4.2" height="4.2" fill="#000"/>
<line x1="352.1" y1="646.6" x2="361.5" y2="646.6" stroke="#000" stroke-width="1.2" stroke-linecap="butt"/>
<line x1="367.0" y1="662.2" x2="375.7" y2="662.2" stroke="#000" stroke-width="1.2" stroke-linecap="butt"/>
<circle cx="371.2" cy="656.3" r="1.85" fill="#fff" stroke="#000" stroke-width="1.15"/>
<circle cx="368.4" cy="661.5" r="1.85" fill="#fff" stroke="#000" stroke-width="1.15"/>
<circle cx="373.5" cy="661.5" r="1.85" fill="#fff" stroke="#000" stroke-width="1.15"/>
<circle cx="370.8" cy="662.6" r="1.85" fill="#fff" stroke="#000" stroke-width="1.15"/>
<line x1="342.8" y1="628.0" x2="369.4" y2="628.0" stroke="#333" stroke-width="1" stroke-linecap="butt"/>
<text x="341.7" y="623.5" font-family="'Liberation Sans', sans-serif" font-size="8.4" font-weight="normal" font-style="normal" text-anchor="start" fill="#111" textLength="29.5" lengthAdjust="spacingAndGlyphs" ><tspan font-style="italic">P</tspan> = .015</text>
<text x="349.6" y="681.0" font-family="'Liberation Sans', sans-serif" font-size="8.3" font-weight="normal" font-style="normal" text-anchor="start" fill="#111" textLength="26.6" lengthAdjust="spacingAndGlyphs" >TCR v&#946;4</text>
<rect x="399.5" y="620.7" width="4.2" height="4.2" fill="#000"/>
<rect x="396.7" y="643.9" width="4.2" height="4.2" fill="#000"/>
<rect x="400.2" y="646.6" width="4.2" height="4.2" fill="#000"/>
<rect x="403.0" y="643.9" width="4.2" height="4.2" fill="#000"/>
<line x1="396.4" y1="641.5" x2="406.8" y2="641.5" stroke="#000" stroke-width="1.2" stroke-linecap="butt"/>
<line x1="411.0" y1="654.6" x2="421.3" y2="654.6" stroke="#000" stroke-width="1.2" stroke-linecap="butt"/>
<circle cx="415.5" cy="649.4" r="1.85" fill="#fff" stroke="#000" stroke-width="1.15"/>
<circle cx="413.4" cy="655.3" r="1.85" fill="#fff" stroke="#000" stroke-width="1.15"/>
<circle cx="419.6" cy="655.3" r="1.85" fill="#fff" stroke="#000" stroke-width="1.15"/>
<circle cx="416.2" cy="659.8" r="1.85" fill="#fff" stroke="#000" stroke-width="1.15"/>
<line x1="391.9" y1="608.9" x2="418.9" y2="608.9" stroke="#333" stroke-width="1" stroke-linecap="butt"/>
<text x="391.2" y="604.0" font-family="'Liberation Sans', sans-serif" font-size="8.4" font-weight="normal" font-style="normal" text-anchor="start" fill="#111" textLength="30.0" lengthAdjust="spacingAndGlyphs" ><tspan font-style="italic">P</tspan> = .048</text>
<text x="392.9" y="680.5" font-family="'Liberation Sans', sans-serif" font-size="8.3" font-weight="normal" font-style="normal" text-anchor="start" fill="#111" textLength="31.6" lengthAdjust="spacingAndGlyphs" >TCR v&#946;7.1</text>
<rect x="444.2" y="567.0" width="4.2" height="4.2" fill="#000"/>
<rect x="444.2" y="586.1" width="4.2" height="4.2" fill="#000"/>
<rect x="444.2" y="606.8" width="4.2" height="4.2" fill="#000"/>
<rect x="444.2" y="636.2" width="4.2" height="4.2" fill="#000"/>
<line x1="440.4" y1="601.0" x2="451.8" y2="601.0" stroke="#000" stroke-width="1.2" stroke-linecap="butt"/>
<line x1="456.0" y1="656.3" x2="467.4" y2="656.3" stroke="#000" stroke-width="1.2" stroke-linecap="butt"/>
<circle cx="456.0" cy="648.7" r="1.85" fill="#fff" stroke="#000" stroke-width="1.15"/>
<circle cx="461.1" cy="651.8" r="1.85" fill="#fff" stroke="#000" stroke-width="1.15"/>
<circle cx="462.9" cy="658.8" r="1.85" fill="#fff" stroke="#000" stroke-width="1.15"/>
<circle cx="459.4" cy="662.2" r="1.85" fill="#fff" stroke="#000" stroke-width="1.15"/>
<line x1="436.2" y1="561.8" x2="462.9" y2="561.8" stroke="#333" stroke-width="1" stroke-linecap="butt"/>
<text x="435.2" y="557.0" font-family="'Liberation Sans', sans-serif" font-size="8.4" font-weight="normal" font-style="normal" text-anchor="start" fill="#111" textLength="29.4" lengthAdjust="spacingAndGlyphs" ><tspan font-style="italic">P</tspan> = .030</text>
<text x="444.0" y="679.3" font-family="'Liberation Sans', sans-serif" font-size="8.3" font-weight="normal" font-style="normal" text-anchor="start" fill="#111" textLength="27.0" lengthAdjust="spacingAndGlyphs" >TCR v&#946;8</text>
<rect x="489.2" y="598.2" width="4.2" height="4.2" fill="#000"/>
<rect x="489.2" y="612.0" width="4.2" height="4.2" fill="#000"/>
<rect x="489.2" y="621.4" width="4.2" height="4.2" fill="#000"/>
<rect x="489.2" y="631.7" width="4.2" height="4.2" fill="#000"/>
<line x1="485.4" y1="617.6" x2="496.5" y2="617.6" stroke="#000" stroke-width="1.2" stroke-linecap="butt"/>
<circle cx="507.9" cy="653.9" r="1.85" fill="#fff" stroke="#000" stroke-width="1.15"/>
<circle cx="503.4" cy="658.1" r="1.85" fill="#fff" stroke="#000" stroke-width="1.15"/>
<circle cx="506.1" cy="659.8" r="1.85" fill="#fff" stroke="#000" stroke-width="1.15"/>
<circle cx="509.6" cy="658.8" r="1.85" fill="#fff" stroke="#000" stroke-width="1.15"/>
<line x1="485.4" y1="591.6" x2="513.1" y2="591.6" stroke="#333" stroke-width="1" stroke-linecap="butt"/>
<text x="485.4" y="587.1" font-family="'Liberation Sans', sans-serif" font-size="8.4" font-weight="normal" font-style="normal" text-anchor="start" fill="#111" textLength="29.4" lengthAdjust="spacingAndGlyphs" ><tspan font-style="italic">P</tspan> = .011</text>
<text x="487.7" y="679.3" font-family="'Liberation Sans', sans-serif" font-size="8.3" font-weight="normal" font-style="normal" text-anchor="start" fill="#111" textLength="30.2" lengthAdjust="spacingAndGlyphs" >TCR v&#946;17</text>
</svg>
</body></html>
